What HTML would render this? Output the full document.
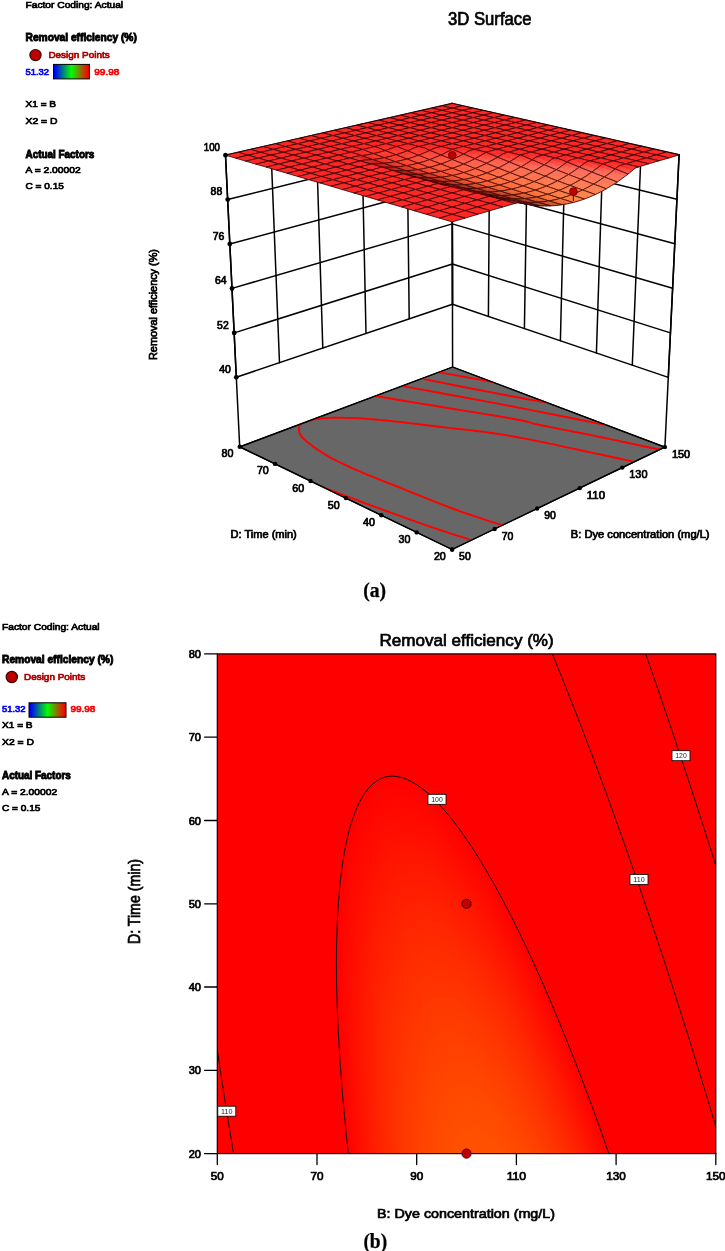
<!DOCTYPE html>
<html><head><meta charset="utf-8"><title>Figure</title><style>html,body{margin:0;padding:0;background:#fff}svg{display:block}</style></head><body>
<svg width="725" height="1251" viewBox="0 0 725 1251">
<defs><linearGradient id="lg" x1="0" x2="1" y1="0" y2="0"><stop offset="0.04" stop-color="#0000ff"/><stop offset="0.5" stop-color="#00ff00"/><stop offset="0.96" stop-color="#ff0000"/></linearGradient></defs>
<rect width="725" height="1251" fill="#fff"/>
<text x="25.5" y="8.2" font-family='"Liberation Sans", sans-serif' font-size="9.6" font-weight="normal" fill="#000" text-anchor="start" textLength="97.6" lengthAdjust="spacingAndGlyphs" stroke="#000" stroke-width="0.7">Factor Coding: Actual</text>
<text x="25.5" y="41.0" font-family='"Liberation Sans", sans-serif' font-size="10.8" font-weight="bold" fill="#000" text-anchor="start" textLength="111.3" lengthAdjust="spacingAndGlyphs" stroke="#000" stroke-width="0.9">Removal efficiency (%)</text>
<circle cx="35.5" cy="55.1" r="5.6" fill="#c00000" stroke="#3a0000" stroke-width="1.2"/>
<text x="48.4" y="57.6" font-family='"Liberation Sans", sans-serif' font-size="9.6" font-weight="normal" fill="#b00000" text-anchor="start" textLength="61.3" lengthAdjust="spacingAndGlyphs" stroke="#b00000" stroke-width="0.7">Design Points</text>
<text x="25.5" y="75.0" font-family='"Liberation Sans", sans-serif' font-size="9.6" font-weight="normal" fill="#0000ff" text-anchor="start" textLength="23.6" lengthAdjust="spacingAndGlyphs" stroke="#0000ff" stroke-width="0.7">51.32</text>
<rect x="53.5" y="64.4" width="35.9" height="14.5" fill="url(#lg)" stroke="#000" stroke-width="1"/>
<text x="94.3" y="75.0" font-family='"Liberation Sans", sans-serif' font-size="9.6" font-weight="normal" fill="#ff0000" text-anchor="start" textLength="25.0" lengthAdjust="spacingAndGlyphs" stroke="#ff0000" stroke-width="0.7">99.98</text>
<text x="25.5" y="106.9" font-family='"Liberation Sans", sans-serif' font-size="9.6" font-weight="normal" fill="#000" text-anchor="start" textLength="30.6" lengthAdjust="spacingAndGlyphs" stroke="#000" stroke-width="0.7">X1 = B</text>
<text x="25.5" y="124.0" font-family='"Liberation Sans", sans-serif' font-size="9.6" font-weight="normal" fill="#000" text-anchor="start" textLength="32.0" lengthAdjust="spacingAndGlyphs" stroke="#000" stroke-width="0.7">X2 = D</text>
<text x="25.5" y="157.5" font-family='"Liberation Sans", sans-serif' font-size="10.8" font-weight="bold" fill="#000" text-anchor="start" textLength="68.8" lengthAdjust="spacingAndGlyphs" stroke="#000" stroke-width="0.9">Actual Factors</text>
<text x="25.5" y="173.4" font-family='"Liberation Sans", sans-serif' font-size="9.6" font-weight="normal" fill="#000" text-anchor="start" textLength="55.2" lengthAdjust="spacingAndGlyphs" stroke="#000" stroke-width="0.7">A = 2.00002</text>
<text x="25.5" y="188.8" font-family='"Liberation Sans", sans-serif' font-size="9.6" font-weight="normal" fill="#000" text-anchor="start" textLength="38.4" lengthAdjust="spacingAndGlyphs" stroke="#000" stroke-width="0.7">C = 0.15</text>
<text x="2.0" y="629.9" font-family='"Liberation Sans", sans-serif' font-size="9.6" font-weight="normal" fill="#000" text-anchor="start" textLength="97.6" lengthAdjust="spacingAndGlyphs" stroke="#000" stroke-width="0.7">Factor Coding: Actual</text>
<text x="2.0" y="662.6" font-family='"Liberation Sans", sans-serif' font-size="10.8" font-weight="bold" fill="#000" text-anchor="start" textLength="111.3" lengthAdjust="spacingAndGlyphs" stroke="#000" stroke-width="0.9">Removal efficiency (%)</text>
<circle cx="11.8" cy="677.0" r="5.6" fill="#c00000" stroke="#3a0000" stroke-width="1.2"/>
<text x="24.0" y="679.5" font-family='"Liberation Sans", sans-serif' font-size="9.6" font-weight="normal" fill="#b00000" text-anchor="start" textLength="61.3" lengthAdjust="spacingAndGlyphs" stroke="#b00000" stroke-width="0.7">Design Points</text>
<text x="2.0" y="712.3" font-family='"Liberation Sans", sans-serif' font-size="9.6" font-weight="normal" fill="#0000ff" text-anchor="start" textLength="23.6" lengthAdjust="spacingAndGlyphs" stroke="#0000ff" stroke-width="0.7">51.32</text>
<rect x="29.0" y="702.8" width="37.0" height="14.4" fill="url(#lg)" stroke="#000" stroke-width="1"/>
<text x="70.4" y="712.3" font-family='"Liberation Sans", sans-serif' font-size="9.6" font-weight="normal" fill="#ff0000" text-anchor="start" textLength="25.0" lengthAdjust="spacingAndGlyphs" stroke="#ff0000" stroke-width="0.7">99.98</text>
<text x="2.0" y="728.3" font-family='"Liberation Sans", sans-serif' font-size="9.6" font-weight="normal" fill="#000" text-anchor="start" textLength="30.6" lengthAdjust="spacingAndGlyphs" stroke="#000" stroke-width="0.7">X1 = B</text>
<text x="2.0" y="745.3" font-family='"Liberation Sans", sans-serif' font-size="9.6" font-weight="normal" fill="#000" text-anchor="start" textLength="32.0" lengthAdjust="spacingAndGlyphs" stroke="#000" stroke-width="0.7">X2 = D</text>
<text x="2.0" y="778.7" font-family='"Liberation Sans", sans-serif' font-size="10.8" font-weight="bold" fill="#000" text-anchor="start" textLength="68.8" lengthAdjust="spacingAndGlyphs" stroke="#000" stroke-width="0.9">Actual Factors</text>
<text x="2.0" y="795.2" font-family='"Liberation Sans", sans-serif' font-size="9.6" font-weight="normal" fill="#000" text-anchor="start" textLength="55.2" lengthAdjust="spacingAndGlyphs" stroke="#000" stroke-width="0.7">A = 2.00002</text>
<text x="2.0" y="810.7" font-family='"Liberation Sans", sans-serif' font-size="9.6" font-weight="normal" fill="#000" text-anchor="start" textLength="38.4" lengthAdjust="spacingAndGlyphs" stroke="#000" stroke-width="0.7">C = 0.15</text>
<text x="489.7" y="24.7" font-family='"Liberation Sans", sans-serif' font-size="17.8" font-weight="normal" fill="#000" text-anchor="middle" textLength="83.4" lengthAdjust="spacingAndGlyphs" stroke="#000" stroke-width="0.7">3D Surface</text>
<line x1="225.5" y1="155.2" x2="452.1" y2="103.5" stroke="#000" stroke-width="1.5" stroke-linecap="round"/>
<line x1="452.1" y1="103.5" x2="679.1" y2="154.7" stroke="#000" stroke-width="1.5" stroke-linecap="round"/>
<line x1="227.7" y1="199.6" x2="452.2" y2="143.6" stroke="#000" stroke-width="1.5" stroke-linecap="round"/>
<line x1="452.2" y1="143.6" x2="676.9" y2="199.2" stroke="#000" stroke-width="1.5" stroke-linecap="round"/>
<line x1="229.8" y1="244.0" x2="452.3" y2="183.8" stroke="#000" stroke-width="1.5" stroke-linecap="round"/>
<line x1="452.3" y1="183.8" x2="674.8" y2="243.8" stroke="#000" stroke-width="1.5" stroke-linecap="round"/>
<line x1="232.0" y1="288.4" x2="452.3" y2="223.9" stroke="#000" stroke-width="1.5" stroke-linecap="round"/>
<line x1="452.3" y1="223.9" x2="672.6" y2="288.3" stroke="#000" stroke-width="1.5" stroke-linecap="round"/>
<line x1="234.2" y1="332.9" x2="452.4" y2="264.0" stroke="#000" stroke-width="1.5" stroke-linecap="round"/>
<line x1="452.4" y1="264.0" x2="670.4" y2="332.9" stroke="#000" stroke-width="1.5" stroke-linecap="round"/>
<line x1="236.3" y1="377.3" x2="452.5" y2="304.2" stroke="#000" stroke-width="1.5" stroke-linecap="round"/>
<line x1="452.5" y1="304.2" x2="668.3" y2="377.4" stroke="#000" stroke-width="1.5" stroke-linecap="round"/>
<line x1="236.3" y1="377.3" x2="225.5" y2="155.2" stroke="#000" stroke-width="1.5" stroke-linecap="round"/>
<line x1="279.5" y1="362.7" x2="270.8" y2="144.9" stroke="#000" stroke-width="1.5" stroke-linecap="round"/>
<line x1="322.8" y1="348.0" x2="316.1" y2="134.5" stroke="#000" stroke-width="1.5" stroke-linecap="round"/>
<line x1="366.0" y1="333.4" x2="361.5" y2="124.2" stroke="#000" stroke-width="1.5" stroke-linecap="round"/>
<line x1="409.2" y1="318.8" x2="406.8" y2="113.8" stroke="#000" stroke-width="1.5" stroke-linecap="round"/>
<line x1="452.5" y1="304.2" x2="452.1" y2="103.5" stroke="#000" stroke-width="1.5" stroke-linecap="round"/>
<line x1="452.5" y1="304.2" x2="452.1" y2="103.5" stroke="#000" stroke-width="1.5" stroke-linecap="round"/>
<line x1="488.4" y1="316.4" x2="489.9" y2="112.0" stroke="#000" stroke-width="1.5" stroke-linecap="round"/>
<line x1="524.4" y1="328.6" x2="527.8" y2="120.6" stroke="#000" stroke-width="1.5" stroke-linecap="round"/>
<line x1="560.4" y1="340.8" x2="565.6" y2="129.1" stroke="#000" stroke-width="1.5" stroke-linecap="round"/>
<line x1="596.4" y1="353.0" x2="603.4" y2="137.6" stroke="#000" stroke-width="1.5" stroke-linecap="round"/>
<line x1="632.3" y1="365.2" x2="641.3" y2="146.2" stroke="#000" stroke-width="1.5" stroke-linecap="round"/>
<line x1="668.3" y1="377.4" x2="679.1" y2="154.7" stroke="#000" stroke-width="1.5" stroke-linecap="round"/>
<line x1="239.7" y1="446.8" x2="225.5" y2="155.2" stroke="#000" stroke-width="1.5" stroke-linecap="round"/>
<line x1="452.6" y1="367.0" x2="452.1" y2="103.5" stroke="#000" stroke-width="1.5" stroke-linecap="round"/>
<line x1="664.9" y1="447.1" x2="679.1" y2="154.7" stroke="#000" stroke-width="1.5" stroke-linecap="round"/>
<polygon points="239.7,446.8 452.1,549.5 664.9,447.1 452.6,367.0" fill="#676767" stroke="#000" stroke-width="1.3" stroke-linejoin="round"/>
<clipPath id="fc"><polygon points="239.7,446.8 452.1,549.5 664.9,447.1 452.6,367.0"/></clipPath><g clip-path="url(#fc)">
<polyline points="507.0,526.8 506.8,526.7 506.9,526.8 507.0,526.8 506.9,526.8 506.5,526.6 505.5,526.3 503.8,525.8 501.2,524.9 497.6,523.7 493.0,522.3 487.8,520.6 482.0,518.7 475.8,516.7 469.4,514.5 462.9,512.3 456.5,510.0 449.8,507.5 442.4,504.6 434.6,501.6 426.8,498.4 419.1,495.4 411.9,492.5 405.4,489.9 400.0,487.7 395.7,486.0 392.2,484.6 389.4,483.5 387.1,482.6 385.2,481.8 383.3,481.1 381.4,480.4 379.3,479.5 377.0,478.6 374.9,477.7 372.8,476.9 370.8,476.1 368.8,475.3 366.8,474.5 364.8,473.7 362.8,472.8 360.7,471.9 358.7,471.0 356.6,470.1 354.5,469.2 352.4,468.3 350.3,467.3 348.3,466.4 346.2,465.4 344.1,464.4 342.1,463.4 340.0,462.5 337.9,461.5 335.9,460.4 333.8,459.4 331.8,458.3 329.7,457.1 327.6,455.9 325.4,454.6 323.3,453.2 321.1,451.9 319.0,450.5 316.9,449.1 314.9,447.7 313.1,446.4 311.3,445.1 309.6,443.8 308.0,442.5 306.4,441.2 305.0,439.9 303.6,438.7 302.5,437.5 301.5,436.4 300.7,435.3 300.1,434.3 299.7,433.4 299.4,432.4 299.2,431.5 299.1,430.7 299.0,429.8 299.0,429.0 299.0,428.2 299.1,427.4 299.2,426.6 299.4,425.9 299.7,425.2 300.1,424.5 300.7,423.8 301.5,423.2 302.5,422.6 303.6,422.1 305.0,421.6 306.4,421.1 308.0,420.6 309.6,420.2 311.3,419.8 313.1,419.5 314.9,419.2 316.9,418.9 319.0,418.7 321.1,418.5 323.3,418.3 325.4,418.1 327.6,418.0 329.7,417.9 331.8,417.8 333.8,417.8 335.9,417.8 337.9,417.8 340.0,417.8 342.1,417.8 344.1,417.9 346.2,417.9 348.3,417.9 350.3,418.0 352.4,418.0 354.5,418.1 356.6,418.2 358.7,418.3 360.7,418.4 362.8,418.5 364.8,418.6 366.8,418.8 368.8,418.9 370.8,419.1 372.8,419.3 374.9,419.5 377.0,419.7 379.3,419.9 381.5,420.1 383.6,420.3 385.7,420.5 387.9,420.7 390.3,420.9 393.0,421.2 396.2,421.6 400.0,422.0 404.4,422.5 409.5,423.1 415.0,423.8 420.9,424.5 426.9,425.2 433.0,426.0 439.0,426.7 444.8,427.4 450.4,428.1 456.0,428.7 461.6,429.3 467.2,429.9 472.8,430.5 478.4,431.2 484.0,431.9 489.6,432.7 495.2,433.5 500.8,434.4 506.4,435.4 512.0,436.3 517.7,437.3 523.3,438.4 528.9,439.4 534.5,440.5 540.1,441.6 545.7,442.8 551.3,443.9 556.9,445.1 562.5,446.4 568.1,447.6 573.7,448.8 579.3,450.0 585.1,451.2 591.3,452.6 597.6,453.9 603.9,455.3 609.9,456.5 615.4,457.7 620.2,458.8 624.1,459.6 627.0,460.2 629.1,460.7 630.4,461.0 631.3,461.2 631.9,461.3 632.4,461.4 632.9,461.5 633.7,461.7 634.7,461.9 635.7,462.1 636.6,462.3 637.5,462.5 638.2,462.6 638.9,462.8 639.5,462.9 640.0,463.0" fill="none" stroke="#f00" stroke-width="1.9" stroke-linecap="butt" stroke-linejoin="round"/>
<polyline points="320.6,486.4 322.6,487.2 325.4,488.2 328.7,489.4 332.4,490.8 336.1,492.2 339.8,493.6 343.3,494.9 346.2,496.0 348.7,496.9 351.0,497.8 353.1,498.6 355.1,499.4 357.0,500.1 358.9,500.8 360.8,501.5 362.8,502.3 364.8,503.1 366.8,503.8 368.8,504.5 370.8,505.3 372.8,506.0 374.9,506.8 377.0,507.6 379.3,508.4 381.6,509.2 384.0,510.1 386.3,511.0 388.8,511.9 391.4,512.8 394.1,513.8 396.9,514.8 400.0,515.9 403.2,517.1 406.6,518.3 410.1,519.6 413.8,520.9 417.6,522.3 421.6,523.7 425.7,525.1 430.0,526.6 434.8,528.2 440.2,530.0 445.9,531.9 451.7,533.8 457.3,535.6 462.4,537.2 466.8,538.7 470.3,539.8 472.7,540.6 474.3,541.1 475.2,541.4 475.7,541.5 475.8,541.6 475.8,541.5 475.8,541.5 476.0,541.6" fill="none" stroke="#f00" stroke-width="1.9" stroke-linecap="butt" stroke-linejoin="round"/>
<polyline points="439.7,372.4 496.8,382.8" fill="none" stroke="#f00" stroke-width="1.9" stroke-linecap="butt" stroke-linejoin="round"/>
<polyline points="423.9,379.1 430.9,380.5 440.5,382.4 452.1,384.7 464.7,387.2 477.6,389.7 490.0,392.1 501.0,394.3 510.0,396.0 517.1,397.3 523.4,398.5 528.8,399.5 533.4,400.3 537.3,400.9 540.7,401.5 543.6,402.0 546.0,402.4" fill="none" stroke="#f00" stroke-width="1.9" stroke-linecap="butt" stroke-linejoin="round"/>
<polyline points="404.0,386.4 412.2,387.9 423.2,389.9 436.3,392.3 450.8,395.0 466.1,397.8 481.5,400.6 496.4,403.4 510.0,406.0 523.4,408.6 537.5,411.4 552.0,414.2 566.1,417.0 579.4,419.7 591.3,422.1 601.3,424.1 608.9,425.6" fill="none" stroke="#f00" stroke-width="1.9" stroke-linecap="butt" stroke-linejoin="round"/>
<polyline points="375.7,395.8 376.1,395.9 375.8,395.9 375.4,395.9 375.3,395.9 376.3,396.1 378.7,396.6 383.1,397.3 390.0,398.5 400.6,400.2 414.7,402.6 431.2,405.2 449.0,408.2 466.9,411.1 483.9,413.9 498.6,416.3 510.0,418.3 517.9,419.7 523.1,420.8 526.5,421.5 528.8,422.1 530.5,422.7 532.5,423.3 535.4,424.0 540.0,425.0 546.1,426.2 552.9,427.6 560.3,429.1 568.2,430.6 576.3,432.2 584.4,433.8 592.3,435.4 600.0,437.0 607.8,438.6 616.2,440.4 624.8,442.2 633.2,444.0 641.2,445.7 648.4,447.2 654.5,448.5 659.0,449.5" fill="none" stroke="#f00" stroke-width="1.9" stroke-linecap="butt" stroke-linejoin="round"/>
</g>
<polygon points="239.7,446.8 452.1,549.5 664.9,447.1 452.6,367.0" fill="none" stroke="#000" stroke-width="1.3" stroke-linejoin="round"/>
<style>.m{stroke:#2a0000;stroke-width:0.8;stroke-linejoin:round}.o{fill:none;stroke:#2a0000;stroke-width:0.8;stroke-linejoin:round}</style>
<g><polygon points="452.3,108.1 462.4,105.8 452.3,103.5 442.2,105.8" fill="#ff2626" class="m"/><polygon points="442.0,110.4 452.3,108.1 442.2,105.8 431.9,108.1" fill="#ff2626" class="m"/><polygon points="462.5,110.4 472.6,108.1 462.4,105.8 452.3,108.1" fill="#ff2626" class="m"/><polygon points="431.7,112.8 442.0,110.4 431.9,108.1 421.6,110.5" fill="#ff2626" class="m"/><polygon points="452.3,112.8 462.5,110.4 452.3,108.1 442.0,110.4" fill="#ff2626" class="m"/><polygon points="472.8,112.8 482.9,110.4 472.6,108.1 462.5,110.4" fill="#ff2626" class="m"/><polygon points="421.2,115.2 431.7,112.8 421.6,110.5 411.2,112.8" fill="#ff2626" class="m"/><polygon points="441.9,115.2 452.3,112.8 442.0,110.4 431.7,112.8" fill="#ff2626" class="m"/><polygon points="462.6,115.2 472.8,112.8 462.5,110.4 452.3,112.8" fill="#ff2626" class="m"/><polygon points="483.3,115.2 493.4,112.8 482.9,110.4 472.8,112.8" fill="#ff2626" class="m"/><polygon points="410.7,117.7 421.2,115.2 411.2,112.8 400.6,115.3" fill="#ff2626" class="m"/><polygon points="431.5,117.7 441.9,115.2 431.7,112.8 421.2,115.2" fill="#ff2626" class="m"/><polygon points="452.3,117.7 462.6,115.2 452.3,112.8 441.9,115.2" fill="#ff2626" class="m"/><polygon points="473.1,117.6 483.3,115.2 472.8,112.8 462.6,115.2" fill="#ff2626" class="m"/><polygon points="493.9,117.6 504.0,115.2 493.4,112.8 483.3,115.2" fill="#ff2626" class="m"/><polygon points="400.0,120.2 410.7,117.7 400.6,115.3 389.9,117.7" fill="#ff2626" class="m"/><polygon points="420.9,120.1 431.5,117.7 421.2,115.2 410.7,117.7" fill="#ff2626" class="m"/><polygon points="441.8,120.1 452.3,117.7 441.9,115.2 431.5,117.7" fill="#ff2626" class="m"/><polygon points="462.7,120.1 473.1,117.6 462.6,115.2 452.3,117.7" fill="#ff2626" class="m"/><polygon points="483.6,120.1 493.9,117.6 483.3,115.2 473.1,117.6" fill="#ff2626" class="m"/><polygon points="504.6,120.1 514.7,117.6 504.0,115.2 493.9,117.6" fill="#ff2626" class="m"/><polygon points="389.1,122.7 400.0,120.2 389.9,117.7 379.0,120.2" fill="#ff2626" class="m"/><polygon points="410.2,122.6 420.9,120.1 410.7,117.7 400.0,120.2" fill="#ff2626" class="m"/><polygon points="431.2,122.6 441.8,120.1 431.5,117.7 420.9,120.1" fill="#ff2626" class="m"/><polygon points="452.3,122.6 462.7,120.1 452.3,117.7 441.8,120.1" fill="#ff2626" class="m"/><polygon points="473.3,122.6 483.6,120.1 473.1,117.6 462.7,120.1" fill="#ff2626" class="m"/><polygon points="494.4,122.6 504.6,120.1 493.9,117.6 483.6,120.1" fill="#ff2626" class="m"/><polygon points="515.4,122.6 525.5,120.1 514.7,117.6 504.6,120.1" fill="#ff2626" class="m"/><polygon points="378.2,125.2 389.1,122.7 379.0,120.2 368.1,122.7" fill="#ff2626" class="m"/><polygon points="399.3,125.2 410.2,122.6 400.0,120.2 389.1,122.7" fill="#ff2626" class="m"/><polygon points="420.5,125.2 431.2,122.6 420.9,120.1 410.2,122.6" fill="#ff2626" class="m"/><polygon points="441.7,125.1 452.3,122.6 441.8,120.1 431.2,122.6" fill="#ff2626" class="m"/><polygon points="462.8,125.1 473.3,122.6 462.7,120.1 452.3,122.6" fill="#ff2626" class="m"/><polygon points="484.0,125.1 494.4,122.6 483.6,120.1 473.3,122.6" fill="#ff2626" class="m"/><polygon points="505.2,125.1 515.4,122.6 504.6,120.1 494.4,122.6" fill="#ff2626" class="m"/><polygon points="526.4,125.1 536.5,122.6 525.5,120.1 515.4,122.6" fill="#ff2626" class="m"/><polygon points="367.1,127.7 378.2,125.2 368.1,122.7 357.0,125.2" fill="#ff2626" class="m"/><polygon points="388.4,127.7 399.3,125.2 389.1,122.7 378.2,125.2" fill="#ff2626" class="m"/><polygon points="409.7,127.7 420.5,125.2 410.2,122.6 399.3,125.2" fill="#ff2626" class="m"/><polygon points="431.0,127.7 441.7,125.1 431.2,122.6 420.5,125.2" fill="#ff2626" class="m"/><polygon points="452.3,127.7 462.8,125.1 452.3,122.6 441.7,125.1" fill="#ff2626" class="m"/><polygon points="473.6,127.7 484.0,125.1 473.3,122.6 462.8,125.1" fill="#ff2626" class="m"/><polygon points="494.9,127.7 505.2,125.1 494.4,122.6 484.0,125.1" fill="#ff2626" class="m"/><polygon points="516.2,127.7 526.4,125.1 515.4,122.6 505.2,125.1" fill="#ff2626" class="m"/><polygon points="537.5,127.6 547.6,125.1 536.5,122.6 526.4,125.1" fill="#ff2626" class="m"/><polygon points="355.8,130.3 367.1,127.7 357.0,125.2 345.8,127.8" fill="#ff2626" class="m"/><polygon points="377.2,130.3 388.4,127.7 378.2,125.2 367.1,127.7" fill="#ff2626" class="m"/><polygon points="398.7,130.3 409.7,127.7 399.3,125.2 388.4,127.7" fill="#ff2626" class="m"/><polygon points="420.1,130.3 431.0,127.7 420.5,125.2 409.7,127.7" fill="#ff2626" class="m"/><polygon points="441.5,130.3 452.3,127.7 441.7,125.1 431.0,127.7" fill="#ff2626" class="m"/><polygon points="463.0,130.3 473.6,127.7 462.8,125.1 452.3,127.7" fill="#ff2626" class="m"/><polygon points="484.4,130.3 494.9,127.7 484.0,125.1 473.6,127.7" fill="#ff2626" class="m"/><polygon points="505.9,130.2 516.2,127.7 505.2,125.1 494.9,127.7" fill="#ff2626" class="m"/><polygon points="527.3,130.2 537.5,127.6 526.4,125.1 516.2,127.7" fill="#ff2626" class="m"/><polygon points="548.7,130.2 558.8,127.6 547.6,125.1 537.5,127.6" fill="#ff2626" class="m"/><polygon points="344.4,133.0 355.8,130.3 345.8,127.8 334.4,130.3" fill="#ff2626" class="m"/><polygon points="366.0,132.9 377.2,130.3 367.1,127.7 355.8,130.3" fill="#ff2626" class="m"/><polygon points="387.6,132.9 398.7,130.3 388.4,127.7 377.2,130.3" fill="#ff2626" class="m"/><polygon points="409.1,132.9 420.1,130.3 409.7,127.7 398.7,130.3" fill="#ff2626" class="m"/><polygon points="430.7,132.9 441.5,130.3 431.0,127.7 420.1,130.3" fill="#ff2626" class="m"/><polygon points="452.3,132.9 463.0,130.3 452.3,127.7 441.5,130.3" fill="#ff2626" class="m"/><polygon points="473.8,132.9 484.4,130.3 473.6,127.7 463.0,130.3" fill="#ff2626" class="m"/><polygon points="495.4,132.9 505.9,130.2 494.9,127.7 484.4,130.3" fill="#ff2626" class="m"/><polygon points="517.0,132.9 527.3,130.2 516.2,127.7 505.9,130.2" fill="#ff2626" class="m"/><polygon points="538.5,132.8 548.7,130.2 537.5,127.6 527.3,130.2" fill="#ff2626" class="m"/><polygon points="560.1,132.8 570.2,130.2 558.8,127.6 548.7,130.2" fill="#ff2626" class="m"/><polygon points="332.9,135.6 344.4,133.0 334.4,130.3 322.9,133.0" fill="#ff2626" class="m"/><polygon points="354.6,135.6 366.0,132.9 355.8,130.3 344.4,133.0" fill="#ff2626" class="m"/><polygon points="376.3,135.6 387.6,132.9 377.2,130.3 366.0,132.9" fill="#ff2626" class="m"/><polygon points="398.0,135.6 409.1,132.9 398.7,130.3 387.6,132.9" fill="#ff2626" class="m"/><polygon points="419.7,135.6 430.7,132.9 420.1,130.3 409.1,132.9" fill="#ff2626" class="m"/><polygon points="441.4,135.5 452.3,132.9 441.5,130.3 430.7,132.9" fill="#ff2626" class="m"/><polygon points="463.1,135.5 473.8,132.9 463.0,130.3 452.3,132.9" fill="#ff2626" class="m"/><polygon points="484.8,135.5 495.4,132.9 484.4,130.3 473.8,132.9" fill="#ff2626" class="m"/><polygon points="506.5,135.5 517.0,132.9 505.9,130.2 495.4,132.9" fill="#ff2626" class="m"/><polygon points="528.2,135.5 538.5,132.8 527.3,130.2 517.0,132.9" fill="#ff2626" class="m"/><polygon points="549.9,135.5 560.1,132.8 548.7,130.2 538.5,132.8" fill="#ff2626" class="m"/><polygon points="571.6,135.5 581.7,132.8 570.2,130.2 560.1,132.8" fill="#ff2626" class="m"/><polygon points="321.3,138.3 332.9,135.6 322.9,133.0 311.2,135.6" fill="#ff2626" class="m"/><polygon points="343.1,138.3 354.6,135.6 344.4,133.0 332.9,135.6" fill="#ff2626" class="m"/><polygon points="364.9,138.3 376.3,135.6 366.0,132.9 354.6,135.6" fill="#ff2626" class="m"/><polygon points="386.8,138.3 398.0,135.6 387.6,132.9 376.3,135.6" fill="#ff2626" class="m"/><polygon points="408.6,138.2 419.7,135.6 409.1,132.9 398.0,135.6" fill="#ff2626" class="m"/><polygon points="430.4,138.2 441.4,135.5 430.7,132.9 419.7,135.6" fill="#ff2626" class="m"/><polygon points="452.3,138.2 463.1,135.5 452.3,132.9 441.4,135.5" fill="#ff2626" class="m"/><polygon points="474.1,138.2 484.8,135.5 473.8,132.9 463.1,135.5" fill="#ff2626" class="m"/><polygon points="495.9,138.2 506.5,135.5 495.4,132.9 484.8,135.5" fill="#ff2626" class="m"/><polygon points="517.8,138.2 528.2,135.5 517.0,132.9 506.5,135.5" fill="#ff2626" class="m"/><polygon points="539.6,138.2 549.9,135.5 538.5,132.8 528.2,135.5" fill="#ff2626" class="m"/><polygon points="561.5,138.2 571.6,135.5 560.1,132.8 549.9,135.5" fill="#ff2626" class="m"/><polygon points="583.3,138.1 593.4,135.5 581.7,132.8 571.6,135.5" fill="#ff2626" class="m"/><polygon points="309.5,141.0 321.3,138.3 311.2,135.6 299.5,138.3" fill="#ff2626" class="m"/><polygon points="331.4,141.0 343.1,138.3 332.9,135.6 321.3,138.3" fill="#ff2626" class="m"/><polygon points="353.4,141.0 364.9,138.3 354.6,135.6 343.1,138.3" fill="#ff2626" class="m"/><polygon points="375.4,141.0 386.8,138.3 376.3,135.6 364.9,138.3" fill="#ff2626" class="m"/><polygon points="397.3,141.0 408.6,138.2 398.0,135.6 386.8,138.3" fill="#ff2626" class="m"/><polygon points="419.3,141.0 430.4,138.2 419.7,135.6 408.6,138.2" fill="#ff2626" class="m"/><polygon points="441.3,140.9 452.3,138.2 441.4,135.5 430.4,138.2" fill="#ff2626" class="m"/><polygon points="463.2,140.9 474.1,138.2 463.1,135.5 452.3,138.2" fill="#ff2626" class="m"/><polygon points="485.2,140.9 495.9,138.2 484.8,135.5 474.1,138.2" fill="#ff2626" class="m"/><polygon points="507.2,140.9 517.8,138.2 506.5,135.5 495.9,138.2" fill="#ff2626" class="m"/><polygon points="529.2,140.9 539.6,138.2 528.2,135.5 517.8,138.2" fill="#ff2626" class="m"/><polygon points="551.2,140.9 561.5,138.2 549.9,135.5 539.6,138.2" fill="#ff2626" class="m"/><polygon points="573.1,140.9 583.3,138.1 571.6,135.5 561.5,138.2" fill="#ff2626" class="m"/><polygon points="595.1,140.9 605.2,138.1 593.4,135.5 583.3,138.1" fill="#ff2626" class="m"/><polygon points="297.5,143.8 309.5,141.0 299.5,138.3 287.5,141.0" fill="#ff2626" class="m"/><polygon points="319.6,143.8 331.4,141.0 321.3,138.3 309.5,141.0" fill="#ff2626" class="m"/><polygon points="341.7,143.8 353.4,141.0 343.1,138.3 331.4,141.0" fill="#ff2626" class="m"/><polygon points="363.8,143.7 375.4,141.0 364.9,138.3 353.4,141.0" fill="#ff2626" class="m"/><polygon points="385.9,143.7 397.3,141.0 386.8,138.3 375.4,141.0" fill="#ff2626" class="m"/><polygon points="408.0,143.7 419.3,141.0 408.6,138.2 397.3,141.0" fill="#ff2626" class="m"/><polygon points="430.1,143.7 441.3,140.9 430.4,138.2 419.3,141.0" fill="#ff2626" class="m"/><polygon points="452.3,143.7 463.2,140.9 452.3,138.2 441.3,140.9" fill="#ff2626" class="m"/><polygon points="474.4,143.7 485.2,140.9 474.1,138.2 463.2,140.9" fill="#ff2626" class="m"/><polygon points="496.5,143.7 507.2,140.9 495.9,138.2 485.2,140.9" fill="#ff2626" class="m"/><polygon points="518.6,143.7 529.2,140.9 517.8,138.2 507.2,140.9" fill="#ff2626" class="m"/><polygon points="540.7,143.6 551.2,140.9 539.6,138.2 529.2,140.9" fill="#ff2626" class="m"/><polygon points="562.8,143.6 573.1,140.9 561.5,138.2 551.2,140.9" fill="#ff2626" class="m"/><polygon points="585.0,143.6 595.1,140.9 583.3,138.1 573.1,140.9" fill="#ff2626" class="m"/><polygon points="607.1,143.6 617.1,140.8 605.2,138.1 595.1,140.9" fill="#ff2626" class="m"/><polygon points="285.4,146.6 297.5,143.8 287.5,141.0 275.4,143.8" fill="#ff2626" class="m"/><polygon points="307.7,146.6 319.6,143.8 309.5,141.0 297.5,143.8" fill="#ff2626" class="m"/><polygon points="329.9,146.5 341.7,143.8 331.4,141.0 319.6,143.8" fill="#ff2626" class="m"/><polygon points="352.1,146.5 363.8,143.7 353.4,141.0 341.7,143.8" fill="#ff2626" class="m"/><polygon points="374.4,146.5 385.9,143.7 375.4,141.0 363.8,143.7" fill="#ff2626" class="m"/><polygon points="396.6,146.5 408.0,143.7 397.3,141.0 385.9,143.7" fill="#ff2626" class="m"/><polygon points="418.9,146.5 430.1,143.7 419.3,141.0 408.0,143.7" fill="#ff2626" class="m"/><polygon points="441.1,146.5 452.3,143.7 441.3,140.9 430.1,143.7" fill="#ff2626" class="m"/><polygon points="463.4,146.5 474.4,143.7 463.2,140.9 452.3,143.7" fill="#ff2626" class="m"/><polygon points="485.6,146.5 496.5,143.7 485.2,140.9 474.4,143.7" fill="#ff2626" class="m"/><polygon points="507.9,146.4 518.6,143.7 507.2,140.9 496.5,143.7" fill="#ff2626" class="m"/><polygon points="530.1,146.4 540.7,143.6 529.2,140.9 518.6,143.7" fill="#ff2626" class="m"/><polygon points="552.4,146.4 562.8,143.6 551.2,140.9 540.7,143.6" fill="#ff2626" class="m"/><polygon points="574.7,146.4 585.0,143.6 573.1,140.9 562.8,143.6" fill="#ff2626" class="m"/><polygon points="596.9,146.4 607.1,143.6 595.1,140.9 585.0,143.6" fill="#ff2626" class="m"/><polygon points="619.2,146.4 629.2,143.6 617.1,140.8 607.1,143.6" fill="#ff2626" class="m"/><polygon points="273.2,149.4 285.4,146.6 275.4,143.8 263.2,146.6" fill="#ff2626" class="m"/><polygon points="295.6,149.4 307.7,146.6 297.5,143.8 285.4,146.6" fill="#ff2626" class="m"/><polygon points="317.9,149.4 329.9,146.5 319.6,143.8 307.7,146.6" fill="#ff2626" class="m"/><polygon points="340.3,149.4 352.1,146.5 341.7,143.8 329.9,146.5" fill="#ff2626" class="m"/><polygon points="363.5,145.6 367.3,144.7 363.8,143.7 360.0,144.7" fill="#ff2626" stroke="#ff2626" stroke-width="0.6"/><polygon points="367.0,146.5 370.9,145.6 367.3,144.7 363.5,145.6" fill="#ff2626" stroke="#ff2626" stroke-width="0.6"/><polygon points="370.5,147.5 374.4,146.5 370.9,145.6 367.0,146.5" fill="#ff2626" stroke="#ff2626" stroke-width="0.6"/><polygon points="359.6,146.5 363.5,145.6 360.0,144.7 356.1,145.6" fill="#ff2626" stroke="#ff2626" stroke-width="0.6"/><polygon points="363.1,147.5 367.0,146.5 363.5,145.6 359.6,146.5" fill="#ff2626" stroke="#ff2626" stroke-width="0.6"/><polygon points="366.6,148.5 370.5,147.5 367.0,146.5 363.1,147.5" fill="#ff2626" stroke="#ff2626" stroke-width="0.6"/><polygon points="355.6,147.5 359.6,146.5 356.1,145.6 352.1,146.5" fill="#ff2626" stroke="#ff2626" stroke-width="0.6"/><polygon points="359.2,148.4 363.1,147.5 359.6,146.5 355.6,147.5" fill="#ff2626" stroke="#ff2626" stroke-width="0.6"/><polygon points="362.7,149.5 366.6,148.5 363.1,147.5 359.2,148.4" fill="#ff2626" stroke="#ff2626" stroke-width="0.6"/><polygon points="362.7,149.5 364.7,149.0 366.6,148.5 368.6,148.0 370.5,147.5 372.5,147.0 374.4,146.5 372.6,146.1 370.9,145.6 369.1,145.1 367.3,144.7 365.6,144.2 363.8,143.7 361.9,144.2 360.0,144.7 358.0,145.1 356.1,145.6 354.1,146.1 352.1,146.5 353.9,147.0 355.6,147.5 357.4,147.9 359.2,148.4 360.9,148.9" class="o"/><polygon points="385.7,145.6 389.5,144.6 385.9,143.7 382.1,144.7" fill="#ff2626" stroke="#ff2626" stroke-width="0.6"/><polygon points="389.2,146.5 393.1,145.6 389.5,144.6 385.7,145.6" fill="#ff2626" stroke="#ff2626" stroke-width="0.6"/><polygon points="392.8,147.8 396.6,146.5 393.1,145.6 389.2,146.5" fill="#ff2626" stroke="#ff2626" stroke-width="0.6"/><polygon points="381.8,146.5 385.7,145.6 382.1,144.7 378.3,145.6" fill="#ff2626" stroke="#ff2626" stroke-width="0.6"/><polygon points="385.4,147.7 389.2,146.5 385.7,145.6 381.8,146.5" fill="#ff2626" stroke="#ff2626" stroke-width="0.6"/><polygon points="389.0,149.2 392.8,147.8 389.2,146.5 385.4,147.7" fill="#ff2928" stroke="#ff2928" stroke-width="0.6"/><polygon points="377.9,147.6 381.8,146.5 378.3,145.6 374.4,146.5" fill="#ff2626" stroke="#ff2626" stroke-width="0.6"/><polygon points="381.5,149.0 385.4,147.7 381.8,146.5 377.9,147.6" fill="#ff2827" stroke="#ff2827" stroke-width="0.6"/><polygon points="385.1,150.5 389.0,149.2 385.4,147.7 381.5,149.0" fill="#ff2d2a" stroke="#ff2d2a" stroke-width="0.6"/><polygon points="385.1,150.5 387.0,149.9 389.0,149.2 390.9,148.5 392.8,147.8 394.7,147.1 396.6,146.5 394.8,146.0 393.1,145.6 391.3,145.1 389.5,144.6 387.7,144.2 385.9,143.7 384.0,144.2 382.1,144.7 380.2,145.1 378.3,145.6 376.3,146.1 374.4,146.5 376.2,147.0 377.9,147.6 379.7,148.3 381.5,149.0 383.3,149.8" class="o"/><polygon points="407.8,145.6 411.6,144.6 408.0,143.7 404.3,144.6" fill="#ff2626" stroke="#ff2626" stroke-width="0.6"/><polygon points="411.5,146.5 415.2,145.6 411.6,144.6 407.8,145.6" fill="#ff2626" stroke="#ff2626" stroke-width="0.6"/><polygon points="415.1,147.5 418.9,146.5 415.2,145.6 411.5,146.5" fill="#ff2626" stroke="#ff2626" stroke-width="0.6"/><polygon points="404.0,146.5 407.8,145.6 404.3,144.6 400.4,145.6" fill="#ff2626" stroke="#ff2626" stroke-width="0.6"/><polygon points="407.7,147.7 411.5,146.5 407.8,145.6 404.0,146.5" fill="#ff2626" stroke="#ff2626" stroke-width="0.6"/><polygon points="411.3,149.2 415.1,147.5 411.5,146.5 407.7,147.7" fill="#ff2828" stroke="#ff2828" stroke-width="0.6"/><polygon points="400.2,147.8 404.0,146.5 400.4,145.6 396.6,146.5" fill="#ff2626" stroke="#ff2626" stroke-width="0.6"/><polygon points="403.9,149.3 407.7,147.7 404.0,146.5 400.2,147.8" fill="#ff2928" stroke="#ff2928" stroke-width="0.6"/><polygon points="407.5,150.8 411.3,149.2 407.7,147.7 403.9,149.3" fill="#ff302c" stroke="#ff302c" stroke-width="0.6"/><polygon points="407.5,150.8 409.4,150.0 411.3,149.2 413.2,148.4 415.1,147.5 417.0,147.0 418.9,146.5 417.1,146.0 415.2,145.6 413.4,145.1 411.6,144.6 409.8,144.2 408.0,143.7 406.1,144.2 404.3,144.6 402.4,145.1 400.4,145.6 398.5,146.0 396.6,146.5 398.4,147.0 400.2,147.8 402.0,148.5 403.9,149.3 405.7,150.0" class="o"/><polygon points="430.0,145.6 433.8,144.6 430.1,143.7 426.4,144.6" fill="#ff2626" stroke="#ff2626" stroke-width="0.6"/><polygon points="433.7,146.5 437.4,145.6 433.8,144.6 430.0,145.6" fill="#ff2626" stroke="#ff2626" stroke-width="0.6"/><polygon points="437.4,147.4 441.1,146.5 437.4,145.6 433.7,146.5" fill="#ff2626" stroke="#ff2626" stroke-width="0.6"/><polygon points="426.3,146.5 430.0,145.6 426.4,144.6 422.6,145.6" fill="#ff2626" stroke="#ff2626" stroke-width="0.6"/><polygon points="430.0,147.4 433.7,146.5 430.0,145.6 426.3,146.5" fill="#ff2626" stroke="#ff2626" stroke-width="0.6"/><polygon points="433.6,148.5 437.4,147.4 433.7,146.5 430.0,147.4" fill="#ff2626" stroke="#ff2626" stroke-width="0.6"/><polygon points="422.5,147.4 426.3,146.5 422.6,145.6 418.9,146.5" fill="#ff2626" stroke="#ff2626" stroke-width="0.6"/><polygon points="426.2,148.8 430.0,147.4 426.3,146.5 422.5,147.4" fill="#ff2626" stroke="#ff2626" stroke-width="0.6"/><polygon points="429.9,150.4 433.6,148.5 430.0,147.4 426.2,148.8" fill="#ff2a29" stroke="#ff2a29" stroke-width="0.6"/><polygon points="429.9,150.4 431.7,149.5 433.6,148.5 435.5,147.9 437.4,147.4 439.3,146.9 441.1,146.5 439.3,146.0 437.4,145.6 435.6,145.1 433.8,144.6 432.0,144.2 430.1,143.7 428.3,144.2 426.4,144.6 424.5,145.1 422.6,145.6 420.8,146.0 418.9,146.5 420.7,147.0 422.5,147.4 424.4,148.0 426.2,148.8 428.0,149.6" class="o"/><polygon points="452.3,149.3 463.4,146.5 452.3,143.7 441.1,146.5" fill="#ff2626" class="m"/><polygon points="474.6,149.3 485.6,146.5 474.4,143.7 463.4,146.5" fill="#ff2626" class="m"/><polygon points="497.0,149.3 507.9,146.4 496.5,143.7 485.6,146.5" fill="#ff2626" class="m"/><polygon points="519.4,149.3 530.1,146.4 518.6,143.7 507.9,146.4" fill="#ff2626" class="m"/><polygon points="541.8,149.2 552.4,146.4 540.7,143.6 530.1,146.4" fill="#ff2626" class="m"/><polygon points="564.2,149.2 574.7,146.4 562.8,143.6 552.4,146.4" fill="#ff2626" class="m"/><polygon points="586.6,149.2 596.9,146.4 585.0,143.6 574.7,146.4" fill="#ff2626" class="m"/><polygon points="609.1,149.2 619.2,146.4 607.1,143.6 596.9,146.4" fill="#ff2626" class="m"/><polygon points="631.5,149.2 641.5,146.4 629.2,143.6 619.2,146.4" fill="#ff2626" class="m"/><polygon points="260.8,152.3 273.2,149.4 263.2,146.6 250.8,149.4" fill="#ff2626" class="m"/><polygon points="283.3,152.2 295.6,149.4 285.4,146.6 273.2,149.4" fill="#ff2626" class="m"/><polygon points="305.8,152.2 317.9,149.4 307.7,146.6 295.6,149.4" fill="#ff2626" class="m"/><polygon points="328.3,152.2 340.3,149.4 329.9,146.5 317.9,149.4" fill="#ff2626" class="m"/><polygon points="351.7,148.4 355.6,147.5 352.1,146.5 348.2,147.5" fill="#ff2626" stroke="#ff2626" stroke-width="0.6"/><polygon points="355.2,149.3 359.2,148.4 355.6,147.5 351.7,148.4" fill="#ff2626" stroke="#ff2626" stroke-width="0.6"/><polygon points="358.8,150.4 362.7,149.5 359.2,148.4 355.2,149.3" fill="#ff2626" stroke="#ff2626" stroke-width="0.6"/><polygon points="347.8,149.4 351.7,148.4 348.2,147.5 344.3,148.4" fill="#ff2626" stroke="#ff2626" stroke-width="0.6"/><polygon points="351.3,150.3 355.2,149.3 351.7,148.4 347.8,149.4" fill="#ff2626" stroke="#ff2626" stroke-width="0.6"/><polygon points="354.8,151.2 358.8,150.4 355.2,149.3 351.3,150.3" fill="#ff2626" stroke="#ff2626" stroke-width="0.6"/><polygon points="343.8,150.3 347.8,149.4 344.3,148.4 340.3,149.4" fill="#ff2626" stroke="#ff2626" stroke-width="0.6"/><polygon points="347.3,151.3 351.3,150.3 347.8,149.4 343.8,150.3" fill="#ff2626" stroke="#ff2626" stroke-width="0.6"/><polygon points="350.9,152.2 354.8,151.2 351.3,150.3 347.3,151.3" fill="#ff2626" stroke="#ff2626" stroke-width="0.6"/><polygon points="350.9,152.2 352.8,151.7 354.8,151.2 356.8,150.8 358.8,150.4 360.7,149.9 362.7,149.5 360.9,148.9 359.2,148.4 357.4,147.9 355.6,147.5 353.9,147.0 352.1,146.5 350.2,147.0 348.2,147.5 346.3,147.9 344.3,148.4 342.3,148.9 340.3,149.4 342.1,149.8 343.8,150.3 345.6,150.8 347.3,151.3 349.1,151.7" class="o"/><polygon points="374.1,148.8 377.9,147.6 374.4,146.5 370.5,147.5" fill="#ff2626" stroke="#ff2626" stroke-width="0.6"/><polygon points="377.6,150.2 381.5,149.0 377.9,147.6 374.1,148.8" fill="#ff2b29" stroke="#ff2b29" stroke-width="0.6"/><polygon points="381.2,151.7 385.1,150.5 381.5,149.0 377.6,150.2" fill="#ff2f2b" stroke="#ff2f2b" stroke-width="0.6"/><polygon points="370.2,149.9 374.1,148.8 370.5,147.5 366.6,148.5" fill="#ff2827" stroke="#ff2827" stroke-width="0.6"/><polygon points="373.7,151.3 377.6,150.2 374.1,148.8 370.2,149.9" fill="#ff2c29" stroke="#ff2c29" stroke-width="0.6"/><polygon points="377.3,152.7 381.2,151.7 377.6,150.2 373.7,151.3" fill="#ff302b" stroke="#ff302b" stroke-width="0.6"/><polygon points="366.3,150.9 370.2,149.9 366.6,148.5 362.7,149.5" fill="#ff2927" stroke="#ff2927" stroke-width="0.6"/><polygon points="369.8,152.2 373.7,151.3 370.2,149.9 366.3,150.9" fill="#ff2c29" stroke="#ff2c29" stroke-width="0.6"/><polygon points="373.4,153.6 377.3,152.7 373.7,151.3 369.8,152.2" fill="#ff2f2a" stroke="#ff2f2a" stroke-width="0.6"/><polygon points="373.4,153.6 375.4,153.2 377.3,152.7 379.3,152.2 381.2,151.7 383.2,151.1 385.1,150.5 383.3,149.8 381.5,149.0 379.7,148.3 377.9,147.6 376.2,147.0 374.4,146.5 372.5,147.0 370.5,147.5 368.6,148.0 366.6,148.5 364.7,149.0 362.7,149.5 364.5,150.2 366.3,150.9 368.0,151.6 369.8,152.2 371.6,152.9" class="o"/><polygon points="396.4,149.3 400.2,147.8 396.6,146.5 392.8,147.8" fill="#ff2a29" stroke="#ff2a29" stroke-width="0.6"/><polygon points="400.0,150.8 403.9,149.3 400.2,147.8 396.4,149.3" fill="#ff302c" stroke="#ff302c" stroke-width="0.6"/><polygon points="403.7,152.2 407.5,150.8 403.9,149.3 400.0,150.8" fill="#ff352f" stroke="#ff352f" stroke-width="0.6"/><polygon points="392.6,150.7 396.4,149.3 392.8,147.8 389.0,149.2" fill="#ff2f2b" stroke="#ff2f2b" stroke-width="0.6"/><polygon points="396.2,152.1 400.0,150.8 396.4,149.3 392.6,150.7" fill="#ff342e" stroke="#ff342e" stroke-width="0.6"/><polygon points="399.8,153.6 403.7,152.2 400.0,150.8 396.2,152.1" fill="#ff3830" stroke="#ff3830" stroke-width="0.6"/><polygon points="388.7,151.9 392.6,150.7 389.0,149.2 385.1,150.5" fill="#ff322c" stroke="#ff322c" stroke-width="0.6"/><polygon points="392.3,153.4 396.2,152.1 392.6,150.7 388.7,151.9" fill="#ff362f" stroke="#ff362f" stroke-width="0.6"/><polygon points="395.9,154.8 399.8,153.6 396.2,152.1 392.3,153.4" fill="#ff3a30" stroke="#ff3a30" stroke-width="0.6"/><polygon points="395.9,154.8 397.9,154.2 399.8,153.6 401.7,152.9 403.7,152.2 405.6,151.5 407.5,150.8 405.7,150.0 403.9,149.3 402.0,148.5 400.2,147.8 398.4,147.0 396.6,146.5 394.7,147.1 392.8,147.8 390.9,148.5 389.0,149.2 387.0,149.9 385.1,150.5 386.9,151.2 388.7,151.9 390.5,152.6 392.3,153.4 394.1,154.1" class="o"/><polygon points="418.7,149.1 422.5,147.4 418.9,146.5 415.1,147.5" fill="#ff2626" stroke="#ff2626" stroke-width="0.6"/><polygon points="422.4,150.6 426.2,148.8 422.5,147.4 418.7,149.1" fill="#ff2d2b" stroke="#ff2d2b" stroke-width="0.6"/><polygon points="426.1,152.1 429.9,150.4 426.2,148.8 422.4,150.6" fill="#ff342f" stroke="#ff342f" stroke-width="0.6"/><polygon points="414.9,150.7 418.7,149.1 415.1,147.5 411.3,149.2" fill="#ff2f2c" stroke="#ff2f2c" stroke-width="0.6"/><polygon points="418.6,152.2 422.4,150.6 418.7,149.1 414.9,150.7" fill="#ff3530" stroke="#ff3530" stroke-width="0.6"/><polygon points="422.3,153.7 426.1,152.1 422.4,150.6 418.6,152.2" fill="#ff3b33" stroke="#ff3b33" stroke-width="0.6"/><polygon points="411.1,152.3 414.9,150.7 411.3,149.2 407.5,150.8" fill="#ff3530" stroke="#ff3530" stroke-width="0.6"/><polygon points="414.8,153.8 418.6,152.2 414.9,150.7 411.1,152.3" fill="#ff3b33" stroke="#ff3b33" stroke-width="0.6"/><polygon points="418.5,155.2 422.3,153.7 418.6,152.2 414.8,153.8" fill="#ff4036" stroke="#ff4036" stroke-width="0.6"/><polygon points="418.5,155.2 420.4,154.5 422.3,153.7 424.2,152.9 426.1,152.1 428.0,151.3 429.9,150.4 428.0,149.6 426.2,148.8 424.4,148.0 422.5,147.4 420.7,147.0 418.9,146.5 417.0,147.0 415.1,147.5 413.2,148.4 411.3,149.2 409.4,150.0 407.5,150.8 409.3,151.5 411.1,152.3 413.0,153.0 414.8,153.8 416.6,154.5" class="o"/><polygon points="441.1,148.4 444.8,147.4 441.1,146.5 437.4,147.4" fill="#ff2626" stroke="#ff2626" stroke-width="0.6"/><polygon points="444.8,149.7 448.5,148.4 444.8,147.4 441.1,148.4" fill="#ff2626" stroke="#ff2626" stroke-width="0.6"/><polygon points="448.5,151.3 452.3,149.3 448.5,148.4 444.8,149.7" fill="#ff2828" stroke="#ff2828" stroke-width="0.6"/><polygon points="437.3,150.1 441.1,148.4 437.4,147.4 433.6,148.5" fill="#ff2626" stroke="#ff2626" stroke-width="0.6"/><polygon points="441.0,151.6 444.8,149.7 441.1,148.4 437.3,150.1" fill="#ff2d2b" stroke="#ff2d2b" stroke-width="0.6"/><polygon points="444.8,153.2 448.5,151.3 444.8,149.7 441.0,151.6" fill="#ff3530" stroke="#ff3530" stroke-width="0.6"/><polygon points="433.6,151.9 437.3,150.1 433.6,148.5 429.9,150.4" fill="#ff312e" stroke="#ff312e" stroke-width="0.6"/><polygon points="437.3,153.4 441.0,151.6 437.3,150.1 433.6,151.9" fill="#ff3832" stroke="#ff3832" stroke-width="0.6"/><polygon points="441.0,155.0 444.8,153.2 441.0,151.6 437.3,153.4" fill="#ff3f36" stroke="#ff3f36" stroke-width="0.6"/><polygon points="441.0,155.0 442.9,154.1 444.8,153.2 446.6,152.2 448.5,151.3 450.4,150.3 452.3,149.3 450.4,148.8 448.5,148.4 446.7,147.9 444.8,147.4 443.0,146.9 441.1,146.5 439.3,146.9 437.4,147.4 435.5,147.9 433.6,148.5 431.7,149.5 429.9,150.4 431.7,151.1 433.6,151.9 435.4,152.7 437.3,153.4 439.1,154.2" class="o"/><polygon points="463.4,148.3 467.1,147.4 463.4,146.5 459.7,147.4" fill="#ff2626" stroke="#ff2626" stroke-width="0.6"/><polygon points="467.2,149.3 470.9,148.3 467.1,147.4 463.4,148.3" fill="#ff2626" stroke="#ff2626" stroke-width="0.6"/><polygon points="471.0,150.2 474.6,149.3 470.9,148.3 467.2,149.3" fill="#ff2626" stroke="#ff2626" stroke-width="0.6"/><polygon points="459.7,149.3 463.4,148.3 459.7,147.4 456.0,148.3" fill="#ff2626" stroke="#ff2626" stroke-width="0.6"/><polygon points="463.5,150.3 467.2,149.3 463.4,148.3 459.7,149.3" fill="#ff2626" stroke="#ff2626" stroke-width="0.6"/><polygon points="467.2,151.9 471.0,150.2 467.2,149.3 463.5,150.3" fill="#ff2626" stroke="#ff2626" stroke-width="0.6"/><polygon points="456.0,150.8 459.7,149.3 456.0,148.3 452.3,149.3" fill="#ff2626" stroke="#ff2626" stroke-width="0.6"/><polygon points="459.7,152.4 463.5,150.3 459.7,149.3 456.0,150.8" fill="#ff2b29" stroke="#ff2b29" stroke-width="0.6"/><polygon points="463.5,154.0 467.2,151.9 463.5,150.3 459.7,152.4" fill="#ff332f" stroke="#ff332f" stroke-width="0.6"/><polygon points="463.5,154.0 465.4,153.0 467.2,151.9 469.1,150.8 471.0,150.2 472.8,149.8 474.6,149.3 472.8,148.8 470.9,148.3 469.0,147.9 467.1,147.4 465.2,146.9 463.4,146.5 461.5,146.9 459.7,147.4 457.8,147.9 456.0,148.3 454.1,148.8 452.3,149.3 454.1,150.0 456.0,150.8 457.9,151.6 459.7,152.4 461.6,153.2" class="o"/><polygon points="485.8,148.3 489.4,147.4 485.6,146.5 482.0,147.4" fill="#ff2626" stroke="#ff2626" stroke-width="0.6"/><polygon points="489.6,149.3 493.2,148.3 489.4,147.4 485.8,148.3" fill="#ff2626" stroke="#ff2626" stroke-width="0.6"/><polygon points="493.4,150.2 497.0,149.3 493.2,148.3 489.6,149.3" fill="#ff2626" stroke="#ff2626" stroke-width="0.6"/><polygon points="482.1,149.3 485.8,148.3 482.0,147.4 478.3,148.3" fill="#ff2626" stroke="#ff2626" stroke-width="0.6"/><polygon points="485.9,150.2 489.6,149.3 485.8,148.3 482.1,149.3" fill="#ff2626" stroke="#ff2626" stroke-width="0.6"/><polygon points="489.7,151.2 493.4,150.2 489.6,149.3 485.9,150.2" fill="#ff2626" stroke="#ff2626" stroke-width="0.6"/><polygon points="478.4,150.2 482.1,149.3 478.3,148.3 474.6,149.3" fill="#ff2626" stroke="#ff2626" stroke-width="0.6"/><polygon points="482.2,151.2 485.9,150.2 482.1,149.3 478.4,150.2" fill="#ff2626" stroke="#ff2626" stroke-width="0.6"/><polygon points="486.1,152.3 489.7,151.2 485.9,150.2 482.2,151.2" fill="#ff2626" stroke="#ff2626" stroke-width="0.6"/><polygon points="486.1,152.3 487.9,151.7 489.7,151.2 491.6,150.7 493.4,150.2 495.2,149.7 497.0,149.3 495.1,148.8 493.2,148.3 491.3,147.9 489.4,147.4 487.5,146.9 485.6,146.5 483.8,146.9 482.0,147.4 480.2,147.9 478.3,148.3 476.5,148.8 474.6,149.3 476.5,149.8 478.4,150.2 480.3,150.7 482.2,151.2 484.1,151.7" class="o"/><polygon points="508.6,152.1 519.4,149.3 507.9,146.4 497.0,149.3" fill="#ff2626" class="m"/><polygon points="531.1,152.1 541.8,149.2 530.1,146.4 519.4,149.3" fill="#ff2626" class="m"/><polygon points="553.7,152.1 564.2,149.2 552.4,146.4 541.8,149.2" fill="#ff2626" class="m"/><polygon points="576.2,152.1 586.6,149.2 574.7,146.4 564.2,149.2" fill="#ff2626" class="m"/><polygon points="598.8,152.1 609.1,149.2 596.9,146.4 586.6,149.2" fill="#ff2626" class="m"/><polygon points="621.3,152.1 631.5,149.2 619.2,146.4 609.1,149.2" fill="#ff2626" class="m"/><polygon points="643.9,152.0 653.9,149.2 641.5,146.4 631.5,149.2" fill="#ff2626" class="m"/><polygon points="248.2,155.2 260.8,152.3 250.8,149.4 238.3,152.3" fill="#ff2626" class="m"/><polygon points="270.9,155.1 283.3,152.2 273.2,149.4 260.8,152.3" fill="#ff2626" class="m"/><polygon points="293.5,155.1 305.8,152.2 295.6,149.4 283.3,152.2" fill="#ff2626" class="m"/><polygon points="316.2,155.1 328.3,152.2 317.9,149.4 305.8,152.2" fill="#ff2626" class="m"/><polygon points="338.9,155.1 350.9,152.2 340.3,149.4 328.3,152.2" fill="#ff2626" class="m"/><polygon points="362.3,151.7 366.3,150.9 362.7,149.5 358.8,150.4" fill="#ff2827" stroke="#ff2827" stroke-width="0.6"/><polygon points="365.9,153.1 369.8,152.2 366.3,150.9 362.3,151.7" fill="#ff2b28" stroke="#ff2b28" stroke-width="0.6"/><polygon points="369.5,154.4 373.4,153.6 369.8,152.2 365.9,153.1" fill="#ff2e29" stroke="#ff2e29" stroke-width="0.6"/><polygon points="358.4,152.4 362.3,151.7 358.8,150.4 354.8,151.2" fill="#ff2727" stroke="#ff2727" stroke-width="0.6"/><polygon points="361.9,153.8 365.9,153.1 362.3,151.7 358.4,152.4" fill="#ff2927" stroke="#ff2927" stroke-width="0.6"/><polygon points="365.5,155.1 369.5,154.4 365.9,153.1 361.9,153.8" fill="#ff2c28" stroke="#ff2c28" stroke-width="0.6"/><polygon points="354.4,153.2 358.4,152.4 354.8,151.2 350.9,152.2" fill="#ff2626" stroke="#ff2626" stroke-width="0.6"/><polygon points="358.0,154.3 361.9,153.8 358.4,152.4 354.4,153.2" fill="#fd2726" stroke="#fd2726" stroke-width="0.6"/><polygon points="361.6,155.6 365.5,155.1 361.9,153.8 358.0,154.3" fill="#fa2926" stroke="#fa2926" stroke-width="0.6"/><polygon points="361.6,155.6 363.5,155.4 365.5,155.1 367.5,154.8 369.5,154.4 371.4,154.0 373.4,153.6 371.6,152.9 369.8,152.2 368.0,151.6 366.3,150.9 364.5,150.2 362.7,149.5 360.7,149.9 358.8,150.4 356.8,150.8 354.8,151.2 352.8,151.7 350.9,152.2 352.6,152.7 354.4,153.2 356.2,153.7 358.0,154.3 359.8,155.0" class="o"/><polygon points="384.8,153.1 388.7,151.9 385.1,150.5 381.2,151.7" fill="#ff332d" stroke="#ff332d" stroke-width="0.6"/><polygon points="388.4,154.5 392.3,153.4 388.7,151.9 384.8,153.1" fill="#ff372e" stroke="#ff372e" stroke-width="0.6"/><polygon points="392.1,155.9 395.9,154.8 392.3,153.4 388.4,154.5" fill="#ff3a30" stroke="#ff3a30" stroke-width="0.6"/><polygon points="380.9,154.1 384.8,153.1 381.2,151.7 377.3,152.7" fill="#ff332c" stroke="#ff332c" stroke-width="0.6"/><polygon points="384.5,155.5 388.4,154.5 384.8,153.1 380.9,154.1" fill="#ff362d" stroke="#ff362d" stroke-width="0.6"/><polygon points="388.2,156.8 392.1,155.9 388.4,154.5 384.5,155.5" fill="#ff392e" stroke="#ff392e" stroke-width="0.6"/><polygon points="377.0,155.0 380.9,154.1 377.3,152.7 373.4,153.6" fill="#ff322b" stroke="#ff322b" stroke-width="0.6"/><polygon points="380.6,156.3 384.5,155.5 380.9,154.1 377.0,155.0" fill="#ff352c" stroke="#ff352c" stroke-width="0.6"/><polygon points="384.3,157.7 388.2,156.8 384.5,155.5 380.6,156.3" fill="#ff372d" stroke="#ff372d" stroke-width="0.6"/><polygon points="384.3,157.7 386.2,157.3 388.2,156.8 390.1,156.4 392.1,155.9 394.0,155.3 395.9,154.8 394.1,154.1 392.3,153.4 390.5,152.6 388.7,151.9 386.9,151.2 385.1,150.5 383.2,151.1 381.2,151.7 379.3,152.2 377.3,152.7 375.4,153.2 373.4,153.6 375.2,154.3 377.0,155.0 378.8,155.7 380.6,156.3 382.4,157.0" class="o"/><polygon points="407.3,153.7 411.1,152.3 407.5,150.8 403.7,152.2" fill="#ff3a32" stroke="#ff3a32" stroke-width="0.6"/><polygon points="411.0,155.2 414.8,153.8 411.1,152.3 407.3,153.7" fill="#ff3f34" stroke="#ff3f34" stroke-width="0.6"/><polygon points="414.6,156.6 418.5,155.2 414.8,153.8 411.0,155.2" fill="#ff4337" stroke="#ff4337" stroke-width="0.6"/><polygon points="403.5,155.0 407.3,153.7 403.7,152.2 399.8,153.6" fill="#ff3d32" stroke="#ff3d32" stroke-width="0.6"/><polygon points="407.1,156.4 411.0,155.2 407.3,153.7 403.5,155.0" fill="#ff4134" stroke="#ff4134" stroke-width="0.6"/><polygon points="410.8,157.9 414.6,156.6 411.0,155.2 407.1,156.4" fill="#ff4436" stroke="#ff4436" stroke-width="0.6"/><polygon points="399.6,156.2 403.5,155.0 399.8,153.6 395.9,154.8" fill="#ff3e32" stroke="#ff3e32" stroke-width="0.6"/><polygon points="403.3,157.6 407.1,156.4 403.5,155.0 399.6,156.2" fill="#ff4134" stroke="#ff4134" stroke-width="0.6"/><polygon points="406.9,159.0 410.8,157.9 407.1,156.4 403.3,157.6" fill="#ff4435" stroke="#ff4435" stroke-width="0.6"/><polygon points="406.9,159.0 408.9,158.5 410.8,157.9 412.7,157.3 414.6,156.6 416.6,155.9 418.5,155.2 416.6,154.5 414.8,153.8 413.0,153.0 411.1,152.3 409.3,151.5 407.5,150.8 405.6,151.5 403.7,152.2 401.7,152.9 399.8,153.6 397.9,154.2 395.9,154.8 397.8,155.5 399.6,156.2 401.4,156.9 403.3,157.6 405.1,158.3" class="o"/><polygon points="429.8,153.6 433.6,151.9 429.9,150.4 426.1,152.1" fill="#ff3a33" stroke="#ff3a33" stroke-width="0.6"/><polygon points="433.5,155.1 437.3,153.4 433.6,151.9 429.8,153.6" fill="#ff4037" stroke="#ff4037" stroke-width="0.6"/><polygon points="437.2,156.6 441.0,155.0 437.3,153.4 433.5,155.1" fill="#ff463a" stroke="#ff463a" stroke-width="0.6"/><polygon points="426.0,155.2 429.8,153.6 426.1,152.1 422.3,153.7" fill="#ff4136" stroke="#ff4136" stroke-width="0.6"/><polygon points="429.7,156.7 433.5,155.1 429.8,153.6 426.0,155.2" fill="#ff4639" stroke="#ff4639" stroke-width="0.6"/><polygon points="433.4,158.2 437.2,156.6 433.5,155.1 429.7,156.7" fill="#ff4a3c" stroke="#ff4a3c" stroke-width="0.6"/><polygon points="422.2,156.7 426.0,155.2 422.3,153.7 418.5,155.2" fill="#ff4538" stroke="#ff4538" stroke-width="0.6"/><polygon points="425.9,158.2 429.7,156.7 426.0,155.2 422.2,156.7" fill="#ff493b" stroke="#ff493b" stroke-width="0.6"/><polygon points="429.6,159.6 433.4,158.2 429.7,156.7 425.9,158.2" fill="#ff4d3d" stroke="#ff4d3d" stroke-width="0.6"/><polygon points="429.6,159.6 431.5,158.9 433.4,158.2 435.3,157.4 437.2,156.6 439.1,155.8 441.0,155.0 439.1,154.2 437.3,153.4 435.4,152.7 433.6,151.9 431.7,151.1 429.9,150.4 428.0,151.3 426.1,152.1 424.2,152.9 422.3,153.7 420.4,154.5 418.5,155.2 420.3,156.0 422.2,156.7 424.0,157.4 425.9,158.2 427.7,158.9" class="o"/><polygon points="452.2,152.8 456.0,150.8 452.3,149.3 448.5,151.3" fill="#ff312d" stroke="#ff312d" stroke-width="0.6"/><polygon points="456.0,154.4 459.7,152.4 456.0,150.8 452.2,152.8" fill="#ff3833" stroke="#ff3833" stroke-width="0.6"/><polygon points="459.8,156.0 463.5,154.0 459.7,152.4 456.0,154.4" fill="#ff4037" stroke="#ff4037" stroke-width="0.6"/><polygon points="448.5,154.7 452.2,152.8 448.5,151.3 444.8,153.2" fill="#ff3c35" stroke="#ff3c35" stroke-width="0.6"/><polygon points="452.2,156.3 456.0,154.4 452.2,152.8 448.5,154.7" fill="#ff4339" stroke="#ff4339" stroke-width="0.6"/><polygon points="456.0,157.8 459.8,156.0 456.0,154.4 452.2,156.3" fill="#ff493d" stroke="#ff493d" stroke-width="0.6"/><polygon points="444.7,156.5 448.5,154.7 444.8,153.2 441.0,155.0" fill="#ff453a" stroke="#ff453a" stroke-width="0.6"/><polygon points="448.5,158.0 452.2,156.3 448.5,154.7 444.7,156.5" fill="#ff4b3e" stroke="#ff4b3e" stroke-width="0.6"/><polygon points="452.2,159.5 456.0,157.8 452.2,156.3 448.5,158.0" fill="#ff5041" stroke="#ff5041" stroke-width="0.6"/><polygon points="452.2,159.5 454.1,158.7 456.0,157.8 457.9,156.9 459.8,156.0 461.6,155.0 463.5,154.0 461.6,153.2 459.7,152.4 457.9,151.6 456.0,150.8 454.1,150.0 452.3,149.3 450.4,150.3 448.5,151.3 446.6,152.2 444.8,153.2 442.9,154.1 441.0,155.0 442.9,155.7 444.7,156.5 446.6,157.3 448.5,158.0 450.4,158.8" class="o"/><polygon points="474.7,151.3 478.4,150.2 474.6,149.3 471.0,150.2" fill="#ff2626" stroke="#ff2626" stroke-width="0.6"/><polygon points="478.5,152.9 482.2,151.2 478.4,150.2 474.7,151.3" fill="#ff2626" stroke="#ff2626" stroke-width="0.6"/><polygon points="482.4,154.6 486.1,152.3 482.2,151.2 478.5,152.9" fill="#ff2d2b" stroke="#ff2d2b" stroke-width="0.6"/><polygon points="471.0,153.5 474.7,151.3 471.0,150.2 467.2,151.9" fill="#ff2c2a" stroke="#ff2c2a" stroke-width="0.6"/><polygon points="474.8,155.1 478.5,152.9 474.7,151.3 471.0,153.5" fill="#ff3530" stroke="#ff3530" stroke-width="0.6"/><polygon points="478.6,156.7 482.4,154.6 478.5,152.9 474.8,155.1" fill="#ff3d36" stroke="#ff3d36" stroke-width="0.6"/><polygon points="467.3,155.6 471.0,153.5 467.2,151.9 463.5,154.0" fill="#ff3b35" stroke="#ff3b35" stroke-width="0.6"/><polygon points="471.1,157.1 474.8,155.1 471.0,153.5 467.3,155.6" fill="#ff433a" stroke="#ff433a" stroke-width="0.6"/><polygon points="474.9,158.7 478.6,156.7 474.8,155.1 471.1,157.1" fill="#ff4a3e" stroke="#ff4a3e" stroke-width="0.6"/><polygon points="474.9,158.7 476.8,157.7 478.6,156.7 480.5,155.6 482.4,154.6 484.2,153.4 486.1,152.3 484.1,151.7 482.2,151.2 480.3,150.7 478.4,150.2 476.5,149.8 474.6,149.3 472.8,149.8 471.0,150.2 469.1,150.8 467.2,151.9 465.4,153.0 463.5,154.0 465.4,154.8 467.3,155.6 469.2,156.4 471.1,157.1 473.0,157.9" class="o"/><polygon points="497.2,151.2 500.9,150.2 497.0,149.3 493.4,150.2" fill="#ff2626" stroke="#ff2626" stroke-width="0.6"/><polygon points="501.1,152.1 504.7,151.2 500.9,150.2 497.2,151.2" fill="#ff2626" stroke="#ff2626" stroke-width="0.6"/><polygon points="505.0,153.1 508.6,152.1 504.7,151.2 501.1,152.1" fill="#ff2626" stroke="#ff2626" stroke-width="0.6"/><polygon points="493.6,152.1 497.2,151.2 493.4,150.2 489.7,151.2" fill="#ff2626" stroke="#ff2626" stroke-width="0.6"/><polygon points="497.4,153.2 501.1,152.1 497.2,151.2 493.6,152.1" fill="#ff2626" stroke="#ff2626" stroke-width="0.6"/><polygon points="501.3,154.9 505.0,153.1 501.1,152.1 497.4,153.2" fill="#ff2626" stroke="#ff2626" stroke-width="0.6"/><polygon points="489.9,153.9 493.6,152.1 489.7,151.2 486.1,152.3" fill="#ff2626" stroke="#ff2626" stroke-width="0.6"/><polygon points="493.7,155.5 497.4,153.2 493.6,152.1 489.9,153.9" fill="#ff2d2b" stroke="#ff2d2b" stroke-width="0.6"/><polygon points="497.6,157.2 501.3,154.9 497.4,153.2 493.7,155.5" fill="#ff3632" stroke="#ff3632" stroke-width="0.6"/><polygon points="497.6,157.2 499.4,156.0 501.3,154.9 503.1,153.7 505.0,153.1 506.8,152.6 508.6,152.1 506.7,151.6 504.7,151.2 502.8,150.7 500.9,150.2 499.0,149.7 497.0,149.3 495.2,149.7 493.4,150.2 491.6,150.7 489.7,151.2 487.9,151.7 486.1,152.3 488.0,153.1 489.9,153.9 491.8,154.7 493.7,155.5 495.7,156.4" class="o"/><polygon points="520.3,155.0 531.1,152.1 519.4,149.3 508.6,152.1" fill="#ff2626" class="m"/><polygon points="543.0,155.0 553.7,152.1 541.8,149.2 531.1,152.1" fill="#ff2626" class="m"/><polygon points="565.7,155.0 576.2,152.1 564.2,149.2 553.7,152.1" fill="#ff2626" class="m"/><polygon points="588.4,155.0 598.8,152.1 586.6,149.2 576.2,152.1" fill="#ff2626" class="m"/><polygon points="611.1,155.0 621.3,152.1 609.1,149.2 598.8,152.1" fill="#ff2626" class="m"/><polygon points="633.8,154.9 643.9,152.0 631.5,149.2 621.3,152.1" fill="#ff2626" class="m"/><polygon points="656.5,154.9 666.5,152.0 653.9,149.2 643.9,152.0" fill="#ff2626" class="m"/><polygon points="235.5,158.1 248.2,155.2 238.3,152.3 225.6,155.2" fill="#ff2626" class="m"/><polygon points="258.3,158.1 270.9,155.1 260.8,152.3 248.2,155.2" fill="#ff2626" class="m"/><polygon points="281.1,158.1 293.5,155.1 283.3,152.2 270.9,155.1" fill="#ff2626" class="m"/><polygon points="303.9,158.1 316.2,155.1 305.8,152.2 293.5,155.1" fill="#ff2626" class="m"/><polygon points="326.7,158.0 338.9,155.1 328.3,152.2 316.2,155.1" fill="#ff2626" class="m"/><polygon points="350.4,154.1 354.4,153.2 350.9,152.2 346.9,153.2" fill="#ff2626" stroke="#ff2626" stroke-width="0.6"/><polygon points="354.0,155.1 358.0,154.3 354.4,153.2 350.4,154.1" fill="#ff2626" stroke="#ff2626" stroke-width="0.6"/><polygon points="357.6,156.1 361.6,155.6 358.0,154.3 354.0,155.1" fill="#ee2424" stroke="#ee2424" stroke-width="0.6"/><polygon points="346.4,155.1 350.4,154.1 346.9,153.2 342.9,154.1" fill="#ff2626" stroke="#ff2626" stroke-width="0.6"/><polygon points="350.0,156.1 354.0,155.1 350.4,154.1 346.4,155.1" fill="#ff2626" stroke="#ff2626" stroke-width="0.6"/><polygon points="353.6,157.0 357.6,156.1 354.0,155.1 350.0,156.1" fill="#ff2626" stroke="#ff2626" stroke-width="0.6"/><polygon points="342.4,156.1 346.4,155.1 342.9,154.1 338.9,155.1" fill="#ff2626" stroke="#ff2626" stroke-width="0.6"/><polygon points="346.0,157.1 350.0,156.1 346.4,155.1 342.4,156.1" fill="#ff2626" stroke="#ff2626" stroke-width="0.6"/><polygon points="349.5,158.0 353.6,157.0 350.0,156.1 346.0,157.1" fill="#ff2626" stroke="#ff2626" stroke-width="0.6"/><polygon points="349.5,158.0 351.6,157.5 353.6,157.0 355.6,156.6 357.6,156.1 359.6,155.9 361.6,155.6 359.8,155.0 358.0,154.3 356.2,153.7 354.4,153.2 352.6,152.7 350.9,152.2 348.9,152.7 346.9,153.2 344.9,153.7 342.9,154.1 340.9,154.6 338.9,155.1 340.6,155.6 342.4,156.1 344.2,156.6 346.0,157.1 347.8,157.5" class="o"/><polygon points="373.1,155.7 377.0,155.0 373.4,153.6 369.5,154.4" fill="#ff302a" stroke="#ff302a" stroke-width="0.6"/><polygon points="376.7,157.1 380.6,156.3 377.0,155.0 373.1,155.7" fill="#ff322a" stroke="#ff322a" stroke-width="0.6"/><polygon points="380.3,158.4 384.3,157.7 380.6,156.3 376.7,157.1" fill="#ff342b" stroke="#ff342b" stroke-width="0.6"/><polygon points="369.1,156.4 373.1,155.7 369.5,154.4 365.5,155.1" fill="#ff2e28" stroke="#ff2e28" stroke-width="0.6"/><polygon points="372.7,157.7 376.7,157.1 373.1,155.7 369.1,156.4" fill="#ff3029" stroke="#ff3029" stroke-width="0.6"/><polygon points="376.4,159.0 380.3,158.4 376.7,157.1 372.7,157.7" fill="#fd3129" stroke="#fd3129" stroke-width="0.6"/><polygon points="365.1,156.9 369.1,156.4 365.5,155.1 361.6,155.6" fill="#f72a26" stroke="#f72a26" stroke-width="0.6"/><polygon points="368.8,158.2 372.7,157.7 369.1,156.4 365.1,156.9" fill="#f42b26" stroke="#f42b26" stroke-width="0.6"/><polygon points="372.4,159.5 376.4,159.0 372.7,157.7 368.8,158.2" fill="#f12c26" stroke="#f12c26" stroke-width="0.6"/><polygon points="372.4,159.5 374.4,159.3 376.4,159.0 378.3,158.7 380.3,158.4 382.3,158.1 384.3,157.7 382.4,157.0 380.6,156.3 378.8,155.7 377.0,155.0 375.2,154.3 373.4,153.6 371.4,154.0 369.5,154.4 367.5,154.8 365.5,155.1 363.5,155.4 361.6,155.6 363.3,156.3 365.1,156.9 367.0,157.6 368.8,158.2 370.6,158.8" class="o"/><polygon points="395.7,157.3 399.6,156.2 395.9,154.8 392.1,155.9" fill="#ff3d31" stroke="#ff3d31" stroke-width="0.6"/><polygon points="399.4,158.7 403.3,157.6 399.6,156.2 395.7,157.3" fill="#ff4032" stroke="#ff4032" stroke-width="0.6"/><polygon points="403.0,160.0 406.9,159.0 403.3,157.6 399.4,158.7" fill="#ff4333" stroke="#ff4333" stroke-width="0.6"/><polygon points="391.8,158.2 395.7,157.3 392.1,155.9 388.2,156.8" fill="#ff3c2f" stroke="#ff3c2f" stroke-width="0.6"/><polygon points="395.5,159.6 399.4,158.7 395.7,157.3 391.8,158.2" fill="#ff3e30" stroke="#ff3e30" stroke-width="0.6"/><polygon points="399.1,160.9 403.0,160.0 399.4,158.7 395.5,159.6" fill="#ff4030" stroke="#ff4030" stroke-width="0.6"/><polygon points="387.9,159.0 391.8,158.2 388.2,156.8 384.3,157.7" fill="#ff392d" stroke="#ff392d" stroke-width="0.6"/><polygon points="391.6,160.4 395.5,159.6 391.8,158.2 387.9,159.0" fill="#ff3b2d" stroke="#ff3b2d" stroke-width="0.6"/><polygon points="395.2,161.7 399.1,160.9 395.5,159.6 391.6,160.4" fill="#ff3d2e" stroke="#ff3d2e" stroke-width="0.6"/><polygon points="395.2,161.7 397.2,161.3 399.1,160.9 401.1,160.5 403.0,160.0 405.0,159.5 406.9,159.0 405.1,158.3 403.3,157.6 401.4,156.9 399.6,156.2 397.8,155.5 395.9,154.8 394.0,155.3 392.1,155.9 390.1,156.4 388.2,156.8 386.2,157.3 384.3,157.7 386.1,158.4 387.9,159.0 389.7,159.7 391.6,160.4 393.4,161.0" class="o"/><polygon points="418.3,158.1 422.2,156.7 418.5,155.2 414.6,156.6" fill="#ff4739" stroke="#ff4739" stroke-width="0.6"/><polygon points="422.0,159.5 425.9,158.2 422.2,156.7 418.3,158.1" fill="#ff4b3a" stroke="#ff4b3a" stroke-width="0.6"/><polygon points="425.8,161.0 429.6,159.6 425.9,158.2 422.0,159.5" fill="#ff4e3c" stroke="#ff4e3c" stroke-width="0.6"/><polygon points="414.5,159.3 418.3,158.1 414.6,156.6 410.8,157.9" fill="#ff4838" stroke="#ff4838" stroke-width="0.6"/><polygon points="418.2,160.7 422.0,159.5 418.3,158.1 414.5,159.3" fill="#ff4b39" stroke="#ff4b39" stroke-width="0.6"/><polygon points="421.9,162.1 425.8,161.0 422.0,159.5 418.2,160.7" fill="#ff4e3a" stroke="#ff4e3a" stroke-width="0.6"/><polygon points="410.6,160.4 414.5,159.3 410.8,157.9 406.9,159.0" fill="#ff4736" stroke="#ff4736" stroke-width="0.6"/><polygon points="414.3,161.8 418.2,160.7 414.5,159.3 410.6,160.4" fill="#ff4937" stroke="#ff4937" stroke-width="0.6"/><polygon points="418.0,163.2 421.9,162.1 418.2,160.7 414.3,161.8" fill="#ff4c38" stroke="#ff4c38" stroke-width="0.6"/><polygon points="418.0,163.2 420.0,162.7 421.9,162.1 423.8,161.6 425.8,161.0 427.7,160.3 429.6,159.6 427.7,158.9 425.9,158.2 424.0,157.4 422.2,156.7 420.3,156.0 418.5,155.2 416.6,155.9 414.6,156.6 412.7,157.3 410.8,157.9 408.9,158.5 406.9,159.0 408.8,159.7 410.6,160.4 412.5,161.1 414.3,161.8 416.2,162.5" class="o"/><polygon points="440.9,158.1 444.7,156.5 441.0,155.0 437.2,156.6" fill="#ff4b3d" stroke="#ff4b3d" stroke-width="0.6"/><polygon points="444.7,159.6 448.5,158.0 444.7,156.5 440.9,158.1" fill="#ff5040" stroke="#ff5040" stroke-width="0.6"/><polygon points="448.5,161.1 452.2,159.5 448.5,158.0 444.7,159.6" fill="#ff5443" stroke="#ff5443" stroke-width="0.6"/><polygon points="437.1,159.7 440.9,158.1 437.2,156.6 433.4,158.2" fill="#ff4f3f" stroke="#ff4f3f" stroke-width="0.6"/><polygon points="440.9,161.2 444.7,159.6 440.9,158.1 437.1,159.7" fill="#ff5341" stroke="#ff5341" stroke-width="0.6"/><polygon points="444.7,162.6 448.5,161.1 444.7,159.6 440.9,161.2" fill="#ff5743" stroke="#ff5743" stroke-width="0.6"/><polygon points="433.3,161.1 437.1,159.7 433.4,158.2 429.6,159.6" fill="#ff513f" stroke="#ff513f" stroke-width="0.6"/><polygon points="437.1,162.5 440.9,161.2 437.1,159.7 433.3,161.1" fill="#ff5440" stroke="#ff5440" stroke-width="0.6"/><polygon points="440.8,164.0 444.7,162.6 440.9,161.2 437.1,162.5" fill="#ff5640" stroke="#ff5640" stroke-width="0.6"/><polygon points="440.8,164.0 442.8,163.3 444.7,162.6 446.6,161.9 448.5,161.1 450.4,160.4 452.2,159.5 450.4,158.8 448.5,158.0 446.6,157.3 444.7,156.5 442.9,155.7 441.0,155.0 439.1,155.8 437.2,156.6 435.3,157.4 433.4,158.2 431.5,158.9 429.6,159.6 431.5,160.4 433.3,161.1 435.2,161.8 437.1,162.5 439.0,163.3" class="o"/><polygon points="463.6,157.5 467.3,155.6 463.5,154.0 459.8,156.0" fill="#ff473c" stroke="#ff473c" stroke-width="0.6"/><polygon points="467.4,159.1 471.1,157.1 467.3,155.6 463.6,157.5" fill="#ff4d40" stroke="#ff4d40" stroke-width="0.6"/><polygon points="471.2,160.6 474.9,158.7 471.1,157.1 467.4,159.1" fill="#ff5344" stroke="#ff5344" stroke-width="0.6"/><polygon points="459.8,159.3 463.6,157.5 459.8,156.0 456.0,157.8" fill="#ff4f41" stroke="#ff4f41" stroke-width="0.6"/><polygon points="463.6,160.9 467.4,159.1 463.6,157.5 459.8,159.3" fill="#ff5445" stroke="#ff5445" stroke-width="0.6"/><polygon points="467.4,162.4 471.2,160.6 467.4,159.1 463.6,160.9" fill="#ff5a48" stroke="#ff5a48" stroke-width="0.6"/><polygon points="456.0,161.0 459.8,159.3 456.0,157.8 452.2,159.5" fill="#ff5544" stroke="#ff5544" stroke-width="0.6"/><polygon points="459.8,162.5 463.6,160.9 459.8,159.3 456.0,161.0" fill="#ff5a47" stroke="#ff5a47" stroke-width="0.6"/><polygon points="463.6,164.0 467.4,162.4 463.6,160.9 459.8,162.5" fill="#ff5c48" stroke="#ff5c48" stroke-width="0.6"/><polygon points="463.6,164.0 465.5,163.2 467.4,162.4 469.3,161.5 471.2,160.6 473.0,159.7 474.9,158.7 473.0,157.9 471.1,157.1 469.2,156.4 467.3,155.6 465.4,154.8 463.5,154.0 461.6,155.0 459.8,156.0 457.9,156.9 456.0,157.8 454.1,158.7 452.2,159.5 454.1,160.3 456.0,161.0 457.9,161.8 459.8,162.5 461.7,163.3" class="o"/><polygon points="486.2,156.2 489.9,153.9 486.1,152.3 482.4,154.6" fill="#ff3631" stroke="#ff3631" stroke-width="0.6"/><polygon points="490.0,157.8 493.7,155.5 489.9,153.9 486.2,156.2" fill="#ff3f37" stroke="#ff3f37" stroke-width="0.6"/><polygon points="493.9,159.4 497.6,157.2 493.7,155.5 490.0,157.8" fill="#ff463d" stroke="#ff463d" stroke-width="0.6"/><polygon points="482.5,158.3 486.2,156.2 482.4,154.6 478.6,156.7" fill="#ff453b" stroke="#ff453b" stroke-width="0.6"/><polygon points="486.3,159.9 490.0,157.8 486.2,156.2 482.5,158.3" fill="#ff4c41" stroke="#ff4c41" stroke-width="0.6"/><polygon points="490.2,161.4 493.9,159.4 490.0,157.8 486.3,159.9" fill="#ff5345" stroke="#ff5345" stroke-width="0.6"/><polygon points="478.7,160.3 482.5,158.3 478.6,156.7 474.9,158.7" fill="#ff5043" stroke="#ff5043" stroke-width="0.6"/><polygon points="482.6,161.8 486.3,159.9 482.5,158.3 478.7,160.3" fill="#ff5647" stroke="#ff5647" stroke-width="0.6"/><polygon points="486.5,163.4 490.2,161.4 486.3,159.9 482.6,161.8" fill="#ff5c4b" stroke="#ff5c4b" stroke-width="0.6"/><polygon points="486.5,163.4 488.3,162.4 490.2,161.4 492.0,160.4 493.9,159.4 495.7,158.3 497.6,157.2 495.7,156.4 493.7,155.5 491.8,154.7 489.9,153.9 488.0,153.1 486.1,152.3 484.2,153.4 482.4,154.6 480.5,155.6 478.6,156.7 476.8,157.7 474.9,158.7 476.8,159.5 478.7,160.3 480.7,161.0 482.6,161.8 484.5,162.6" class="o"/><polygon points="508.8,154.1 512.5,153.1 508.6,152.1 505.0,153.1" fill="#ff2626" stroke="#ff2626" stroke-width="0.6"/><polygon points="512.7,155.7 516.4,154.0 512.5,153.1 508.8,154.1" fill="#ff2626" stroke="#ff2626" stroke-width="0.6"/><polygon points="516.6,157.4 520.3,155.0 516.4,154.0 512.7,155.7" fill="#ff2b2a" stroke="#ff2b2a" stroke-width="0.6"/><polygon points="505.2,156.5 508.8,154.1 505.0,153.1 501.3,154.9" fill="#ff2c2b" stroke="#ff2c2b" stroke-width="0.6"/><polygon points="509.1,158.1 512.7,155.7 508.8,154.1 505.2,156.5" fill="#ff3632" stroke="#ff3632" stroke-width="0.6"/><polygon points="513.0,159.7 516.6,157.4 512.7,155.7 509.1,158.1" fill="#ff3f38" stroke="#ff3f38" stroke-width="0.6"/><polygon points="501.5,158.8 505.2,156.5 501.3,154.9 497.6,157.2" fill="#ff3f38" stroke="#ff3f38" stroke-width="0.6"/><polygon points="505.4,160.4 509.1,158.1 505.2,156.5 501.5,158.8" fill="#ff473e" stroke="#ff473e" stroke-width="0.6"/><polygon points="509.3,162.0 513.0,159.7 509.1,158.1 505.4,160.4" fill="#ff4f43" stroke="#ff4f43" stroke-width="0.6"/><polygon points="509.3,162.0 511.1,160.9 513.0,159.7 514.8,158.6 516.6,157.4 518.5,156.2 520.3,155.0 518.3,154.5 516.4,154.0 514.4,153.6 512.5,153.1 510.5,152.6 508.6,152.1 506.8,152.6 505.0,153.1 503.1,153.7 501.3,154.9 499.4,156.0 497.6,157.2 499.5,158.0 501.5,158.8 503.4,159.6 505.4,160.4 507.3,161.2" class="o"/><polygon points="531.5,154.0 535.1,153.1 531.1,152.1 527.5,153.1" fill="#ff2626" stroke="#ff2626" stroke-width="0.6"/><polygon points="535.4,155.0 539.0,154.0 535.1,153.1 531.5,154.0" fill="#ff2626" stroke="#ff2626" stroke-width="0.6"/><polygon points="539.4,156.0 543.0,155.0 539.0,154.0 535.4,155.0" fill="#ff2626" stroke="#ff2626" stroke-width="0.6"/><polygon points="527.9,155.0 531.5,154.0 527.5,153.1 523.9,154.0" fill="#ff2626" stroke="#ff2626" stroke-width="0.6"/><polygon points="531.8,156.0 535.4,155.0 531.5,154.0 527.9,155.0" fill="#ff2626" stroke="#ff2626" stroke-width="0.6"/><polygon points="535.8,157.3 539.4,156.0 535.4,155.0 531.8,156.0" fill="#ff2626" stroke="#ff2626" stroke-width="0.6"/><polygon points="524.2,156.6 527.9,155.0 523.9,154.0 520.3,155.0" fill="#ff2626" stroke="#ff2626" stroke-width="0.6"/><polygon points="528.2,158.2 531.8,156.0 527.9,155.0 524.2,156.6" fill="#ff2828" stroke="#ff2828" stroke-width="0.6"/><polygon points="532.1,159.9 535.8,157.3 531.8,156.0 528.2,158.2" fill="#ff332f" stroke="#ff332f" stroke-width="0.6"/><polygon points="532.1,159.9 534.0,158.6 535.8,157.3 537.6,156.5 539.4,156.0 541.2,155.5 543.0,155.0 541.0,154.5 539.0,154.0 537.0,153.5 535.1,153.1 533.1,152.6 531.1,152.1 529.3,152.6 527.5,153.1 525.7,153.6 523.9,154.0 522.1,154.5 520.3,155.0 522.3,155.7 524.2,156.6 526.2,157.4 528.2,158.2 530.2,159.0" class="o"/><polygon points="555.0,157.9 565.7,155.0 553.7,152.1 543.0,155.0" fill="#ff2626" class="m"/><polygon points="577.8,157.9 588.4,155.0 576.2,152.1 565.7,155.0" fill="#ff2626" class="m"/><polygon points="600.7,157.9 611.1,155.0 598.8,152.1 588.4,155.0" fill="#ff2626" class="m"/><polygon points="623.5,157.9 633.8,154.9 621.3,152.1 611.1,155.0" fill="#ff2626" class="m"/><polygon points="646.4,157.9 656.5,154.9 643.9,152.0 633.8,154.9" fill="#ff2626" class="m"/><polygon points="669.2,157.9 679.2,154.9 666.5,152.0 656.5,154.9" fill="#ff2626" class="m"/><polygon points="245.5,161.1 258.3,158.1 248.2,155.2 235.5,158.1" fill="#ff2626" class="m"/><polygon points="268.5,161.0 281.1,158.1 270.9,155.1 258.3,158.1" fill="#ff2626" class="m"/><polygon points="291.5,161.0 303.9,158.1 293.5,155.1 281.1,158.1" fill="#ff2626" class="m"/><polygon points="314.4,161.0 326.7,158.0 316.2,155.1 303.9,158.1" fill="#ff2626" class="m"/><polygon points="337.4,161.0 349.5,158.0 338.9,155.1 326.7,158.0" fill="#ff2626" class="m"/><polygon points="361.2,157.3 365.1,156.9 361.6,155.6 357.6,156.1" fill="#eb2524" stroke="#eb2524" stroke-width="0.6"/><polygon points="364.8,158.6 368.8,158.2 365.1,156.9 361.2,157.3" fill="#e82624" stroke="#e82624" stroke-width="0.6"/><polygon points="368.4,159.8 372.4,159.5 368.8,158.2 364.8,158.6" fill="#e52724" stroke="#e52724" stroke-width="0.6"/><polygon points="357.1,158.0 361.2,157.3 357.6,156.1 353.6,157.0" fill="#ff2626" stroke="#ff2626" stroke-width="0.6"/><polygon points="360.8,159.0 364.8,158.6 361.2,157.3 357.1,158.0" fill="#dc2121" stroke="#dc2121" stroke-width="0.6"/><polygon points="364.4,160.1 368.4,159.8 364.8,158.6 360.8,159.0" fill="#d92221" stroke="#d92221" stroke-width="0.6"/><polygon points="353.1,159.0 357.1,158.0 353.6,157.0 349.5,158.0" fill="#ff2626" stroke="#ff2626" stroke-width="0.6"/><polygon points="356.7,160.0 360.8,159.0 357.1,158.0 353.1,159.0" fill="#ff2626" stroke="#ff2626" stroke-width="0.6"/><polygon points="360.4,161.0 364.4,160.1 360.8,159.0 356.7,160.0" fill="#ff2626" stroke="#ff2626" stroke-width="0.6"/><polygon points="360.4,161.0 362.4,160.5 364.4,160.1 366.4,160.0 368.4,159.8 370.4,159.7 372.4,159.5 370.6,158.8 368.8,158.2 367.0,157.6 365.1,156.9 363.3,156.3 361.6,155.6 359.6,155.9 357.6,156.1 355.6,156.6 353.6,157.0 351.6,157.5 349.5,158.0 351.3,158.5 353.1,159.0 354.9,159.5 356.7,160.0 358.5,160.5" class="o"/><polygon points="384.0,159.7 387.9,159.0 384.3,157.7 380.3,158.4" fill="#ff362b" stroke="#ff362b" stroke-width="0.6"/><polygon points="387.6,161.1 391.6,160.4 387.9,159.0 384.0,159.7" fill="#ff382b" stroke="#ff382b" stroke-width="0.6"/><polygon points="391.3,162.4 395.2,161.7 391.6,160.4 387.6,161.1" fill="#ff392b" stroke="#ff392b" stroke-width="0.6"/><polygon points="380.0,160.3 384.0,159.7 380.3,158.4 376.4,159.0" fill="#fa3228" stroke="#fa3228" stroke-width="0.6"/><polygon points="383.7,161.6 387.6,161.1 384.0,159.7 380.0,160.3" fill="#f73328" stroke="#f73328" stroke-width="0.6"/><polygon points="387.3,162.9 391.3,162.4 387.6,161.1 383.7,161.6" fill="#f43528" stroke="#f43528" stroke-width="0.6"/><polygon points="376.0,160.8 380.0,160.3 376.4,159.0 372.4,159.5" fill="#ee2d26" stroke="#ee2d26" stroke-width="0.6"/><polygon points="379.7,162.0 383.7,161.6 380.0,160.3 376.0,160.8" fill="#eb2e26" stroke="#eb2e26" stroke-width="0.6"/><polygon points="383.4,163.3 387.3,162.9 383.7,161.6 379.7,162.0" fill="#e82f26" stroke="#e82f26" stroke-width="0.6"/><polygon points="383.4,163.3 385.3,163.1 387.3,162.9 389.3,162.6 391.3,162.4 393.3,162.1 395.2,161.7 393.4,161.0 391.6,160.4 389.7,159.7 387.9,159.0 386.1,158.4 384.3,157.7 382.3,158.1 380.3,158.4 378.3,158.7 376.4,159.0 374.4,159.3 372.4,159.5 374.2,160.1 376.0,160.8 377.9,161.4 379.7,162.0 381.5,162.7" class="o"/><polygon points="406.7,161.4 410.6,160.4 406.9,159.0 403.0,160.0" fill="#ff4534" stroke="#ff4534" stroke-width="0.6"/><polygon points="410.4,162.8 414.3,161.8 410.6,160.4 406.7,161.4" fill="#ff4734" stroke="#ff4734" stroke-width="0.6"/><polygon points="414.2,164.2 418.0,163.2 414.3,161.8 410.4,162.8" fill="#ff4934" stroke="#ff4934" stroke-width="0.6"/><polygon points="402.8,162.3 406.7,161.4 403.0,160.0 399.1,160.9" fill="#ff4231" stroke="#ff4231" stroke-width="0.6"/><polygon points="406.5,163.6 410.4,162.8 406.7,161.4 402.8,162.3" fill="#ff4431" stroke="#ff4431" stroke-width="0.6"/><polygon points="410.3,165.0 414.2,164.2 410.4,162.8 406.5,163.6" fill="#ff4531" stroke="#ff4531" stroke-width="0.6"/><polygon points="398.9,163.0 402.8,162.3 399.1,160.9 395.2,161.7" fill="#ff3f2e" stroke="#ff3f2e" stroke-width="0.6"/><polygon points="402.6,164.4 406.5,163.6 402.8,162.3 398.9,163.0" fill="#ff402d" stroke="#ff402d" stroke-width="0.6"/><polygon points="406.3,165.7 410.3,165.0 406.5,163.6 402.6,164.4" fill="#ff412d" stroke="#ff412d" stroke-width="0.6"/><polygon points="406.3,165.7 408.3,165.4 410.3,165.0 412.2,164.6 414.2,164.2 416.1,163.7 418.0,163.2 416.2,162.5 414.3,161.8 412.5,161.1 410.6,160.4 408.8,159.7 406.9,159.0 405.0,159.5 403.0,160.0 401.1,160.5 399.1,160.9 397.2,161.3 395.2,161.7 397.1,162.4 398.9,163.0 400.8,163.7 402.6,164.4 404.5,165.0" class="o"/><polygon points="429.5,162.4 433.3,161.1 429.6,159.6 425.8,161.0" fill="#ff513d" stroke="#ff513d" stroke-width="0.6"/><polygon points="433.2,163.8 437.1,162.5 433.3,161.1 429.5,162.4" fill="#ff533e" stroke="#ff533e" stroke-width="0.6"/><polygon points="437.0,165.2 440.8,164.0 437.1,162.5 433.2,163.8" fill="#ff553d" stroke="#ff553d" stroke-width="0.6"/><polygon points="425.6,163.6 429.5,162.4 425.8,161.0 421.9,162.1" fill="#ff503b" stroke="#ff503b" stroke-width="0.6"/><polygon points="429.4,165.0 433.2,163.8 429.5,162.4 425.6,163.6" fill="#ff513b" stroke="#ff513b" stroke-width="0.6"/><polygon points="433.2,166.4 437.0,165.2 433.2,163.8 429.4,165.0" fill="#ff533a" stroke="#ff533a" stroke-width="0.6"/><polygon points="421.8,164.6 425.6,163.6 421.9,162.1 418.0,163.2" fill="#ff4e38" stroke="#ff4e38" stroke-width="0.6"/><polygon points="425.5,166.0 429.4,165.0 425.6,163.6 421.8,164.6" fill="#ff4f37" stroke="#ff4f37" stroke-width="0.6"/><polygon points="429.3,167.4 433.2,166.4 429.4,165.0 425.5,166.0" fill="#ff5037" stroke="#ff5037" stroke-width="0.6"/><polygon points="429.3,167.4 431.2,166.9 433.2,166.4 435.1,165.8 437.0,165.2 438.9,164.6 440.8,164.0 439.0,163.3 437.1,162.5 435.2,161.8 433.3,161.1 431.5,160.4 429.6,159.6 427.7,160.3 425.8,161.0 423.8,161.6 421.9,162.1 420.0,162.7 418.0,163.2 419.9,163.9 421.8,164.6 423.7,165.3 425.5,166.0 427.4,166.7" class="o"/><polygon points="452.2,162.6 456.0,161.0 452.2,159.5 448.5,161.1" fill="#ff5945" stroke="#ff5945" stroke-width="0.6"/><polygon points="456.0,164.1 459.8,162.5 456.0,161.0 452.2,162.6" fill="#ff5b45" stroke="#ff5b45" stroke-width="0.6"/><polygon points="459.9,165.6 463.6,164.0 459.8,162.5 456.0,164.1" fill="#ff5c45" stroke="#ff5c45" stroke-width="0.6"/><polygon points="448.4,164.1 452.2,162.6 448.5,161.1 444.7,162.6" fill="#ff5943" stroke="#ff5943" stroke-width="0.6"/><polygon points="452.2,165.5 456.0,164.1 452.2,162.6 448.4,164.1" fill="#ff5a43" stroke="#ff5a43" stroke-width="0.6"/><polygon points="456.1,167.0 459.9,165.6 456.0,164.1 452.2,165.5" fill="#ff5c42" stroke="#ff5c42" stroke-width="0.6"/><polygon points="444.6,165.4 448.4,164.1 444.7,162.6 440.8,164.0" fill="#ff5840" stroke="#ff5840" stroke-width="0.6"/><polygon points="448.4,166.9 452.2,165.5 448.4,164.1 444.6,165.4" fill="#ff5940" stroke="#ff5940" stroke-width="0.6"/><polygon points="452.2,168.3 456.1,167.0 452.2,165.5 448.4,166.9" fill="#ff5b3f" stroke="#ff5b3f" stroke-width="0.6"/><polygon points="452.2,168.3 454.2,167.7 456.1,167.0 458.0,166.3 459.9,165.6 461.8,164.8 463.6,164.0 461.7,163.3 459.8,162.5 457.9,161.8 456.0,161.0 454.1,160.3 452.2,159.5 450.4,160.4 448.5,161.1 446.6,161.9 444.7,162.6 442.8,163.3 440.8,164.0 442.7,164.7 444.6,165.4 446.5,166.2 448.4,166.9 450.3,167.6" class="o"/><polygon points="475.0,162.1 478.7,160.3 474.9,158.7 471.2,160.6" fill="#ff5948" stroke="#ff5948" stroke-width="0.6"/><polygon points="478.9,163.7 482.6,161.8 478.7,160.3 475.0,162.1" fill="#ff5e4b" stroke="#ff5e4b" stroke-width="0.6"/><polygon points="482.7,165.2 486.5,163.4 482.6,161.8 478.9,163.7" fill="#ff604c" stroke="#ff604c" stroke-width="0.6"/><polygon points="471.2,163.9 475.0,162.1 471.2,160.6 467.4,162.4" fill="#ff5e4a" stroke="#ff5e4a" stroke-width="0.6"/><polygon points="475.1,165.4 478.9,163.7 475.0,162.1 471.2,163.9" fill="#ff5f4a" stroke="#ff5f4a" stroke-width="0.6"/><polygon points="479.0,166.9 482.7,165.2 478.9,163.7 475.1,165.4" fill="#ff614a" stroke="#ff614a" stroke-width="0.6"/><polygon points="467.5,165.5 471.2,163.9 467.4,162.4 463.6,164.0" fill="#ff5e48" stroke="#ff5e48" stroke-width="0.6"/><polygon points="471.3,167.0 475.1,165.4 471.2,163.9 467.5,165.5" fill="#ff6047" stroke="#ff6047" stroke-width="0.6"/><polygon points="475.2,168.5 479.0,166.9 475.1,165.4 471.3,167.0" fill="#ff6247" stroke="#ff6247" stroke-width="0.6"/><polygon points="475.2,168.5 477.1,167.7 479.0,166.9 480.8,166.1 482.7,165.2 484.6,164.3 486.5,163.4 484.5,162.6 482.6,161.8 480.7,161.0 478.7,160.3 476.8,159.5 474.9,158.7 473.0,159.7 471.2,160.6 469.3,161.5 467.4,162.4 465.5,163.2 463.6,164.0 465.6,164.8 467.5,165.5 469.4,166.3 471.3,167.0 473.3,167.8" class="o"/><polygon points="497.8,160.9 501.5,158.8 497.6,157.2 493.9,159.4" fill="#ff4e42" stroke="#ff4e42" stroke-width="0.6"/><polygon points="501.7,162.5 505.4,160.4 501.5,158.8 497.8,160.9" fill="#ff5547" stroke="#ff5547" stroke-width="0.6"/><polygon points="505.6,164.1 509.3,162.0 505.4,160.4 501.7,162.5" fill="#ff5b4c" stroke="#ff5b4c" stroke-width="0.6"/><polygon points="494.1,163.0 497.8,160.9 493.9,159.4 490.2,161.4" fill="#ff594a" stroke="#ff594a" stroke-width="0.6"/><polygon points="498.0,164.6 501.7,162.5 497.8,160.9 494.1,163.0" fill="#ff5f4e" stroke="#ff5f4e" stroke-width="0.6"/><polygon points="501.9,166.1 505.6,164.1 501.7,162.5 498.0,164.6" fill="#ff6350" stroke="#ff6350" stroke-width="0.6"/><polygon points="490.3,164.9 494.1,163.0 490.2,161.4 486.5,163.4" fill="#ff614e" stroke="#ff614e" stroke-width="0.6"/><polygon points="494.2,166.5 498.0,164.6 494.1,163.0 490.3,164.9" fill="#ff634e" stroke="#ff634e" stroke-width="0.6"/><polygon points="498.1,168.0 501.9,166.1 498.0,164.6 494.2,166.5" fill="#ff654e" stroke="#ff654e" stroke-width="0.6"/><polygon points="498.1,168.0 500.0,167.1 501.9,166.1 503.7,165.1 505.6,164.1 507.4,163.1 509.3,162.0 507.3,161.2 505.4,160.4 503.4,159.6 501.5,158.8 499.5,158.0 497.6,157.2 495.7,158.3 493.9,159.4 492.0,160.4 490.2,161.4 488.3,162.4 486.5,163.4 488.4,164.2 490.3,164.9 492.3,165.7 494.2,166.5 496.2,167.2" class="o"/><polygon points="520.6,159.0 524.2,156.6 520.3,155.0 516.6,157.4" fill="#ff3531" stroke="#ff3531" stroke-width="0.6"/><polygon points="524.5,160.7 528.2,158.2 524.2,156.6 520.6,159.0" fill="#ff3e38" stroke="#ff3e38" stroke-width="0.6"/><polygon points="528.5,162.3 532.1,159.9 528.2,158.2 524.5,160.7" fill="#ff473e" stroke="#ff473e" stroke-width="0.6"/><polygon points="516.9,161.4 520.6,159.0 516.6,157.4 513.0,159.7" fill="#ff483e" stroke="#ff483e" stroke-width="0.6"/><polygon points="520.8,163.0 524.5,160.7 520.6,159.0 516.9,161.4" fill="#ff5044" stroke="#ff5044" stroke-width="0.6"/><polygon points="524.8,164.6 528.5,162.3 524.5,160.7 520.8,163.0" fill="#ff5749" stroke="#ff5749" stroke-width="0.6"/><polygon points="513.2,163.6 516.9,161.4 513.0,159.7 509.3,162.0" fill="#ff5649" stroke="#ff5649" stroke-width="0.6"/><polygon points="517.1,165.2 520.8,163.0 516.9,161.4 513.2,163.6" fill="#ff5d4d" stroke="#ff5d4d" stroke-width="0.6"/><polygon points="521.1,166.8 524.8,164.6 520.8,163.0 517.1,165.2" fill="#ff6352" stroke="#ff6352" stroke-width="0.6"/><polygon points="521.1,166.8 523.0,165.7 524.8,164.6 526.6,163.5 528.5,162.3 530.3,161.1 532.1,159.9 530.2,159.0 528.2,158.2 526.2,157.4 524.2,156.6 522.3,155.7 520.3,155.0 518.5,156.2 516.6,157.4 514.8,158.6 513.0,159.7 511.1,160.9 509.3,162.0 511.2,162.8 513.2,163.6 515.2,164.4 517.1,165.2 519.1,166.0" class="o"/><polygon points="543.4,156.9 547.0,156.0 543.0,155.0 539.4,156.0" fill="#ff2626" stroke="#ff2626" stroke-width="0.6"/><polygon points="547.4,158.1 551.0,156.9 547.0,156.0 543.4,156.9" fill="#ff2626" stroke="#ff2626" stroke-width="0.6"/><polygon points="551.4,159.7 555.0,157.9 551.0,156.9 547.4,158.1" fill="#ff2626" stroke="#ff2626" stroke-width="0.6"/><polygon points="539.8,159.0 543.4,156.9 539.4,156.0 535.8,157.3" fill="#ff2626" stroke="#ff2626" stroke-width="0.6"/><polygon points="543.7,160.7 547.4,158.1 543.4,156.9 539.8,159.0" fill="#ff2f2d" stroke="#ff2f2d" stroke-width="0.6"/><polygon points="547.8,162.3 551.4,159.7 547.4,158.1 543.7,160.7" fill="#ff3a34" stroke="#ff3a34" stroke-width="0.6"/><polygon points="536.1,161.5 539.8,159.0 535.8,157.3 532.1,159.9" fill="#ff3c36" stroke="#ff3c36" stroke-width="0.6"/><polygon points="540.1,163.2 543.7,160.7 539.8,159.0 536.1,161.5" fill="#ff463d" stroke="#ff463d" stroke-width="0.6"/><polygon points="544.1,164.8 547.8,162.3 543.7,160.7 540.1,163.2" fill="#ff4e43" stroke="#ff4e43" stroke-width="0.6"/><polygon points="544.1,164.8 545.9,163.6 547.8,162.3 549.6,161.0 551.4,159.7 553.2,158.4 555.0,157.9 553.0,157.4 551.0,156.9 549.0,156.5 547.0,156.0 545.0,155.5 543.0,155.0 541.2,155.5 539.4,156.0 537.6,156.5 535.8,157.3 534.0,158.6 532.1,159.9 534.1,160.7 536.1,161.5 538.1,162.3 540.1,163.2 542.1,164.0" class="o"/><polygon points="566.2,156.9 569.7,156.0 565.7,155.0 562.1,156.0" fill="#ff2626" stroke="#ff2626" stroke-width="0.6"/><polygon points="570.2,157.9 573.8,156.9 569.7,156.0 566.2,156.9" fill="#ff2626" stroke="#ff2626" stroke-width="0.6"/><polygon points="574.3,158.9 577.8,157.9 573.8,156.9 570.2,157.9" fill="#ff2626" stroke="#ff2626" stroke-width="0.6"/><polygon points="562.6,157.9 566.2,156.9 562.1,156.0 558.6,156.9" fill="#ff2626" stroke="#ff2626" stroke-width="0.6"/><polygon points="566.7,158.9 570.2,157.9 566.2,156.9 562.6,157.9" fill="#ff2626" stroke="#ff2626" stroke-width="0.6"/><polygon points="570.7,159.9 574.3,158.9 570.2,157.9 566.7,158.9" fill="#ff2626" stroke="#ff2626" stroke-width="0.6"/><polygon points="559.0,158.9 562.6,157.9 558.6,156.9 555.0,157.9" fill="#ff2626" stroke="#ff2626" stroke-width="0.6"/><polygon points="563.1,160.4 566.7,158.9 562.6,157.9 559.0,158.9" fill="#ff2626" stroke="#ff2626" stroke-width="0.6"/><polygon points="567.1,162.1 570.7,159.9 566.7,158.9 563.1,160.4" fill="#ff2626" stroke="#ff2626" stroke-width="0.6"/><polygon points="567.1,162.1 569.0,160.7 570.7,159.9 572.5,159.4 574.3,158.9 576.1,158.4 577.8,157.9 575.8,157.4 573.8,156.9 571.7,156.4 569.7,156.0 567.7,155.5 565.7,155.0 563.9,155.5 562.1,156.0 560.4,156.4 558.6,156.9 556.8,157.4 555.0,157.9 557.0,158.4 559.0,158.9 561.1,159.6 563.1,160.4 565.1,161.3" class="o"/><polygon points="590.2,160.9 600.7,157.9 588.4,155.0 577.8,157.9" fill="#ff2626" class="m"/><polygon points="613.2,160.9 623.5,157.9 611.1,155.0 600.7,157.9" fill="#ff2626" class="m"/><polygon points="636.2,160.8 646.4,157.9 633.8,154.9 623.5,157.9" fill="#ff2626" class="m"/><polygon points="659.2,160.8 669.2,157.9 656.5,154.9 646.4,157.9" fill="#ff2626" class="m"/><polygon points="255.7,164.1 268.5,161.0 258.3,158.1 245.5,161.1" fill="#ff2626" class="m"/><polygon points="278.8,164.0 291.5,161.0 281.1,158.1 268.5,161.0" fill="#ff2626" class="m"/><polygon points="302.0,164.0 314.4,161.0 303.9,158.1 291.5,161.0" fill="#ff2626" class="m"/><polygon points="325.1,164.0 337.4,161.0 326.7,158.0 314.4,161.0" fill="#ff2626" class="m"/><polygon points="348.2,164.0 360.4,161.0 349.5,158.0 337.4,161.0" fill="#ff2626" class="m"/><polygon points="372.0,161.1 376.0,160.8 372.4,159.5 368.4,159.8" fill="#e22823" stroke="#e22823" stroke-width="0.6"/><polygon points="375.7,162.3 379.7,162.0 376.0,160.8 372.0,161.1" fill="#df2923" stroke="#df2923" stroke-width="0.6"/><polygon points="379.4,163.6 383.4,163.3 379.7,162.0 375.7,162.3" fill="#dc2a23" stroke="#dc2a23" stroke-width="0.6"/><polygon points="368.0,161.3 372.0,161.1 368.4,159.8 364.4,160.1" fill="#d62321" stroke="#d62321" stroke-width="0.6"/><polygon points="371.7,162.5 375.7,162.3 372.0,161.1 368.0,161.3" fill="#d32321" stroke="#d32321" stroke-width="0.6"/><polygon points="375.3,163.7 379.4,163.6 375.7,162.3 371.7,162.5" fill="#d02420" stroke="#d02420" stroke-width="0.6"/><polygon points="364.0,162.0 368.0,161.3 364.4,160.1 360.4,161.0" fill="#ff2626" stroke="#ff2626" stroke-width="0.6"/><polygon points="367.6,163.0 371.7,162.5 368.0,161.3 364.0,162.0" fill="#ff2626" stroke="#ff2626" stroke-width="0.6"/><polygon points="371.3,164.0 375.3,163.7 371.7,162.5 367.6,163.0" fill="#c41e1e" stroke="#c41e1e" stroke-width="0.6"/><polygon points="371.3,164.0 373.3,163.7 375.3,163.7 377.4,163.6 379.4,163.6 381.4,163.4 383.4,163.3 381.5,162.7 379.7,162.0 377.9,161.4 376.0,160.8 374.2,160.1 372.4,159.5 370.4,159.7 368.4,159.8 366.4,160.0 364.4,160.1 362.4,160.5 360.4,161.0 362.2,161.5 364.0,162.0 365.8,162.5 367.6,163.0 369.5,163.5" class="o"/><polygon points="395.0,163.7 398.9,163.0 395.2,161.7 391.3,162.4" fill="#fc3a2b" stroke="#fc3a2b" stroke-width="0.6"/><polygon points="398.7,165.0 402.6,164.4 398.9,163.0 395.0,163.7" fill="#f93b2b" stroke="#f93b2b" stroke-width="0.6"/><polygon points="402.4,166.3 406.3,165.7 402.6,164.4 398.7,165.0" fill="#f63c2a" stroke="#f63c2a" stroke-width="0.6"/><polygon points="391.0,164.2 395.0,163.7 391.3,162.4 387.3,162.9" fill="#f03528" stroke="#f03528" stroke-width="0.6"/><polygon points="394.7,165.4 398.7,165.0 395.0,163.7 391.0,164.2" fill="#ed3628" stroke="#ed3628" stroke-width="0.6"/><polygon points="398.4,166.7 402.4,166.3 398.7,165.0 394.7,165.4" fill="#ea3728" stroke="#ea3728" stroke-width="0.6"/><polygon points="387.0,164.5 391.0,164.2 387.3,162.9 383.4,163.3" fill="#e43026" stroke="#e43026" stroke-width="0.6"/><polygon points="390.7,165.8 394.7,165.4 391.0,164.2 387.0,164.5" fill="#e13125" stroke="#e13125" stroke-width="0.6"/><polygon points="394.5,167.0 398.4,166.7 394.7,165.4 390.7,165.8" fill="#de3125" stroke="#de3125" stroke-width="0.6"/><polygon points="394.5,167.0 396.5,166.9 398.4,166.7 400.4,166.5 402.4,166.3 404.4,166.0 406.3,165.7 404.5,165.0 402.6,164.4 400.8,163.7 398.9,163.0 397.1,162.4 395.2,161.7 393.3,162.1 391.3,162.4 389.3,162.6 387.3,162.9 385.3,163.1 383.4,163.3 385.2,163.9 387.0,164.5 388.9,165.2 390.7,165.8 392.6,166.4" class="o"/><polygon points="417.9,165.5 421.8,164.6 418.0,163.2 414.2,164.2" fill="#ff4b34" stroke="#ff4b34" stroke-width="0.6"/><polygon points="421.6,166.9 425.5,166.0 421.8,164.6 417.9,165.5" fill="#ff4c34" stroke="#ff4c34" stroke-width="0.6"/><polygon points="425.4,168.2 429.3,167.4 425.5,166.0 421.6,166.9" fill="#ff4d33" stroke="#ff4d33" stroke-width="0.6"/><polygon points="414.0,166.3 417.9,165.5 414.2,164.2 410.3,165.0" fill="#ff4731" stroke="#ff4731" stroke-width="0.6"/><polygon points="417.7,167.7 421.6,166.9 417.9,165.5 414.0,166.3" fill="#ff4830" stroke="#ff4830" stroke-width="0.6"/><polygon points="421.5,169.0 425.4,168.2 421.6,166.9 417.7,167.7" fill="#ff4930" stroke="#ff4930" stroke-width="0.6"/><polygon points="410.1,167.0 414.0,166.3 410.3,165.0 406.3,165.7" fill="#ff422d" stroke="#ff422d" stroke-width="0.6"/><polygon points="413.8,168.3 417.7,167.7 414.0,166.3 410.1,167.0" fill="#fc432d" stroke="#fc432d" stroke-width="0.6"/><polygon points="417.6,169.6 421.5,169.0 417.7,167.7 413.8,168.3" fill="#f9442d" stroke="#f9442d" stroke-width="0.6"/><polygon points="417.6,169.6 419.6,169.3 421.5,169.0 423.5,168.6 425.4,168.2 427.4,167.8 429.3,167.4 427.4,166.7 425.5,166.0 423.7,165.3 421.8,164.6 419.9,163.9 418.0,163.2 416.1,163.7 414.2,164.2 412.2,164.6 410.3,165.0 408.3,165.4 406.3,165.7 408.2,166.3 410.1,167.0 411.9,167.7 413.8,168.3 415.7,169.0" class="o"/><polygon points="440.8,166.7 444.6,165.4 440.8,164.0 437.0,165.2" fill="#ff563d" stroke="#ff563d" stroke-width="0.6"/><polygon points="444.6,168.1 448.4,166.9 444.6,165.4 440.8,166.7" fill="#ff583d" stroke="#ff583d" stroke-width="0.6"/><polygon points="448.4,169.5 452.2,168.3 448.4,166.9 444.6,168.1" fill="#ff593c" stroke="#ff593c" stroke-width="0.6"/><polygon points="437.0,167.8 440.8,166.7 437.0,165.2 433.2,166.4" fill="#ff543a" stroke="#ff543a" stroke-width="0.6"/><polygon points="440.8,169.1 444.6,168.1 440.8,166.7 437.0,167.8" fill="#ff5539" stroke="#ff5539" stroke-width="0.6"/><polygon points="444.6,170.5 448.4,169.5 444.6,168.1 440.8,169.1" fill="#ff5739" stroke="#ff5739" stroke-width="0.6"/><polygon points="433.1,168.7 437.0,167.8 433.2,166.4 429.3,167.4" fill="#ff5136" stroke="#ff5136" stroke-width="0.6"/><polygon points="436.9,170.1 440.8,169.1 437.0,167.8 433.1,168.7" fill="#ff5336" stroke="#ff5336" stroke-width="0.6"/><polygon points="440.7,171.4 444.6,170.5 440.8,169.1 436.9,170.1" fill="#ff5436" stroke="#ff5436" stroke-width="0.6"/><polygon points="440.7,171.4 442.6,171.0 444.6,170.5 446.5,170.0 448.4,169.5 450.3,168.9 452.2,168.3 450.3,167.6 448.4,166.9 446.5,166.2 444.6,165.4 442.7,164.7 440.8,164.0 438.9,164.6 437.0,165.2 435.1,165.8 433.2,166.4 431.2,166.9 429.3,167.4 431.2,168.0 433.1,168.7 435.0,169.4 436.9,170.1 438.8,170.8" class="o"/><polygon points="463.7,167.1 467.5,165.5 463.6,164.0 459.9,165.6" fill="#ff5e45" stroke="#ff5e45" stroke-width="0.6"/><polygon points="467.5,168.5 471.3,167.0 467.5,165.5 463.7,167.1" fill="#ff6045" stroke="#ff6045" stroke-width="0.6"/><polygon points="471.4,170.0 475.2,168.5 471.3,167.0 467.5,168.5" fill="#ff6144" stroke="#ff6144" stroke-width="0.6"/><polygon points="459.9,168.5 463.7,167.1 459.9,165.6 456.1,167.0" fill="#ff5d42" stroke="#ff5d42" stroke-width="0.6"/><polygon points="463.7,169.9 467.5,168.5 463.7,167.1 459.9,168.5" fill="#ff5f42" stroke="#ff5f42" stroke-width="0.6"/><polygon points="467.6,171.3 471.4,170.0 467.5,168.5 463.7,169.9" fill="#ff6042" stroke="#ff6042" stroke-width="0.6"/><polygon points="456.1,169.7 459.9,168.5 456.1,167.0 452.2,168.3" fill="#ff5c3f" stroke="#ff5c3f" stroke-width="0.6"/><polygon points="459.9,171.1 463.7,169.9 459.9,168.5 456.1,169.7" fill="#ff5e3f" stroke="#ff5e3f" stroke-width="0.6"/><polygon points="463.8,172.6 467.6,171.3 463.7,169.9 459.9,171.1" fill="#ff5f3e" stroke="#ff5f3e" stroke-width="0.6"/><polygon points="463.8,172.6 465.7,172.0 467.6,171.3 469.5,170.7 471.4,170.0 473.3,169.3 475.2,168.5 473.3,167.8 471.3,167.0 469.4,166.3 467.5,165.5 465.6,164.8 463.6,164.0 461.8,164.8 459.9,165.6 458.0,166.3 456.1,167.0 454.2,167.7 452.2,168.3 454.2,169.0 456.1,169.7 458.0,170.4 459.9,171.1 461.9,171.8" class="o"/><polygon points="486.6,166.7 490.3,164.9 486.5,163.4 482.7,165.2" fill="#ff624c" stroke="#ff624c" stroke-width="0.6"/><polygon points="490.5,168.3 494.2,166.5 490.3,164.9 486.6,166.7" fill="#ff644c" stroke="#ff644c" stroke-width="0.6"/><polygon points="494.4,169.8 498.1,168.0 494.2,166.5 490.5,168.3" fill="#ff664b" stroke="#ff664b" stroke-width="0.6"/><polygon points="482.8,168.4 486.6,166.7 482.7,165.2 479.0,166.9" fill="#ff6349" stroke="#ff6349" stroke-width="0.6"/><polygon points="486.7,169.9 490.5,168.3 486.6,166.7 482.8,168.4" fill="#ff6549" stroke="#ff6549" stroke-width="0.6"/><polygon points="490.6,171.4 494.4,169.8 490.5,168.3 486.7,169.9" fill="#ff6649" stroke="#ff6649" stroke-width="0.6"/><polygon points="479.1,170.0 482.8,168.4 479.0,166.9 475.2,168.5" fill="#ff6347" stroke="#ff6347" stroke-width="0.6"/><polygon points="483.0,171.5 486.7,169.9 482.8,168.4 479.1,170.0" fill="#ff6547" stroke="#ff6547" stroke-width="0.6"/><polygon points="486.9,172.9 490.6,171.4 486.7,169.9 483.0,171.5" fill="#ff6646" stroke="#ff6646" stroke-width="0.6"/><polygon points="486.9,172.9 488.8,172.2 490.6,171.4 492.5,170.6 494.4,169.8 496.3,168.9 498.1,168.0 496.2,167.2 494.2,166.5 492.3,165.7 490.3,164.9 488.4,164.2 486.5,163.4 484.6,164.3 482.7,165.2 480.8,166.1 479.0,166.9 477.1,167.7 475.2,168.5 477.1,169.3 479.1,170.0 481.0,170.7 483.0,171.5 484.9,172.2" class="o"/><polygon points="509.5,165.7 513.2,163.6 509.3,162.0 505.6,164.1" fill="#ff6250" stroke="#ff6250" stroke-width="0.6"/><polygon points="513.4,167.3 517.1,165.2 513.2,163.6 509.5,165.7" fill="#ff6552" stroke="#ff6552" stroke-width="0.6"/><polygon points="517.4,168.8 521.1,166.8 517.1,165.2 513.4,167.3" fill="#ff6752" stroke="#ff6752" stroke-width="0.6"/><polygon points="505.8,167.7 509.5,165.7 505.6,164.1 501.9,166.1" fill="#ff6550" stroke="#ff6550" stroke-width="0.6"/><polygon points="509.7,169.2 513.4,167.3 509.5,165.7 505.8,167.7" fill="#ff6750" stroke="#ff6750" stroke-width="0.6"/><polygon points="513.7,170.8 517.4,168.8 513.4,167.3 509.7,169.2" fill="#ff694f" stroke="#ff694f" stroke-width="0.6"/><polygon points="502.1,169.5 505.8,167.7 501.9,166.1 498.1,168.0" fill="#ff674e" stroke="#ff674e" stroke-width="0.6"/><polygon points="506.0,171.1 509.7,169.2 505.8,167.7 502.1,169.5" fill="#ff684d" stroke="#ff684d" stroke-width="0.6"/><polygon points="510.0,172.6 513.7,170.8 509.7,169.2 506.0,171.1" fill="#ff6a4d" stroke="#ff6a4d" stroke-width="0.6"/><polygon points="510.0,172.6 511.8,171.7 513.7,170.8 515.6,169.8 517.4,168.8 519.3,167.8 521.1,166.8 519.1,166.0 517.1,165.2 515.2,164.4 513.2,163.6 511.2,162.8 509.3,162.0 507.4,163.1 505.6,164.1 503.7,165.1 501.9,166.1 500.0,167.1 498.1,168.0 500.1,168.8 502.1,169.5 504.0,170.3 506.0,171.1 508.0,171.8" class="o"/><polygon points="532.4,163.9 536.1,161.5 532.1,159.9 528.5,162.3" fill="#ff4f44" stroke="#ff4f44" stroke-width="0.6"/><polygon points="536.4,165.5 540.1,163.2 536.1,161.5 532.4,163.9" fill="#ff574a" stroke="#ff574a" stroke-width="0.6"/><polygon points="540.4,167.2 544.1,164.8 540.1,163.2 536.4,165.5" fill="#ff5e4f" stroke="#ff5e4f" stroke-width="0.6"/><polygon points="528.8,166.2 532.4,163.9 528.5,162.3 524.8,164.6" fill="#ff5e4f" stroke="#ff5e4f" stroke-width="0.6"/><polygon points="532.8,167.8 536.4,165.5 532.4,163.9 528.8,166.2" fill="#ff6553" stroke="#ff6553" stroke-width="0.6"/><polygon points="536.8,169.4 540.4,167.2 536.4,165.5 532.8,167.8" fill="#ff6855" stroke="#ff6855" stroke-width="0.6"/><polygon points="525.1,168.3 528.8,166.2 524.8,164.6 521.1,166.8" fill="#ff6753" stroke="#ff6753" stroke-width="0.6"/><polygon points="529.1,169.9 532.8,167.8 528.8,166.2 525.1,168.3" fill="#ff6953" stroke="#ff6953" stroke-width="0.6"/><polygon points="533.1,171.5 536.8,169.4 532.8,167.8 529.1,169.9" fill="#ff6b53" stroke="#ff6b53" stroke-width="0.6"/><polygon points="533.1,171.5 534.9,170.5 536.8,169.4 538.6,168.3 540.4,167.2 542.3,166.0 544.1,164.8 542.1,164.0 540.1,163.2 538.1,162.3 536.1,161.5 534.1,160.7 532.1,159.9 530.3,161.1 528.5,162.3 526.6,163.5 524.8,164.6 523.0,165.7 521.1,166.8 523.1,167.6 525.1,168.3 527.1,169.1 529.1,169.9 531.1,170.7" class="o"/><polygon points="555.4,161.4 559.0,158.9 555.0,157.9 551.4,159.7" fill="#ff2b2a" stroke="#ff2b2a" stroke-width="0.6"/><polygon points="559.5,163.1 563.1,160.4 559.0,158.9 555.4,161.4" fill="#ff3632" stroke="#ff3632" stroke-width="0.6"/><polygon points="563.5,164.7 567.1,162.1 563.1,160.4 559.5,163.1" fill="#ff4039" stroke="#ff4039" stroke-width="0.6"/><polygon points="551.8,164.0 555.4,161.4 551.4,159.7 547.8,162.3" fill="#ff433b" stroke="#ff433b" stroke-width="0.6"/><polygon points="555.8,165.6 559.5,163.1 555.4,161.4 551.8,164.0" fill="#ff4c42" stroke="#ff4c42" stroke-width="0.6"/><polygon points="559.9,167.3 563.5,164.7 559.5,163.1 555.8,165.6" fill="#ff5549" stroke="#ff5549" stroke-width="0.6"/><polygon points="548.1,166.4 551.8,164.0 547.8,162.3 544.1,164.8" fill="#ff5649" stroke="#ff5649" stroke-width="0.6"/><polygon points="552.2,168.1 555.8,165.6 551.8,164.0 548.1,166.4" fill="#ff5e4f" stroke="#ff5e4f" stroke-width="0.6"/><polygon points="556.2,169.7 559.9,167.3 555.8,165.6 552.2,168.1" fill="#ff6555" stroke="#ff6555" stroke-width="0.6"/><polygon points="556.2,169.7 558.1,168.5 559.9,167.3 561.7,166.0 563.5,164.7 565.3,163.4 567.1,162.1 565.1,161.3 563.1,160.4 561.1,159.6 559.0,158.9 557.0,158.4 555.0,157.9 553.2,158.4 551.4,159.7 549.6,161.0 547.8,162.3 545.9,163.6 544.1,164.8 546.1,165.6 548.1,166.4 550.1,167.2 552.2,168.1 554.2,168.9" class="o"/><polygon points="578.4,159.9 581.9,158.9 577.8,157.9 574.3,158.9" fill="#ff2626" stroke="#ff2626" stroke-width="0.6"/><polygon points="582.5,160.9 586.0,159.9 581.9,158.9 578.4,159.9" fill="#ff2626" stroke="#ff2626" stroke-width="0.6"/><polygon points="586.6,161.9 590.2,160.9 586.0,159.9 582.5,160.9" fill="#ff2626" stroke="#ff2626" stroke-width="0.6"/><polygon points="574.8,161.0 578.4,159.9 574.3,158.9 570.7,159.9" fill="#ff2626" stroke="#ff2626" stroke-width="0.6"/><polygon points="578.9,162.7 582.5,160.9 578.4,159.9 574.8,161.0" fill="#ff2626" stroke="#ff2626" stroke-width="0.6"/><polygon points="583.0,164.4 586.6,161.9 582.5,160.9 578.9,162.7" fill="#ff2b2a" stroke="#ff2b2a" stroke-width="0.6"/><polygon points="571.2,163.8 574.8,161.0 570.7,159.9 567.1,162.1" fill="#ff312e" stroke="#ff312e" stroke-width="0.6"/><polygon points="575.3,165.5 578.9,162.7 574.8,161.0 571.2,163.8" fill="#ff3b36" stroke="#ff3b36" stroke-width="0.6"/><polygon points="579.4,167.1 583.0,164.4 578.9,162.7 575.3,165.5" fill="#ff453d" stroke="#ff453d" stroke-width="0.6"/><polygon points="579.4,167.1 581.2,165.8 583.0,164.4 584.8,163.0 586.6,161.9 588.4,161.4 590.2,160.9 588.1,160.4 586.0,159.9 584.0,159.4 581.9,158.9 579.9,158.4 577.8,157.9 576.1,158.4 574.3,158.9 572.5,159.4 570.7,159.9 569.0,160.7 567.1,162.1 569.2,162.9 571.2,163.8 573.3,164.6 575.3,165.5 577.4,166.3" class="o"/><polygon points="602.6,163.9 613.2,160.9 600.7,157.9 590.2,160.9" fill="#ff2626" class="m"/><polygon points="625.8,163.9 636.2,160.8 623.5,157.9 613.2,160.9" fill="#ff2626" class="m"/><polygon points="648.9,163.8 659.2,160.8 646.4,157.9 636.2,160.8" fill="#ff2626" class="m"/><polygon points="266.1,167.1 278.8,164.0 268.5,161.0 255.7,164.1" fill="#ff2626" class="m"/><polygon points="289.3,167.1 302.0,164.0 291.5,161.0 278.8,164.0" fill="#ff2626" class="m"/><polygon points="312.6,167.1 325.1,164.0 314.4,161.0 302.0,164.0" fill="#ff2626" class="m"/><polygon points="335.9,167.1 348.2,164.0 337.4,161.0 325.1,164.0" fill="#ff2626" class="m"/><polygon points="359.1,167.0 371.3,164.0 360.4,161.0 348.2,164.0" fill="#ff2626" class="m"/><polygon points="383.0,164.8 387.0,164.5 383.4,163.3 379.4,163.6" fill="#d92a23" stroke="#d92a23" stroke-width="0.6"/><polygon points="386.7,166.0 390.7,165.8 387.0,164.5 383.0,164.8" fill="#d52b23" stroke="#d52b23" stroke-width="0.6"/><polygon points="390.5,167.2 394.5,167.0 390.7,165.8 386.7,166.0" fill="#d22b22" stroke="#d22b22" stroke-width="0.6"/><polygon points="379.0,164.9 383.0,164.8 379.4,163.6 375.3,163.7" fill="#cd2420" stroke="#cd2420" stroke-width="0.6"/><polygon points="382.7,166.1 386.7,166.0 383.0,164.8 379.0,164.9" fill="#ca2520" stroke="#ca2520" stroke-width="0.6"/><polygon points="386.4,167.3 390.5,167.2 386.7,166.0 382.7,166.1" fill="#c6251f" stroke="#c6251f" stroke-width="0.6"/><polygon points="375.0,165.0 379.0,164.9 375.3,163.7 371.3,164.0" fill="#c11e1d" stroke="#c11e1d" stroke-width="0.6"/><polygon points="378.7,166.1 382.7,166.1 379.0,164.9 375.0,165.0" fill="#be1e1d" stroke="#be1e1d" stroke-width="0.6"/><polygon points="382.4,167.2 386.4,167.3 382.7,166.1 378.7,166.1" fill="#ba1f1d" stroke="#ba1f1d" stroke-width="0.6"/><polygon points="382.4,167.2 384.4,167.3 386.4,167.3 388.5,167.3 390.5,167.2 392.5,167.1 394.5,167.0 392.6,166.4 390.7,165.8 388.9,165.2 387.0,164.5 385.2,163.9 383.4,163.3 381.4,163.4 379.4,163.6 377.4,163.6 375.3,163.7 373.3,163.7 371.3,164.0 373.1,164.5 375.0,165.0 376.8,165.5 378.7,166.1 380.5,166.6" class="o"/><polygon points="406.1,167.5 410.1,167.0 406.3,165.7 402.4,166.3" fill="#f33d2a" stroke="#f33d2a" stroke-width="0.6"/><polygon points="409.9,168.8 413.8,168.3 410.1,167.0 406.1,167.5" fill="#f03e2a" stroke="#f03e2a" stroke-width="0.6"/><polygon points="413.7,170.1 417.6,169.6 413.8,168.3 409.9,168.8" fill="#ed3f2a" stroke="#ed3f2a" stroke-width="0.6"/><polygon points="402.2,168.0 406.1,167.5 402.4,166.3 398.4,166.7" fill="#e73828" stroke="#e73828" stroke-width="0.6"/><polygon points="405.9,169.2 409.9,168.8 406.1,167.5 402.2,168.0" fill="#e43827" stroke="#e43827" stroke-width="0.6"/><polygon points="409.7,170.5 413.7,170.1 409.9,168.8 405.9,169.2" fill="#e13927" stroke="#e13927" stroke-width="0.6"/><polygon points="398.2,168.3 402.2,168.0 398.4,166.7 394.5,167.0" fill="#db3225" stroke="#db3225" stroke-width="0.6"/><polygon points="402.0,169.5 405.9,169.2 402.2,168.0 398.2,168.3" fill="#d83225" stroke="#d83225" stroke-width="0.6"/><polygon points="405.7,170.7 409.7,170.5 405.9,169.2 402.0,169.5" fill="#d53224" stroke="#d53224" stroke-width="0.6"/><polygon points="405.7,170.7 407.7,170.6 409.7,170.5 411.7,170.3 413.7,170.1 415.6,169.9 417.6,169.6 415.7,169.0 413.8,168.3 411.9,167.7 410.1,167.0 408.2,166.3 406.3,165.7 404.4,166.0 402.4,166.3 400.4,166.5 398.4,166.7 396.5,166.9 394.5,167.0 396.3,167.6 398.2,168.3 400.1,168.9 402.0,169.5 403.8,170.1" class="o"/><polygon points="429.2,169.6 433.1,168.7 429.3,167.4 425.4,168.2" fill="#ff4e33" stroke="#ff4e33" stroke-width="0.6"/><polygon points="433.0,170.9 436.9,170.1 433.1,168.7 429.2,169.6" fill="#ff4f33" stroke="#ff4f33" stroke-width="0.6"/><polygon points="436.8,172.2 440.7,171.4 436.9,170.1 433.0,170.9" fill="#ff5032" stroke="#ff5032" stroke-width="0.6"/><polygon points="425.3,170.3 429.2,169.6 425.4,168.2 421.5,169.0" fill="#ff4a2f" stroke="#ff4a2f" stroke-width="0.6"/><polygon points="429.1,171.6 433.0,170.9 429.2,169.6 425.3,170.3" fill="#ff4b2f" stroke="#ff4b2f" stroke-width="0.6"/><polygon points="432.9,172.9 436.8,172.2 433.0,170.9 429.1,171.6" fill="#fb4b2f" stroke="#fb4b2f" stroke-width="0.6"/><polygon points="421.4,170.9 425.3,170.3 421.5,169.0 417.6,169.6" fill="#f6452c" stroke="#f6452c" stroke-width="0.6"/><polygon points="425.2,172.2 429.1,171.6 425.3,170.3 421.4,170.9" fill="#f3452c" stroke="#f3452c" stroke-width="0.6"/><polygon points="429.0,173.5 432.9,172.9 429.1,171.6 425.2,172.2" fill="#f0462c" stroke="#f0462c" stroke-width="0.6"/><polygon points="429.0,173.5 431.0,173.2 432.9,172.9 434.9,172.6 436.8,172.2 438.8,171.9 440.7,171.4 438.8,170.8 436.9,170.1 435.0,169.4 433.1,168.7 431.2,168.0 429.3,167.4 427.4,167.8 425.4,168.2 423.5,168.6 421.5,169.0 419.6,169.3 417.6,169.6 419.5,170.3 421.4,170.9 423.3,171.5 425.2,172.2 427.1,172.8" class="o"/><polygon points="452.2,170.9 456.1,169.7 452.2,168.3 448.4,169.5" fill="#ff5a3c" stroke="#ff5a3c" stroke-width="0.6"/><polygon points="456.1,172.3 459.9,171.1 456.1,169.7 452.2,170.9" fill="#ff5c3c" stroke="#ff5c3c" stroke-width="0.6"/><polygon points="460.0,173.7 463.8,172.6 459.9,171.1 456.1,172.3" fill="#ff5d3b" stroke="#ff5d3b" stroke-width="0.6"/><polygon points="448.4,171.9 452.2,170.9 448.4,169.5 444.6,170.5" fill="#ff5839" stroke="#ff5839" stroke-width="0.6"/><polygon points="452.2,173.3 456.1,172.3 452.2,170.9 448.4,171.9" fill="#ff5938" stroke="#ff5938" stroke-width="0.6"/><polygon points="456.1,174.6 460.0,173.7 456.1,172.3 452.2,173.3" fill="#ff5a38" stroke="#ff5a38" stroke-width="0.6"/><polygon points="444.5,172.8 448.4,171.9 444.6,170.5 440.7,171.4" fill="#ff5535" stroke="#ff5535" stroke-width="0.6"/><polygon points="448.4,174.1 452.2,173.3 448.4,171.9 444.5,172.8" fill="#ff5635" stroke="#ff5635" stroke-width="0.6"/><polygon points="452.2,175.5 456.1,174.6 452.2,173.3 448.4,174.1" fill="#ff5734" stroke="#ff5734" stroke-width="0.6"/><polygon points="452.2,175.5 454.2,175.1 456.1,174.6 458.0,174.2 460.0,173.7 461.9,173.1 463.8,172.6 461.9,171.8 459.9,171.1 458.0,170.4 456.1,169.7 454.2,169.0 452.2,168.3 450.3,168.9 448.4,169.5 446.5,170.0 444.6,170.5 442.6,171.0 440.7,171.4 442.6,172.1 444.5,172.8 446.5,173.5 448.4,174.1 450.3,174.8" class="o"/><polygon points="475.3,171.4 479.1,170.0 475.2,168.5 471.4,170.0" fill="#ff6344" stroke="#ff6344" stroke-width="0.6"/><polygon points="479.2,172.9 483.0,171.5 479.1,170.0 475.3,171.4" fill="#ff6444" stroke="#ff6444" stroke-width="0.6"/><polygon points="483.1,174.3 486.9,172.9 483.0,171.5 479.2,172.9" fill="#ff6643" stroke="#ff6643" stroke-width="0.6"/><polygon points="471.5,172.8 475.3,171.4 471.4,170.0 467.6,171.3" fill="#ff6241" stroke="#ff6241" stroke-width="0.6"/><polygon points="475.4,174.2 479.2,172.9 475.3,171.4 471.5,172.8" fill="#ff6341" stroke="#ff6341" stroke-width="0.6"/><polygon points="479.3,175.6 483.1,174.3 479.2,172.9 475.4,174.2" fill="#ff6440" stroke="#ff6440" stroke-width="0.6"/><polygon points="467.7,174.0 471.5,172.8 467.6,171.3 463.8,172.6" fill="#ff603e" stroke="#ff603e" stroke-width="0.6"/><polygon points="471.6,175.4 475.4,174.2 471.5,172.8 467.7,174.0" fill="#ff613e" stroke="#ff613e" stroke-width="0.6"/><polygon points="475.5,176.8 479.3,175.6 475.4,174.2 471.6,175.4" fill="#ff633d" stroke="#ff633d" stroke-width="0.6"/><polygon points="475.5,176.8 477.4,176.2 479.3,175.6 481.2,175.0 483.1,174.3 485.0,173.6 486.9,172.9 484.9,172.2 483.0,171.5 481.0,170.7 479.1,170.0 477.1,169.3 475.2,168.5 473.3,169.3 471.4,170.0 469.5,170.7 467.6,171.3 465.7,172.0 463.8,172.6 465.7,173.3 467.7,174.0 469.6,174.7 471.6,175.4 473.5,176.1" class="o"/><polygon points="498.3,171.3 502.1,169.5 498.1,168.0 494.4,169.8" fill="#ff684b" stroke="#ff684b" stroke-width="0.6"/><polygon points="502.3,172.8 506.0,171.1 502.1,169.5 498.3,171.3" fill="#ff694b" stroke="#ff694b" stroke-width="0.6"/><polygon points="506.2,174.3 510.0,172.6 506.0,171.1 502.3,172.8" fill="#ff6b4b" stroke="#ff6b4b" stroke-width="0.6"/><polygon points="494.6,172.9 498.3,171.3 494.4,169.8 490.6,171.4" fill="#ff6849" stroke="#ff6849" stroke-width="0.6"/><polygon points="498.5,174.4 502.3,172.8 498.3,171.3 494.6,172.9" fill="#ff6948" stroke="#ff6948" stroke-width="0.6"/><polygon points="502.5,175.9 506.2,174.3 502.3,172.8 498.5,174.4" fill="#ff6b48" stroke="#ff6b48" stroke-width="0.6"/><polygon points="490.8,174.4 494.6,172.9 490.6,171.4 486.9,172.9" fill="#ff6846" stroke="#ff6846" stroke-width="0.6"/><polygon points="494.8,175.9 498.5,174.4 494.6,172.9 490.8,174.4" fill="#ff6946" stroke="#ff6946" stroke-width="0.6"/><polygon points="498.7,177.3 502.5,175.9 498.5,174.4 494.8,175.9" fill="#ff6b45" stroke="#ff6b45" stroke-width="0.6"/><polygon points="498.7,177.3 500.6,176.6 502.5,175.9 504.4,175.1 506.2,174.3 508.1,173.4 510.0,172.6 508.0,171.8 506.0,171.1 504.0,170.3 502.1,169.5 500.1,168.8 498.1,168.0 496.3,168.9 494.4,169.8 492.5,170.6 490.6,171.4 488.8,172.2 486.9,172.9 488.8,173.7 490.8,174.4 492.8,175.1 494.8,175.9 496.7,176.6" class="o"/><polygon points="521.4,170.4 525.1,168.3 521.1,166.8 517.4,168.8" fill="#ff6951" stroke="#ff6951" stroke-width="0.6"/><polygon points="525.4,171.9 529.1,169.9 525.1,168.3 521.4,170.4" fill="#ff6b51" stroke="#ff6b51" stroke-width="0.6"/><polygon points="529.4,173.5 533.1,171.5 529.1,169.9 525.4,171.9" fill="#ff6d51" stroke="#ff6d51" stroke-width="0.6"/><polygon points="517.7,172.3 521.4,170.4 517.4,168.8 513.7,170.8" fill="#ff6b4f" stroke="#ff6b4f" stroke-width="0.6"/><polygon points="521.7,173.8 525.4,171.9 521.4,170.4 517.7,172.3" fill="#ff6c4f" stroke="#ff6c4f" stroke-width="0.6"/><polygon points="525.7,175.4 529.4,173.5 525.4,171.9 521.7,173.8" fill="#ff6e4f" stroke="#ff6e4f" stroke-width="0.6"/><polygon points="513.9,174.1 517.7,172.3 513.7,170.8 510.0,172.6" fill="#ff6c4d" stroke="#ff6c4d" stroke-width="0.6"/><polygon points="517.9,175.6 521.7,173.8 517.7,172.3 513.9,174.1" fill="#ff6d4d" stroke="#ff6d4d" stroke-width="0.6"/><polygon points="522.0,177.1 525.7,175.4 521.7,173.8 517.9,175.6" fill="#ff6f4d" stroke="#ff6f4d" stroke-width="0.6"/><polygon points="522.0,177.1 523.8,176.3 525.7,175.4 527.5,174.4 529.4,173.5 531.2,172.5 533.1,171.5 531.1,170.7 529.1,169.9 527.1,169.1 525.1,168.3 523.1,167.6 521.1,166.8 519.3,167.8 517.4,168.8 515.6,169.8 513.7,170.8 511.8,171.7 510.0,172.6 512.0,173.3 513.9,174.1 515.9,174.9 517.9,175.6 519.9,176.4" class="o"/><polygon points="544.5,168.8 548.1,166.4 544.1,164.8 540.4,167.2" fill="#ff6554" stroke="#ff6554" stroke-width="0.6"/><polygon points="548.5,170.4 552.2,168.1 548.1,166.4 544.5,168.8" fill="#ff6957" stroke="#ff6957" stroke-width="0.6"/><polygon points="552.6,172.0 556.2,169.7 552.2,168.1 548.5,170.4" fill="#ff6b57" stroke="#ff6b57" stroke-width="0.6"/><polygon points="540.8,171.0 544.5,168.8 540.4,167.2 536.8,169.4" fill="#ff6a55" stroke="#ff6a55" stroke-width="0.6"/><polygon points="544.8,172.6 548.5,170.4 544.5,168.8 540.8,171.0" fill="#ff6c55" stroke="#ff6c55" stroke-width="0.6"/><polygon points="548.9,174.1 552.6,172.0 548.5,170.4 544.8,172.6" fill="#ff6e55" stroke="#ff6e55" stroke-width="0.6"/><polygon points="537.1,173.1 540.8,171.0 536.8,169.4 533.1,171.5" fill="#ff6d53" stroke="#ff6d53" stroke-width="0.6"/><polygon points="541.2,174.6 544.8,172.6 540.8,171.0 537.1,173.1" fill="#ff6e53" stroke="#ff6e53" stroke-width="0.6"/><polygon points="545.2,176.2 548.9,174.1 544.8,172.6 541.2,174.6" fill="#ff7053" stroke="#ff7053" stroke-width="0.6"/><polygon points="545.2,176.2 547.1,175.2 548.9,174.1 550.7,173.1 552.6,172.0 554.4,170.8 556.2,169.7 554.2,168.9 552.2,168.1 550.1,167.2 548.1,166.4 546.1,165.6 544.1,164.8 542.3,166.0 540.4,167.2 538.6,168.3 536.8,169.4 534.9,170.5 533.1,171.5 535.1,172.3 537.1,173.1 539.1,173.8 541.2,174.6 543.2,175.4" class="o"/><polygon points="567.6,166.4 571.2,163.8 567.1,162.1 563.5,164.7" fill="#ff4940" stroke="#ff4940" stroke-width="0.6"/><polygon points="571.7,168.1 575.3,165.5 571.2,163.8 567.6,166.4" fill="#ff5247" stroke="#ff5247" stroke-width="0.6"/><polygon points="575.8,169.7 579.4,167.1 575.3,165.5 571.7,168.1" fill="#ff5a4d" stroke="#ff5a4d" stroke-width="0.6"/><polygon points="564.0,168.9 567.6,166.4 563.5,164.7 559.9,167.3" fill="#ff5d4f" stroke="#ff5d4f" stroke-width="0.6"/><polygon points="568.0,170.5 571.7,168.1 567.6,166.4 564.0,168.9" fill="#ff6454" stroke="#ff6454" stroke-width="0.6"/><polygon points="572.2,172.2 575.8,169.7 571.7,168.1 568.0,170.5" fill="#ff6b59" stroke="#ff6b59" stroke-width="0.6"/><polygon points="560.3,171.3 564.0,168.9 559.9,167.3 556.2,169.7" fill="#ff6a58" stroke="#ff6a58" stroke-width="0.6"/><polygon points="564.4,172.9 568.0,170.5 564.0,168.9 560.3,171.3" fill="#ff6c58" stroke="#ff6c58" stroke-width="0.6"/><polygon points="568.5,174.5 572.2,172.2 568.0,170.5 564.4,172.9" fill="#ff6e58" stroke="#ff6e58" stroke-width="0.6"/><polygon points="568.5,174.5 570.3,173.4 572.2,172.2 574.0,171.0 575.8,169.7 577.6,168.4 579.4,167.1 577.4,166.3 575.3,165.5 573.3,164.6 571.2,163.8 569.2,162.9 567.1,162.1 565.3,163.4 563.5,164.7 561.7,166.0 559.9,167.3 558.1,168.5 556.2,169.7 558.3,170.5 560.3,171.3 562.3,172.1 564.4,172.9 566.4,173.7" class="o"/><polygon points="590.8,163.3 594.3,161.9 590.2,160.9 586.6,161.9" fill="#ff2626" stroke="#ff2626" stroke-width="0.6"/><polygon points="594.9,165.0 598.5,162.9 594.3,161.9 590.8,163.3" fill="#ff2626" stroke="#ff2626" stroke-width="0.6"/><polygon points="599.1,166.7 602.6,163.9 598.5,162.9 594.9,165.0" fill="#ff2f2d" stroke="#ff2f2d" stroke-width="0.6"/><polygon points="587.1,166.1 590.8,163.3 586.6,161.9 583.0,164.4" fill="#ff3632" stroke="#ff3632" stroke-width="0.6"/><polygon points="591.3,167.8 594.9,165.0 590.8,163.3 587.1,166.1" fill="#ff403a" stroke="#ff403a" stroke-width="0.6"/><polygon points="595.4,169.5 599.1,166.7 594.9,165.0 591.3,167.8" fill="#ff4a41" stroke="#ff4a41" stroke-width="0.6"/><polygon points="583.5,168.8 587.1,166.1 583.0,164.4 579.4,167.1" fill="#ff4e44" stroke="#ff4e44" stroke-width="0.6"/><polygon points="587.7,170.5 591.3,167.8 587.1,166.1 583.5,168.8" fill="#ff574b" stroke="#ff574b" stroke-width="0.6"/><polygon points="591.8,172.1 595.4,169.5 591.3,167.8 587.7,170.5" fill="#ff5f51" stroke="#ff5f51" stroke-width="0.6"/><polygon points="591.8,172.1 593.6,170.8 595.4,169.5 597.3,168.1 599.1,166.7 600.8,165.3 602.6,163.9 600.6,163.4 598.5,162.9 596.4,162.4 594.3,161.9 592.2,161.4 590.2,160.9 588.4,161.4 586.6,161.9 584.8,163.0 583.0,164.4 581.2,165.8 579.4,167.1 581.5,168.0 583.5,168.8 585.6,169.6 587.7,170.5 589.8,171.3" class="o"/><polygon points="613.9,162.9 617.4,161.9 613.2,160.9 609.7,161.9" fill="#ff2626" stroke="#ff2626" stroke-width="0.6"/><polygon points="618.1,163.9 621.6,162.9 617.4,161.9 613.9,162.9" fill="#ff2626" stroke="#ff2626" stroke-width="0.6"/><polygon points="622.3,164.9 625.8,163.9 621.6,162.9 618.1,163.9" fill="#ff2626" stroke="#ff2626" stroke-width="0.6"/><polygon points="610.4,163.9 613.9,162.9 609.7,161.9 606.2,162.9" fill="#ff2626" stroke="#ff2626" stroke-width="0.6"/><polygon points="614.6,164.9 618.1,163.9 613.9,162.9 610.4,163.9" fill="#ff2626" stroke="#ff2626" stroke-width="0.6"/><polygon points="618.8,166.0 622.3,164.9 618.1,163.9 614.6,164.9" fill="#ff2626" stroke="#ff2626" stroke-width="0.6"/><polygon points="606.8,165.6 610.4,163.9 606.2,162.9 602.6,163.9" fill="#ff2626" stroke="#ff2626" stroke-width="0.6"/><polygon points="611.0,167.3 614.6,164.9 610.4,163.9 606.8,165.6" fill="#ff2727" stroke="#ff2727" stroke-width="0.6"/><polygon points="615.2,169.0 618.8,166.0 614.6,164.9 611.0,167.3" fill="#ff3230" stroke="#ff3230" stroke-width="0.6"/><polygon points="615.2,169.0 617.0,167.5 618.8,166.0 620.6,165.4 622.3,164.9 624.1,164.4 625.8,163.9 623.7,163.4 621.6,162.9 619.5,162.4 617.4,161.9 615.3,161.4 613.2,160.9 611.4,161.4 609.7,161.9 607.9,162.4 606.2,162.9 604.4,163.4 602.6,163.9 604.7,164.7 606.8,165.6 608.9,166.4 611.0,167.3 613.1,168.1" class="o"/><polygon points="638.6,166.9 648.9,163.8 636.2,160.8 625.8,163.9" fill="#ff2626" class="m"/><polygon points="276.5,170.2 289.3,167.1 278.8,164.0 266.1,167.1" fill="#ff2626" class="m"/><polygon points="299.9,170.2 312.6,167.1 302.0,164.0 289.3,167.1" fill="#ff2626" class="m"/><polygon points="323.4,170.2 335.9,167.1 325.1,164.0 312.6,167.1" fill="#ff2626" class="m"/><polygon points="346.8,170.1 359.1,167.0 348.2,164.0 335.9,167.1" fill="#ff2626" class="m"/><polygon points="370.9,166.0 375.0,165.0 371.3,164.0 367.3,165.0" fill="#ff2626" stroke="#ff2626" stroke-width="0.6"/><polygon points="374.6,167.0 378.7,166.1 375.0,165.0 370.9,166.0" fill="#ff2626" stroke="#ff2626" stroke-width="0.6"/><polygon points="378.4,168.1 382.4,167.2 378.7,166.1 374.6,167.0" fill="#ff2626" stroke="#ff2626" stroke-width="0.6"/><polygon points="366.9,167.0 370.9,166.0 367.3,165.0 363.2,166.0" fill="#ff2626" stroke="#ff2626" stroke-width="0.6"/><polygon points="370.6,168.1 374.6,167.0 370.9,166.0 366.9,167.0" fill="#ff2626" stroke="#ff2626" stroke-width="0.6"/><polygon points="374.3,169.1 378.4,168.1 374.6,167.0 370.6,168.1" fill="#ff2626" stroke="#ff2626" stroke-width="0.6"/><polygon points="362.8,168.1 366.9,167.0 363.2,166.0 359.1,167.0" fill="#ff2626" stroke="#ff2626" stroke-width="0.6"/><polygon points="366.5,169.1 370.6,168.1 366.9,167.0 362.8,168.1" fill="#ff2626" stroke="#ff2626" stroke-width="0.6"/><polygon points="370.2,170.1 374.3,169.1 370.6,168.1 366.5,169.1" fill="#ff2626" stroke="#ff2626" stroke-width="0.6"/><polygon points="370.2,170.1 372.3,169.6 374.3,169.1 376.3,168.6 378.4,168.1 380.4,167.5 382.4,167.2 380.5,166.6 378.7,166.1 376.8,165.5 375.0,165.0 373.1,164.5 371.3,164.0 369.3,164.5 367.3,165.0 365.2,165.5 363.2,166.0 361.2,166.5 359.1,167.0 361.0,167.6 362.8,168.1 364.7,168.6 366.5,169.1 368.4,169.6" class="o"/><polygon points="394.2,168.4 398.2,168.3 394.5,167.0 390.5,167.2" fill="#cf2b22" stroke="#cf2b22" stroke-width="0.6"/><polygon points="398.0,169.6 402.0,169.5 398.2,168.3 394.2,168.4" fill="#cc2c22" stroke="#cc2c22" stroke-width="0.6"/><polygon points="401.7,170.8 405.7,170.7 402.0,169.5 398.0,169.6" fill="#c92c21" stroke="#c92c21" stroke-width="0.6"/><polygon points="390.2,168.5 394.2,168.4 390.5,167.2 386.4,167.3" fill="#c3251f" stroke="#c3251f" stroke-width="0.6"/><polygon points="393.9,169.6 398.0,169.6 394.2,168.4 390.2,168.5" fill="#c0251f" stroke="#c0251f" stroke-width="0.6"/><polygon points="397.7,170.8 401.7,170.8 398.0,169.6 393.9,169.6" fill="#bd251e" stroke="#bd251e" stroke-width="0.6"/><polygon points="386.1,168.4 390.2,168.5 386.4,167.3 382.4,167.2" fill="#b71f1c" stroke="#b71f1c" stroke-width="0.6"/><polygon points="389.9,169.5 393.9,169.6 390.2,168.5 386.1,168.4" fill="#b41f1c" stroke="#b41f1c" stroke-width="0.6"/><polygon points="393.7,170.7 397.7,170.8 393.9,169.6 389.9,169.5" fill="#b11f1c" stroke="#b11f1c" stroke-width="0.6"/><polygon points="393.7,170.7 395.7,170.8 397.7,170.8 399.7,170.8 401.7,170.8 403.7,170.8 405.7,170.7 403.8,170.1 402.0,169.5 400.1,168.9 398.2,168.3 396.3,167.6 394.5,167.0 392.5,167.1 390.5,167.2 388.5,167.3 386.4,167.3 384.4,167.3 382.4,167.2 384.3,167.8 386.1,168.4 388.0,169.0 389.9,169.5 391.8,170.1" class="o"/><polygon points="417.4,171.4 421.4,170.9 417.6,169.6 413.7,170.1" fill="#ea3f2a" stroke="#ea3f2a" stroke-width="0.6"/><polygon points="421.2,172.6 425.2,172.2 421.4,170.9 417.4,171.4" fill="#e73f29" stroke="#e73f29" stroke-width="0.6"/><polygon points="425.1,173.9 429.0,173.5 425.2,172.2 421.2,172.6" fill="#e44029" stroke="#e44029" stroke-width="0.6"/><polygon points="413.5,171.7 417.4,171.4 413.7,170.1 409.7,170.5" fill="#de3927" stroke="#de3927" stroke-width="0.6"/><polygon points="417.3,173.0 421.2,172.6 417.4,171.4 413.5,171.7" fill="#db3927" stroke="#db3927" stroke-width="0.6"/><polygon points="421.1,174.2 425.1,173.9 421.2,172.6 417.3,173.0" fill="#d83926" stroke="#d83926" stroke-width="0.6"/><polygon points="409.5,171.9 413.5,171.7 409.7,170.5 405.7,170.7" fill="#d23324" stroke="#d23324" stroke-width="0.6"/><polygon points="413.3,173.1 417.3,173.0 413.5,171.7 409.5,171.9" fill="#cf3324" stroke="#cf3324" stroke-width="0.6"/><polygon points="417.1,174.3 421.1,174.2 417.3,173.0 413.3,173.1" fill="#cc3323" stroke="#cc3323" stroke-width="0.6"/><polygon points="417.1,174.3 419.1,174.3 421.1,174.2 423.1,174.1 425.1,173.9 427.0,173.7 429.0,173.5 427.1,172.8 425.2,172.2 423.3,171.5 421.4,170.9 419.5,170.3 417.6,169.6 415.6,169.9 413.7,170.1 411.7,170.3 409.7,170.5 407.7,170.6 405.7,170.7 407.6,171.3 409.5,171.9 411.4,172.5 413.3,173.1 415.2,173.7" class="o"/><polygon points="440.6,173.6 444.5,172.8 440.7,171.4 436.8,172.2" fill="#ff5132" stroke="#ff5132" stroke-width="0.6"/><polygon points="444.5,174.9 448.4,174.1 444.5,172.8 440.6,173.6" fill="#ff5231" stroke="#ff5231" stroke-width="0.6"/><polygon points="448.4,176.2 452.2,175.5 448.4,174.1 444.5,174.9" fill="#fe5331" stroke="#fe5331" stroke-width="0.6"/><polygon points="436.7,174.2 440.6,173.6 436.8,172.2 432.9,172.9" fill="#f84c2e" stroke="#f84c2e" stroke-width="0.6"/><polygon points="440.6,175.5 444.5,174.9 440.6,173.6 436.7,174.2" fill="#f54c2e" stroke="#f54c2e" stroke-width="0.6"/><polygon points="444.5,176.8 448.4,176.2 444.5,174.9 440.6,175.5" fill="#f24d2e" stroke="#f24d2e" stroke-width="0.6"/><polygon points="432.8,174.7 436.7,174.2 432.9,172.9 429.0,173.5" fill="#ec462c" stroke="#ec462c" stroke-width="0.6"/><polygon points="436.7,176.0 440.6,175.5 436.7,174.2 432.8,174.7" fill="#e9462b" stroke="#e9462b" stroke-width="0.6"/><polygon points="440.5,177.3 444.5,176.8 440.6,175.5 436.7,176.0" fill="#e6472b" stroke="#e6472b" stroke-width="0.6"/><polygon points="440.5,177.3 442.5,177.1 444.5,176.8 446.4,176.5 448.4,176.2 450.3,175.9 452.2,175.5 450.3,174.8 448.4,174.1 446.5,173.5 444.5,172.8 442.6,172.1 440.7,171.4 438.8,171.9 436.8,172.2 434.9,172.6 432.9,172.9 431.0,173.2 429.0,173.5 430.9,174.1 432.8,174.7 434.7,175.4 436.7,176.0 438.6,176.6" class="o"/><polygon points="463.8,175.0 467.7,174.0 463.8,172.6 460.0,173.7" fill="#ff5e3b" stroke="#ff5e3b" stroke-width="0.6"/><polygon points="467.7,176.4 471.6,175.4 467.7,174.0 463.8,175.0" fill="#ff5f3a" stroke="#ff5f3a" stroke-width="0.6"/><polygon points="471.7,177.8 475.5,176.8 471.6,175.4 467.7,176.4" fill="#ff603a" stroke="#ff603a" stroke-width="0.6"/><polygon points="460.0,176.0 463.8,175.0 460.0,173.7 456.1,174.6" fill="#ff5b37" stroke="#ff5b37" stroke-width="0.6"/><polygon points="463.9,177.3 467.7,176.4 463.8,175.0 460.0,176.0" fill="#ff5c37" stroke="#ff5c37" stroke-width="0.6"/><polygon points="467.8,178.7 471.7,177.8 467.7,176.4 463.9,177.3" fill="#ff5d37" stroke="#ff5d37" stroke-width="0.6"/><polygon points="456.1,176.8 460.0,176.0 456.1,174.6 452.2,175.5" fill="#ff5834" stroke="#ff5834" stroke-width="0.6"/><polygon points="460.0,178.1 463.9,177.3 460.0,176.0 456.1,176.8" fill="#ff5933" stroke="#ff5933" stroke-width="0.6"/><polygon points="463.9,179.5 467.8,178.7 463.9,177.3 460.0,178.1" fill="#ff5933" stroke="#ff5933" stroke-width="0.6"/><polygon points="463.9,179.5 465.9,179.1 467.8,178.7 469.7,178.3 471.7,177.8 473.6,177.3 475.5,176.8 473.5,176.1 471.6,175.4 469.6,174.7 467.7,174.0 465.7,173.3 463.8,172.6 461.9,173.1 460.0,173.7 458.0,174.2 456.1,174.6 454.2,175.1 452.2,175.5 454.2,176.2 456.1,176.8 458.1,177.5 460.0,178.1 462.0,178.8" class="o"/><polygon points="487.0,175.8 490.8,174.4 486.9,172.9 483.1,174.3" fill="#ff6743" stroke="#ff6743" stroke-width="0.6"/><polygon points="491.0,177.2 494.8,175.9 490.8,174.4 487.0,175.8" fill="#ff6843" stroke="#ff6843" stroke-width="0.6"/><polygon points="494.9,178.6 498.7,177.3 494.8,175.9 491.0,177.2" fill="#ff6a42" stroke="#ff6a42" stroke-width="0.6"/><polygon points="483.2,177.0 487.0,175.8 483.1,174.3 479.3,175.6" fill="#ff6640" stroke="#ff6640" stroke-width="0.6"/><polygon points="487.2,178.4 491.0,177.2 487.0,175.8 483.2,177.0" fill="#ff6740" stroke="#ff6740" stroke-width="0.6"/><polygon points="491.1,179.8 494.9,178.6 491.0,177.2 487.2,178.4" fill="#ff683f" stroke="#ff683f" stroke-width="0.6"/><polygon points="479.4,178.2 483.2,177.0 479.3,175.6 475.5,176.8" fill="#ff643d" stroke="#ff643d" stroke-width="0.6"/><polygon points="483.4,179.5 487.2,178.4 483.2,177.0 479.4,178.2" fill="#ff653d" stroke="#ff653d" stroke-width="0.6"/><polygon points="487.3,180.9 491.1,179.8 487.2,178.4 483.4,179.5" fill="#ff663c" stroke="#ff663c" stroke-width="0.6"/><polygon points="487.3,180.9 489.2,180.4 491.1,179.8 493.0,179.3 494.9,178.6 496.8,178.0 498.7,177.3 496.7,176.6 494.8,175.9 492.8,175.1 490.8,174.4 488.8,173.7 486.9,172.9 485.0,173.6 483.1,174.3 481.2,175.0 479.3,175.6 477.4,176.2 475.5,176.8 477.4,177.5 479.4,178.2 481.4,178.8 483.4,179.5 485.3,180.2" class="o"/><polygon points="510.2,175.8 513.9,174.1 510.0,172.6 506.2,174.3" fill="#ff6c4b" stroke="#ff6c4b" stroke-width="0.6"/><polygon points="514.2,177.3 517.9,175.6 513.9,174.1 510.2,175.8" fill="#ff6e4a" stroke="#ff6e4a" stroke-width="0.6"/><polygon points="518.2,178.7 522.0,177.1 517.9,175.6 514.2,177.3" fill="#ff6f4a" stroke="#ff6f4a" stroke-width="0.6"/><polygon points="506.5,177.3 510.2,175.8 506.2,174.3 502.5,175.9" fill="#ff6c48" stroke="#ff6c48" stroke-width="0.6"/><polygon points="510.5,178.8 514.2,177.3 510.2,175.8 506.5,177.3" fill="#ff6e48" stroke="#ff6e48" stroke-width="0.6"/><polygon points="514.5,180.2 518.2,178.7 514.2,177.3 510.5,178.8" fill="#ff6f47" stroke="#ff6f47" stroke-width="0.6"/><polygon points="502.7,178.8 506.5,177.3 502.5,175.9 498.7,177.3" fill="#ff6c45" stroke="#ff6c45" stroke-width="0.6"/><polygon points="506.7,180.2 510.5,178.8 506.5,177.3 502.7,178.8" fill="#ff6d45" stroke="#ff6d45" stroke-width="0.6"/><polygon points="510.7,181.6 514.5,180.2 510.5,178.8 506.7,180.2" fill="#ff6e44" stroke="#ff6e44" stroke-width="0.6"/><polygon points="510.7,181.6 512.6,181.0 514.5,180.2 516.3,179.5 518.2,178.7 520.1,177.9 522.0,177.1 519.9,176.4 517.9,175.6 515.9,174.9 513.9,174.1 512.0,173.3 510.0,172.6 508.1,173.4 506.2,174.3 504.4,175.1 502.5,175.9 500.6,176.6 498.7,177.3 500.7,178.0 502.7,178.8 504.7,179.5 506.7,180.2 508.7,180.9" class="o"/><polygon points="533.4,175.0 537.1,173.1 533.1,171.5 529.4,173.5" fill="#ff6e51" stroke="#ff6e51" stroke-width="0.6"/><polygon points="537.5,176.6 541.2,174.6 537.1,173.1 533.4,175.0" fill="#ff7051" stroke="#ff7051" stroke-width="0.6"/><polygon points="541.5,178.1 545.2,176.2 541.2,174.6 537.5,176.6" fill="#ff7251" stroke="#ff7251" stroke-width="0.6"/><polygon points="529.7,176.9 533.4,175.0 529.4,173.5 525.7,175.4" fill="#ff704f" stroke="#ff704f" stroke-width="0.6"/><polygon points="533.8,178.4 537.5,176.6 533.4,175.0 529.7,176.9" fill="#ff714e" stroke="#ff714e" stroke-width="0.6"/><polygon points="537.8,179.9 541.5,178.1 537.5,176.6 533.8,178.4" fill="#ff734e" stroke="#ff734e" stroke-width="0.6"/><polygon points="526.0,178.6 529.7,176.9 525.7,175.4 522.0,177.1" fill="#ff704c" stroke="#ff704c" stroke-width="0.6"/><polygon points="530.0,180.1 533.8,178.4 529.7,176.9 526.0,178.6" fill="#ff724c" stroke="#ff724c" stroke-width="0.6"/><polygon points="534.1,181.6 537.8,179.9 533.8,178.4 530.0,180.1" fill="#ff734c" stroke="#ff734c" stroke-width="0.6"/><polygon points="534.1,181.6 536.0,180.8 537.8,179.9 539.7,179.0 541.5,178.1 543.4,177.2 545.2,176.2 543.2,175.4 541.2,174.6 539.1,173.8 537.1,173.1 535.1,172.3 533.1,171.5 531.2,172.5 529.4,173.5 527.5,174.4 525.7,175.4 523.8,176.3 522.0,177.1 524.0,177.9 526.0,178.6 528.0,179.4 530.0,180.1 532.1,180.9" class="o"/><polygon points="556.6,173.6 560.3,171.3 556.2,169.7 552.6,172.0" fill="#ff6d56" stroke="#ff6d56" stroke-width="0.6"/><polygon points="560.7,175.2 564.4,172.9 560.3,171.3 556.6,173.6" fill="#ff6f56" stroke="#ff6f56" stroke-width="0.6"/><polygon points="564.8,176.7 568.5,174.5 564.4,172.9 560.7,175.2" fill="#ff7156" stroke="#ff7156" stroke-width="0.6"/><polygon points="553.0,175.7 556.6,173.6 552.6,172.0 548.9,174.1" fill="#ff7055" stroke="#ff7055" stroke-width="0.6"/><polygon points="557.1,177.3 560.7,175.2 556.6,173.6 553.0,175.7" fill="#ff7254" stroke="#ff7254" stroke-width="0.6"/><polygon points="561.2,178.8 564.8,176.7 560.7,175.2 557.1,177.3" fill="#ff7354" stroke="#ff7354" stroke-width="0.6"/><polygon points="549.3,177.7 553.0,175.7 548.9,174.1 545.2,176.2" fill="#ff7252" stroke="#ff7252" stroke-width="0.6"/><polygon points="553.4,179.3 557.1,177.3 553.0,175.7 549.3,177.7" fill="#ff7352" stroke="#ff7352" stroke-width="0.6"/><polygon points="557.5,180.8 561.2,178.8 557.1,177.3 553.4,179.3" fill="#ff7552" stroke="#ff7552" stroke-width="0.6"/><polygon points="557.5,180.8 559.3,179.9 561.2,178.8 563.0,177.8 564.8,176.7 566.7,175.6 568.5,174.5 566.4,173.7 564.4,172.9 562.3,172.1 560.3,171.3 558.3,170.5 556.2,169.7 554.4,170.8 552.6,172.0 550.7,173.1 548.9,174.1 547.1,175.2 545.2,176.2 547.3,177.0 549.3,177.7 551.3,178.5 553.4,179.3 555.4,180.1" class="o"/><polygon points="579.9,171.4 583.5,168.8 579.4,167.1 575.8,169.7" fill="#ff6253" stroke="#ff6253" stroke-width="0.6"/><polygon points="584.1,173.0 587.7,170.5 583.5,168.8 579.9,171.4" fill="#ff6959" stroke="#ff6959" stroke-width="0.6"/><polygon points="588.2,174.6 591.8,172.1 587.7,170.5 584.1,173.0" fill="#ff6d5b" stroke="#ff6d5b" stroke-width="0.6"/><polygon points="576.3,173.8 579.9,171.4 575.8,169.7 572.2,172.2" fill="#ff6d59" stroke="#ff6d59" stroke-width="0.6"/><polygon points="580.4,175.4 584.1,173.0 579.9,171.4 576.3,173.8" fill="#ff6f59" stroke="#ff6f59" stroke-width="0.6"/><polygon points="584.6,177.0 588.2,174.6 584.1,173.0 580.4,175.4" fill="#ff7159" stroke="#ff7159" stroke-width="0.6"/><polygon points="572.6,176.1 576.3,173.8 572.2,172.2 568.5,174.5" fill="#ff7058" stroke="#ff7058" stroke-width="0.6"/><polygon points="576.8,177.7 580.4,175.4 576.3,173.8 572.6,176.1" fill="#ff7258" stroke="#ff7258" stroke-width="0.6"/><polygon points="580.9,179.3 584.6,177.0 580.4,175.4 576.8,177.7" fill="#ff7457" stroke="#ff7457" stroke-width="0.6"/><polygon points="580.9,179.3 582.8,178.2 584.6,177.0 586.4,175.9 588.2,174.6 590.0,173.4 591.8,172.1 589.8,171.3 587.7,170.5 585.6,169.6 583.5,168.8 581.5,168.0 579.4,167.1 577.6,168.4 575.8,169.7 574.0,171.0 572.2,172.2 570.3,173.4 568.5,174.5 570.6,175.3 572.6,176.1 574.7,176.9 576.8,177.7 578.9,178.5" class="o"/><polygon points="603.2,168.4 606.8,165.6 602.6,163.9 599.1,166.7" fill="#ff3a35" stroke="#ff3a35" stroke-width="0.6"/><polygon points="607.4,170.1 611.0,167.3 606.8,165.6 603.2,168.4" fill="#ff443d" stroke="#ff443d" stroke-width="0.6"/><polygon points="611.6,171.8 615.2,169.0 611.0,167.3 607.4,170.1" fill="#ff4e44" stroke="#ff4e44" stroke-width="0.6"/><polygon points="599.6,171.2 603.2,168.4 599.1,166.7 595.4,169.5" fill="#ff5348" stroke="#ff5348" stroke-width="0.6"/><polygon points="603.8,172.8 607.4,170.1 603.2,168.4 599.6,171.2" fill="#ff5c4f" stroke="#ff5c4f" stroke-width="0.6"/><polygon points="608.0,174.5 611.6,171.8 607.4,170.1 603.8,172.8" fill="#ff6455" stroke="#ff6455" stroke-width="0.6"/><polygon points="596.0,173.8 599.6,171.2 595.4,169.5 591.8,172.1" fill="#ff6757" stroke="#ff6757" stroke-width="0.6"/><polygon points="600.2,175.4 603.8,172.8 599.6,171.2 596.0,173.8" fill="#ff6d5c" stroke="#ff6d5c" stroke-width="0.6"/><polygon points="604.4,177.1 608.0,174.5 603.8,172.8 600.2,175.4" fill="#ff6f5c" stroke="#ff6f5c" stroke-width="0.6"/><polygon points="604.4,177.1 606.2,175.8 608.0,174.5 609.8,173.2 611.6,171.8 613.4,170.4 615.2,169.0 613.1,168.1 611.0,167.3 608.9,166.4 606.8,165.6 604.7,164.7 602.6,163.9 600.8,165.3 599.1,166.7 597.3,168.1 595.4,169.5 593.6,170.8 591.8,172.1 593.9,172.9 596.0,173.8 598.1,174.6 600.2,175.4 602.3,176.2" class="o"/><polygon points="626.6,165.9 630.0,164.9 625.8,163.9 622.3,164.9" fill="#ff2626" stroke="#ff2626" stroke-width="0.6"/><polygon points="630.8,166.9 634.3,165.9 630.0,164.9 626.6,165.9" fill="#ff2626" stroke="#ff2626" stroke-width="0.6"/><polygon points="635.1,168.2 638.6,166.9 634.3,165.9 630.8,166.9" fill="#ff2626" stroke="#ff2626" stroke-width="0.6"/><polygon points="623.0,167.8 626.6,165.9 622.3,164.9 618.8,166.0" fill="#ff2626" stroke="#ff2626" stroke-width="0.6"/><polygon points="627.3,169.5 630.8,166.9 626.6,165.9 623.0,167.8" fill="#ff2a29" stroke="#ff2a29" stroke-width="0.6"/><polygon points="631.5,171.2 635.1,168.2 630.8,166.9 627.3,169.5" fill="#ff3531" stroke="#ff3531" stroke-width="0.6"/><polygon points="619.4,170.7 623.0,167.8 618.8,166.0 615.2,169.0" fill="#ff3d38" stroke="#ff3d38" stroke-width="0.6"/><polygon points="623.7,172.4 627.3,169.5 623.0,167.8 619.4,170.7" fill="#ff473f" stroke="#ff473f" stroke-width="0.6"/><polygon points="628.0,174.1 631.5,171.2 627.3,169.5 623.7,172.4" fill="#ff5147" stroke="#ff5147" stroke-width="0.6"/><polygon points="628.0,174.1 629.7,172.7 631.5,171.2 633.3,169.7 635.1,168.2 636.9,167.4 638.6,166.9 636.4,166.4 634.3,165.9 632.2,165.4 630.0,164.9 627.9,164.4 625.8,163.9 624.1,164.4 622.3,164.9 620.6,165.4 618.8,166.0 617.0,167.5 615.2,169.0 617.3,169.8 619.4,170.7 621.6,171.5 623.7,172.4 625.8,173.2" class="o"/><polygon points="287.1,173.3 299.9,170.2 289.3,167.1 276.5,170.2" fill="#ff2626" class="m"/><polygon points="310.7,173.3 323.4,170.2 312.6,167.1 299.9,170.2" fill="#ff2626" class="m"/><polygon points="334.3,173.3 346.8,170.1 335.9,167.1 323.4,170.2" fill="#ff2626" class="m"/><polygon points="357.9,173.3 370.2,170.1 359.1,167.0 346.8,170.1" fill="#ff2626" class="m"/><polygon points="382.1,169.1 386.1,168.4 382.4,167.2 378.4,168.1" fill="#ff2626" stroke="#ff2626" stroke-width="0.6"/><polygon points="385.8,170.1 389.9,169.5 386.1,168.4 382.1,169.1" fill="#ff2626" stroke="#ff2626" stroke-width="0.6"/><polygon points="389.6,171.2 393.7,170.7 389.9,169.5 385.8,170.1" fill="#ff2626" stroke="#ff2626" stroke-width="0.6"/><polygon points="378.0,170.1 382.1,169.1 378.4,168.1 374.3,169.1" fill="#ff2626" stroke="#ff2626" stroke-width="0.6"/><polygon points="381.8,171.2 385.8,170.1 382.1,169.1 378.0,170.1" fill="#ff2626" stroke="#ff2626" stroke-width="0.6"/><polygon points="385.5,172.2 389.6,171.2 385.8,170.1 381.8,171.2" fill="#ff2626" stroke="#ff2626" stroke-width="0.6"/><polygon points="374.0,171.2 378.0,170.1 374.3,169.1 370.2,170.1" fill="#ff2626" stroke="#ff2626" stroke-width="0.6"/><polygon points="377.7,172.2 381.8,171.2 378.0,170.1 374.0,171.2" fill="#ff2626" stroke="#ff2626" stroke-width="0.6"/><polygon points="381.5,173.3 385.5,172.2 381.8,171.2 377.7,172.2" fill="#ff2626" stroke="#ff2626" stroke-width="0.6"/><polygon points="381.5,173.3 383.5,172.7 385.5,172.2 387.6,171.7 389.6,171.2 391.6,170.6 393.7,170.7 391.8,170.1 389.9,169.5 388.0,169.0 386.1,168.4 384.3,167.8 382.4,167.2 380.4,167.5 378.4,168.1 376.3,168.6 374.3,169.1 372.3,169.6 370.2,170.1 372.1,170.6 374.0,171.2 375.8,171.7 377.7,172.2 379.6,172.7" class="o"/><polygon points="405.5,172.0 409.5,171.9 405.7,170.7 401.7,170.8" fill="#c62c21" stroke="#c62c21" stroke-width="0.6"/><polygon points="409.3,173.2 413.3,173.1 409.5,171.9 405.5,172.0" fill="#c32c21" stroke="#c32c21" stroke-width="0.6"/><polygon points="413.1,174.4 417.1,174.3 413.3,173.1 409.3,173.2" fill="#c02c20" stroke="#c02c20" stroke-width="0.6"/><polygon points="401.5,172.0 405.5,172.0 401.7,170.8 397.7,170.8" fill="#ba251e" stroke="#ba251e" stroke-width="0.6"/><polygon points="405.3,173.1 409.3,173.2 405.5,172.0 401.5,172.0" fill="#b7251e" stroke="#b7251e" stroke-width="0.6"/><polygon points="409.1,174.3 413.1,174.4 409.3,173.2 405.3,173.1" fill="#b4251d" stroke="#b4251d" stroke-width="0.6"/><polygon points="397.4,171.8 401.5,172.0 397.7,170.8 393.7,170.7" fill="#ae1f1b" stroke="#ae1f1b" stroke-width="0.6"/><polygon points="401.2,172.9 405.3,173.1 401.5,172.0 397.4,171.8" fill="#ab1e1b" stroke="#ab1e1b" stroke-width="0.6"/><polygon points="405.1,174.1 409.1,174.3 405.3,173.1 401.2,172.9" fill="#a81e1a" stroke="#a81e1a" stroke-width="0.6"/><polygon points="405.1,174.1 407.1,174.2 409.1,174.3 411.1,174.4 413.1,174.4 415.1,174.4 417.1,174.3 415.2,173.7 413.3,173.1 411.4,172.5 409.5,171.9 407.6,171.3 405.7,170.7 403.7,170.8 401.7,170.8 399.7,170.8 397.7,170.8 395.7,170.8 393.7,170.7 395.5,171.2 397.4,171.8 399.3,172.4 401.2,172.9 403.2,173.5" class="o"/><polygon points="428.9,175.1 432.8,174.7 429.0,173.5 425.1,173.9" fill="#e04029" stroke="#e04029" stroke-width="0.6"/><polygon points="432.7,176.4 436.7,176.0 432.8,174.7 428.9,175.1" fill="#dd4029" stroke="#dd4029" stroke-width="0.6"/><polygon points="436.6,177.6 440.5,177.3 436.7,176.0 432.7,176.4" fill="#da4028" stroke="#da4028" stroke-width="0.6"/><polygon points="424.9,175.4 428.9,175.1 425.1,173.9 421.1,174.2" fill="#d53926" stroke="#d53926" stroke-width="0.6"/><polygon points="428.8,176.6 432.7,176.4 428.9,175.1 424.9,175.4" fill="#d13926" stroke="#d13926" stroke-width="0.6"/><polygon points="432.6,177.8 436.6,177.6 432.7,176.4 428.8,176.6" fill="#ce3925" stroke="#ce3925" stroke-width="0.6"/><polygon points="421.0,175.5 424.9,175.4 421.1,174.2 417.1,174.3" fill="#c93323" stroke="#c93323" stroke-width="0.6"/><polygon points="424.8,176.7 428.8,176.6 424.9,175.4 421.0,175.5" fill="#c63323" stroke="#c63323" stroke-width="0.6"/><polygon points="428.7,177.9 432.6,177.8 428.8,176.6 424.8,176.7" fill="#c23222" stroke="#c23222" stroke-width="0.6"/><polygon points="428.7,177.9 430.7,177.9 432.6,177.8 434.6,177.7 436.6,177.6 438.6,177.5 440.5,177.3 438.6,176.6 436.7,176.0 434.7,175.4 432.8,174.7 430.9,174.1 429.0,173.5 427.0,173.7 425.1,173.9 423.1,174.1 421.1,174.2 419.1,174.3 417.1,174.3 419.0,174.9 421.0,175.5 422.9,176.1 424.8,176.7 426.7,177.3" class="o"/><polygon points="452.2,177.5 456.1,176.8 452.2,175.5 448.4,176.2" fill="#fb5330" stroke="#fb5330" stroke-width="0.6"/><polygon points="456.1,178.8 460.0,178.1 456.1,176.8 452.2,177.5" fill="#f85330" stroke="#f85330" stroke-width="0.6"/><polygon points="460.1,180.1 463.9,179.5 460.0,178.1 456.1,178.8" fill="#f55430" stroke="#f55430" stroke-width="0.6"/><polygon points="448.3,178.1 452.2,177.5 448.4,176.2 444.5,176.8" fill="#ef4d2e" stroke="#ef4d2e" stroke-width="0.6"/><polygon points="452.2,179.4 456.1,178.8 452.2,177.5 448.3,178.1" fill="#ec4d2d" stroke="#ec4d2d" stroke-width="0.6"/><polygon points="456.2,180.6 460.1,180.1 456.1,178.8 452.2,179.4" fill="#e94d2d" stroke="#e94d2d" stroke-width="0.6"/><polygon points="444.4,178.5 448.3,178.1 444.5,176.8 440.5,177.3" fill="#e3472b" stroke="#e3472b" stroke-width="0.6"/><polygon points="448.3,179.8 452.2,179.4 448.3,178.1 444.4,178.5" fill="#e0472a" stroke="#e0472a" stroke-width="0.6"/><polygon points="452.2,181.0 456.2,180.6 452.2,179.4 448.3,179.8" fill="#dd472a" stroke="#dd472a" stroke-width="0.6"/><polygon points="452.2,181.0 454.2,180.9 456.2,180.6 458.1,180.4 460.1,180.1 462.0,179.8 463.9,179.5 462.0,178.8 460.0,178.1 458.1,177.5 456.1,176.8 454.2,176.2 452.2,175.5 450.3,175.9 448.4,176.2 446.4,176.5 444.5,176.8 442.5,177.1 440.5,177.3 442.5,177.9 444.4,178.5 446.4,179.2 448.3,179.8 450.3,180.4" class="o"/><polygon points="475.6,179.2 479.4,178.2 475.5,176.8 471.7,177.8" fill="#ff613a" stroke="#ff613a" stroke-width="0.6"/><polygon points="479.5,180.5 483.4,179.5 479.4,178.2 475.6,179.2" fill="#ff6239" stroke="#ff6239" stroke-width="0.6"/><polygon points="483.5,181.9 487.3,180.9 483.4,179.5 479.5,180.5" fill="#ff6339" stroke="#ff6339" stroke-width="0.6"/><polygon points="471.7,180.0 475.6,179.2 471.7,177.8 467.8,178.7" fill="#ff5e36" stroke="#ff5e36" stroke-width="0.6"/><polygon points="475.7,181.4 479.5,180.5 475.6,179.2 471.7,180.0" fill="#ff5f36" stroke="#ff5f36" stroke-width="0.6"/><polygon points="479.7,182.7 483.5,181.9 479.5,180.5 475.7,181.4" fill="#ff6035" stroke="#ff6035" stroke-width="0.6"/><polygon points="467.9,180.8 471.7,180.0 467.8,178.7 463.9,179.5" fill="#fe5a32" stroke="#fe5a32" stroke-width="0.6"/><polygon points="471.8,182.1 475.7,181.4 471.7,180.0 467.9,180.8" fill="#fb5a32" stroke="#fb5a32" stroke-width="0.6"/><polygon points="475.8,183.4 479.7,182.7 475.7,181.4 471.8,182.1" fill="#f75a32" stroke="#f75a32" stroke-width="0.6"/><polygon points="475.8,183.4 477.7,183.1 479.7,182.7 481.6,182.3 483.5,181.9 485.4,181.4 487.3,180.9 485.3,180.2 483.4,179.5 481.4,178.8 479.4,178.2 477.4,177.5 475.5,176.8 473.6,177.3 471.7,177.8 469.7,178.3 467.8,178.7 465.9,179.1 463.9,179.5 465.9,180.1 467.9,180.8 469.8,181.4 471.8,182.1 473.8,182.7" class="o"/><polygon points="498.9,180.1 502.7,178.8 498.7,177.3 494.9,178.6" fill="#ff6b42" stroke="#ff6b42" stroke-width="0.6"/><polygon points="502.9,181.5 506.7,180.2 502.7,178.8 498.9,180.1" fill="#ff6c42" stroke="#ff6c42" stroke-width="0.6"/><polygon points="506.9,182.9 510.7,181.6 506.7,180.2 502.9,181.5" fill="#ff6d41" stroke="#ff6d41" stroke-width="0.6"/><polygon points="495.1,181.2 498.9,180.1 494.9,178.6 491.1,179.8" fill="#ff693f" stroke="#ff693f" stroke-width="0.6"/><polygon points="499.1,182.6 502.9,181.5 498.9,180.1 495.1,181.2" fill="#ff6a3f" stroke="#ff6a3f" stroke-width="0.6"/><polygon points="503.1,184.0 506.9,182.9 502.9,181.5 499.1,182.6" fill="#ff6b3e" stroke="#ff6b3e" stroke-width="0.6"/><polygon points="491.3,182.3 495.1,181.2 491.1,179.8 487.3,180.9" fill="#ff673c" stroke="#ff673c" stroke-width="0.6"/><polygon points="495.3,183.7 499.1,182.6 495.1,181.2 491.3,182.3" fill="#ff683b" stroke="#ff683b" stroke-width="0.6"/><polygon points="499.3,185.0 503.1,184.0 499.1,182.6 495.3,183.7" fill="#ff693b" stroke="#ff693b" stroke-width="0.6"/><polygon points="499.3,185.0 501.2,184.5 503.1,184.0 505.0,183.5 506.9,182.9 508.8,182.3 510.7,181.6 508.7,180.9 506.7,180.2 504.7,179.5 502.7,178.8 500.7,178.0 498.7,177.3 496.8,178.0 494.9,178.6 493.0,179.3 491.1,179.8 489.2,180.4 487.3,180.9 489.3,181.6 491.3,182.3 493.3,183.0 495.3,183.7 497.3,184.3" class="o"/><polygon points="522.2,180.2 526.0,178.6 522.0,177.1 518.2,178.7" fill="#ff714a" stroke="#ff714a" stroke-width="0.6"/><polygon points="526.3,181.7 530.0,180.1 526.0,178.6 522.2,180.2" fill="#ff7249" stroke="#ff7249" stroke-width="0.6"/><polygon points="530.4,183.2 534.1,181.6 530.0,180.1 526.3,181.7" fill="#ff7349" stroke="#ff7349" stroke-width="0.6"/><polygon points="518.5,181.7 522.2,180.2 518.2,178.7 514.5,180.2" fill="#ff7047" stroke="#ff7047" stroke-width="0.6"/><polygon points="522.5,183.1 526.3,181.7 522.2,180.2 518.5,181.7" fill="#ff7247" stroke="#ff7247" stroke-width="0.6"/><polygon points="526.6,184.6 530.4,183.2 526.3,181.7 522.5,183.1" fill="#ff7346" stroke="#ff7346" stroke-width="0.6"/><polygon points="514.7,183.1 518.5,181.7 514.5,180.2 510.7,181.6" fill="#ff7044" stroke="#ff7044" stroke-width="0.6"/><polygon points="518.8,184.5 522.5,183.1 518.5,181.7 514.7,183.1" fill="#ff7144" stroke="#ff7144" stroke-width="0.6"/><polygon points="522.9,185.9 526.6,184.6 522.5,183.1 518.8,184.5" fill="#ff7243" stroke="#ff7243" stroke-width="0.6"/><polygon points="522.9,185.9 524.7,185.3 526.6,184.6 528.5,183.9 530.4,183.2 532.2,182.4 534.1,181.6 532.1,180.9 530.0,180.1 528.0,179.4 526.0,178.6 524.0,177.9 522.0,177.1 520.1,177.9 518.2,178.7 516.3,179.5 514.5,180.2 512.6,181.0 510.7,181.6 512.7,182.3 514.7,183.1 516.8,183.8 518.8,184.5 520.8,185.2" class="o"/><polygon points="545.6,179.6 549.3,177.7 545.2,176.2 541.5,178.1" fill="#ff7350" stroke="#ff7350" stroke-width="0.6"/><polygon points="549.7,181.2 553.4,179.3 549.3,177.7 545.6,179.6" fill="#ff7550" stroke="#ff7550" stroke-width="0.6"/><polygon points="553.8,182.7 557.5,180.8 553.4,179.3 549.7,181.2" fill="#ff7650" stroke="#ff7650" stroke-width="0.6"/><polygon points="541.9,181.4 545.6,179.6 541.5,178.1 537.8,179.9" fill="#ff744e" stroke="#ff744e" stroke-width="0.6"/><polygon points="546.0,182.9 549.7,181.2 545.6,179.6 541.9,181.4" fill="#ff764e" stroke="#ff764e" stroke-width="0.6"/><polygon points="550.1,184.4 553.8,182.7 549.7,181.2 546.0,182.9" fill="#ff774d" stroke="#ff774d" stroke-width="0.6"/><polygon points="538.2,183.1 541.9,181.4 537.8,179.9 534.1,181.6" fill="#ff754b" stroke="#ff754b" stroke-width="0.6"/><polygon points="542.3,184.6 546.0,182.9 541.9,181.4 538.2,183.1" fill="#ff764b" stroke="#ff764b" stroke-width="0.6"/><polygon points="546.4,186.0 550.1,184.4 546.0,182.9 542.3,184.6" fill="#ff774b" stroke="#ff774b" stroke-width="0.6"/><polygon points="546.4,186.0 548.2,185.2 550.1,184.4 552.0,183.6 553.8,182.7 555.7,181.8 557.5,180.8 555.4,180.1 553.4,179.3 551.3,178.5 549.3,177.7 547.3,177.0 545.2,176.2 543.4,177.2 541.5,178.1 539.7,179.0 537.8,179.9 536.0,180.8 534.1,181.6 536.1,182.3 538.2,183.1 540.2,183.8 542.3,184.6 544.3,185.3" class="o"/><polygon points="569.0,178.3 572.6,176.1 568.5,174.5 564.8,176.7" fill="#ff7356" stroke="#ff7356" stroke-width="0.6"/><polygon points="573.1,179.9 576.8,177.7 572.6,176.1 569.0,178.3" fill="#ff7456" stroke="#ff7456" stroke-width="0.6"/><polygon points="577.3,181.5 580.9,179.3 576.8,177.7 573.1,179.9" fill="#ff7656" stroke="#ff7656" stroke-width="0.6"/><polygon points="565.3,180.4 569.0,178.3 564.8,176.7 561.2,178.8" fill="#ff7554" stroke="#ff7554" stroke-width="0.6"/><polygon points="569.5,182.0 573.1,179.9 569.0,178.3 565.3,180.4" fill="#ff7754" stroke="#ff7754" stroke-width="0.6"/><polygon points="573.6,183.5 577.3,181.5 573.1,179.9 569.5,182.0" fill="#ff7853" stroke="#ff7853" stroke-width="0.6"/><polygon points="561.6,182.4 565.3,180.4 561.2,178.8 557.5,180.8" fill="#ff7752" stroke="#ff7752" stroke-width="0.6"/><polygon points="565.8,183.9 569.5,182.0 565.3,180.4 561.6,182.4" fill="#ff7852" stroke="#ff7852" stroke-width="0.6"/><polygon points="569.9,185.4 573.6,183.5 569.5,182.0 565.8,183.9" fill="#ff7a51" stroke="#ff7a51" stroke-width="0.6"/><polygon points="569.9,185.4 571.8,184.5 573.6,183.5 575.5,182.5 577.3,181.5 579.1,180.4 580.9,179.3 578.9,178.5 576.8,177.7 574.7,176.9 572.6,176.1 570.6,175.3 568.5,174.5 566.7,175.6 564.8,176.7 563.0,177.8 561.2,178.8 559.3,179.9 557.5,180.8 559.6,181.6 561.6,182.4 563.7,183.1 565.8,183.9 567.9,184.7" class="o"/><polygon points="592.4,176.3 596.0,173.8 591.8,172.1 588.2,174.6" fill="#ff6f5b" stroke="#ff6f5b" stroke-width="0.6"/><polygon points="596.6,177.9 600.2,175.4 596.0,173.8 592.4,176.3" fill="#ff715b" stroke="#ff715b" stroke-width="0.6"/><polygon points="600.8,179.5 604.4,177.1 600.2,175.4 596.6,177.9" fill="#ff735a" stroke="#ff735a" stroke-width="0.6"/><polygon points="588.8,178.7 592.4,176.3 588.2,174.6 584.6,177.0" fill="#ff7359" stroke="#ff7359" stroke-width="0.6"/><polygon points="593.0,180.3 596.6,177.9 592.4,176.3 588.8,178.7" fill="#ff7459" stroke="#ff7459" stroke-width="0.6"/><polygon points="597.2,181.9 600.8,179.5 596.6,177.9 593.0,180.3" fill="#ff7659" stroke="#ff7659" stroke-width="0.6"/><polygon points="585.1,180.9 588.8,178.7 584.6,177.0 580.9,179.3" fill="#ff7557" stroke="#ff7557" stroke-width="0.6"/><polygon points="589.3,182.5 593.0,180.3 588.8,178.7 585.1,180.9" fill="#ff7757" stroke="#ff7757" stroke-width="0.6"/><polygon points="593.5,184.1 597.2,181.9 593.0,180.3 589.3,182.5" fill="#ff7957" stroke="#ff7957" stroke-width="0.6"/><polygon points="593.5,184.1 595.4,183.0 597.2,181.9 599.0,180.7 600.8,179.5 602.6,178.3 604.4,177.1 602.3,176.2 600.2,175.4 598.1,174.6 596.0,173.8 593.9,172.9 591.8,172.1 590.0,173.4 588.2,174.6 586.4,175.9 584.6,177.0 582.8,178.2 580.9,179.3 583.0,180.1 585.1,180.9 587.2,181.7 589.3,182.5 591.4,183.3" class="o"/><polygon points="615.9,173.5 619.4,170.7 615.2,169.0 611.6,171.8" fill="#ff574b" stroke="#ff574b" stroke-width="0.6"/><polygon points="620.1,175.2 623.7,172.4 619.4,170.7 615.9,173.5" fill="#ff5f52" stroke="#ff5f52" stroke-width="0.6"/><polygon points="624.4,176.8 628.0,174.1 623.7,172.4 620.1,175.2" fill="#ff6758" stroke="#ff6758" stroke-width="0.6"/><polygon points="612.3,176.2 615.9,173.5 611.6,171.8 608.0,174.5" fill="#ff6b5b" stroke="#ff6b5b" stroke-width="0.6"/><polygon points="616.5,177.8 620.1,175.2 615.9,173.5 612.3,176.2" fill="#ff6f5d" stroke="#ff6f5d" stroke-width="0.6"/><polygon points="620.8,179.5 624.4,176.8 620.1,175.2 616.5,177.8" fill="#ff715d" stroke="#ff715d" stroke-width="0.6"/><polygon points="608.7,178.7 612.3,176.2 608.0,174.5 604.4,177.1" fill="#ff715c" stroke="#ff715c" stroke-width="0.6"/><polygon points="612.9,180.3 616.5,177.8 612.3,176.2 608.7,178.7" fill="#ff735c" stroke="#ff735c" stroke-width="0.6"/><polygon points="617.2,182.0 620.8,179.5 616.5,177.8 612.9,180.3" fill="#ff755c" stroke="#ff755c" stroke-width="0.6"/><polygon points="617.2,182.0 619.0,180.7 620.8,179.5 622.6,178.2 624.4,176.8 626.2,175.5 628.0,174.1 625.8,173.2 623.7,172.4 621.6,171.5 619.4,170.7 617.3,169.8 615.2,169.0 613.4,170.4 611.6,171.8 609.8,173.2 608.0,174.5 606.2,175.8 604.4,177.1 606.5,177.9 608.7,178.7 610.8,179.5 612.9,180.3 615.0,181.2" class="o"/><polygon points="297.9,176.5 310.7,173.3 299.9,170.2 287.1,173.3" fill="#ff2626" class="m"/><polygon points="321.6,176.5 334.3,173.3 323.4,170.2 310.7,173.3" fill="#ff2626" class="m"/><polygon points="345.4,176.4 357.9,173.3 346.8,170.1 334.3,173.3" fill="#ff2626" class="m"/><polygon points="369.1,176.4 381.5,173.3 370.2,170.1 357.9,173.3" fill="#ff2626" class="m"/><polygon points="393.4,172.2 397.4,171.8 393.7,170.7 389.6,171.2" fill="#ff2626" stroke="#ff2626" stroke-width="0.6"/><polygon points="397.2,173.2 401.2,172.9 397.4,171.8 393.4,172.2" fill="#9f1818" stroke="#9f1818" stroke-width="0.6"/><polygon points="401.0,174.3 405.1,174.1 401.2,172.9 397.2,173.2" fill="#9c1817" stroke="#9c1817" stroke-width="0.6"/><polygon points="389.3,173.3 393.4,172.2 389.6,171.2 385.5,172.2" fill="#ff2626" stroke="#ff2626" stroke-width="0.6"/><polygon points="393.1,174.3 397.2,173.2 393.4,172.2 389.3,173.3" fill="#ff2626" stroke="#ff2626" stroke-width="0.6"/><polygon points="396.9,175.4 401.0,174.3 397.2,173.2 393.1,174.3" fill="#ff2626" stroke="#ff2626" stroke-width="0.6"/><polygon points="385.2,174.3 389.3,173.3 385.5,172.2 381.5,173.3" fill="#ff2626" stroke="#ff2626" stroke-width="0.6"/><polygon points="389.0,175.4 393.1,174.3 389.3,173.3 385.2,174.3" fill="#ff2626" stroke="#ff2626" stroke-width="0.6"/><polygon points="392.9,176.4 396.9,175.4 393.1,174.3 389.0,175.4" fill="#ff2626" stroke="#ff2626" stroke-width="0.6"/><polygon points="392.9,176.4 394.9,175.9 396.9,175.4 399.0,174.8 401.0,174.3 403.0,173.9 405.1,174.1 403.2,173.5 401.2,172.9 399.3,172.4 397.4,171.8 395.5,171.2 393.7,170.7 391.6,170.6 389.6,171.2 387.6,171.7 385.5,172.2 383.5,172.7 381.5,173.3 383.4,173.8 385.2,174.3 387.1,174.8 389.0,175.4 390.9,175.9" class="o"/><polygon points="417.0,175.6 421.0,175.5 417.1,174.3 413.1,174.4" fill="#bd2c20" stroke="#bd2c20" stroke-width="0.6"/><polygon points="420.8,176.7 424.8,176.7 421.0,175.5 417.0,175.6" fill="#ba2c20" stroke="#ba2c20" stroke-width="0.6"/><polygon points="424.7,177.9 428.7,177.9 424.8,176.7 420.8,176.7" fill="#b62b1f" stroke="#b62b1f" stroke-width="0.6"/><polygon points="412.9,175.4 417.0,175.6 413.1,174.4 409.1,174.3" fill="#b1251d" stroke="#b1251d" stroke-width="0.6"/><polygon points="416.8,176.6 420.8,176.7 417.0,175.6 412.9,175.4" fill="#ae251d" stroke="#ae251d" stroke-width="0.6"/><polygon points="420.7,177.7 424.7,177.9 420.8,176.7 416.8,176.6" fill="#ab241c" stroke="#ab241c" stroke-width="0.6"/><polygon points="408.9,175.2 412.9,175.4 409.1,174.3 405.1,174.1" fill="#a51e1a" stroke="#a51e1a" stroke-width="0.6"/><polygon points="412.7,176.3 416.8,176.6 412.9,175.4 408.9,175.2" fill="#a21e1a" stroke="#a21e1a" stroke-width="0.6"/><polygon points="416.6,177.4 420.7,177.7 416.8,176.6 412.7,176.3" fill="#9f1d19" stroke="#9f1d19" stroke-width="0.6"/><polygon points="416.6,177.4 418.6,177.6 420.7,177.7 422.7,177.8 424.7,177.9 426.7,177.9 428.7,177.9 426.7,177.3 424.8,176.7 422.9,176.1 421.0,175.5 419.0,174.9 417.1,174.3 415.1,174.4 413.1,174.4 411.1,174.4 409.1,174.3 407.1,174.2 405.1,174.1 407.0,174.6 408.9,175.2 410.8,175.7 412.7,176.3 414.7,176.8" class="o"/><polygon points="440.5,178.9 444.4,178.5 440.5,177.3 436.6,177.6" fill="#d74028" stroke="#d74028" stroke-width="0.6"/><polygon points="444.4,180.1 448.3,179.8 444.4,178.5 440.5,178.9" fill="#d44027" stroke="#d44027" stroke-width="0.6"/><polygon points="448.3,181.3 452.2,181.0 448.3,179.8 444.4,180.1" fill="#d14027" stroke="#d14027" stroke-width="0.6"/><polygon points="436.5,179.0 440.5,178.9 436.6,177.6 432.6,177.8" fill="#cb3925" stroke="#cb3925" stroke-width="0.6"/><polygon points="440.4,180.2 444.4,180.1 440.5,178.9 436.5,179.0" fill="#c83924" stroke="#c83924" stroke-width="0.6"/><polygon points="444.4,181.4 448.3,181.3 444.4,180.1 440.4,180.2" fill="#c53924" stroke="#c53924" stroke-width="0.6"/><polygon points="432.6,179.1 436.5,179.0 432.6,177.8 428.7,177.9" fill="#bf3222" stroke="#bf3222" stroke-width="0.6"/><polygon points="436.5,180.3 440.4,180.2 436.5,179.0 432.6,179.1" fill="#bc3221" stroke="#bc3221" stroke-width="0.6"/><polygon points="440.4,181.4 444.4,181.4 440.4,180.2 436.5,180.3" fill="#b93121" stroke="#b93121" stroke-width="0.6"/><polygon points="440.4,181.4 442.4,181.5 444.4,181.4 446.3,181.4 448.3,181.3 450.3,181.2 452.2,181.0 450.3,180.4 448.3,179.8 446.4,179.2 444.4,178.5 442.5,177.9 440.5,177.3 438.6,177.5 436.6,177.6 434.6,177.7 432.6,177.8 430.7,177.9 428.7,177.9 430.6,178.5 432.6,179.1 434.5,179.7 436.5,180.3 438.4,180.9" class="o"/><polygon points="464.0,181.4 467.9,180.8 463.9,179.5 460.1,180.1" fill="#f25430" stroke="#f25430" stroke-width="0.6"/><polygon points="467.9,182.7 471.8,182.1 467.9,180.8 464.0,181.4" fill="#ef542f" stroke="#ef542f" stroke-width="0.6"/><polygon points="471.9,184.0 475.8,183.4 471.8,182.1 467.9,182.7" fill="#ec542f" stroke="#ec542f" stroke-width="0.6"/><polygon points="460.1,181.9 464.0,181.4 460.1,180.1 456.2,180.6" fill="#e64d2d" stroke="#e64d2d" stroke-width="0.6"/><polygon points="464.0,183.2 467.9,182.7 464.0,181.4 460.1,181.9" fill="#e34d2c" stroke="#e34d2c" stroke-width="0.6"/><polygon points="468.0,184.4 471.9,184.0 467.9,182.7 464.0,183.2" fill="#e04d2c" stroke="#e04d2c" stroke-width="0.6"/><polygon points="456.2,182.3 460.1,181.9 456.2,180.6 452.2,181.0" fill="#da472a" stroke="#da472a" stroke-width="0.6"/><polygon points="460.1,183.5 464.0,183.2 460.1,181.9 456.2,182.3" fill="#d74629" stroke="#d74629" stroke-width="0.6"/><polygon points="464.1,184.7 468.0,184.4 464.0,183.2 460.1,183.5" fill="#d44629" stroke="#d44629" stroke-width="0.6"/><polygon points="464.1,184.7 466.1,184.6 468.0,184.4 470.0,184.2 471.9,184.0 473.9,183.7 475.8,183.4 473.8,182.7 471.8,182.1 469.8,181.4 467.9,180.8 465.9,180.1 463.9,179.5 462.0,179.8 460.1,180.1 458.1,180.4 456.2,180.6 454.2,180.9 452.2,181.0 454.2,181.7 456.2,182.3 458.2,182.9 460.1,183.5 462.1,184.1" class="o"/><polygon points="487.5,183.2 491.3,182.3 487.3,180.9 483.5,181.9" fill="#ff6438" stroke="#ff6438" stroke-width="0.6"/><polygon points="491.5,184.6 495.3,183.7 491.3,182.3 487.5,183.2" fill="#ff6538" stroke="#ff6538" stroke-width="0.6"/><polygon points="495.5,185.9 499.3,185.0 495.3,183.7 491.5,184.6" fill="#ff6537" stroke="#ff6537" stroke-width="0.6"/><polygon points="483.6,184.0 487.5,183.2 483.5,181.9 479.7,182.7" fill="#ff6034" stroke="#ff6034" stroke-width="0.6"/><polygon points="487.6,185.3 491.5,184.6 487.5,183.2 483.6,184.0" fill="#fd6134" stroke="#fd6134" stroke-width="0.6"/><polygon points="491.7,186.7 495.5,185.9 491.5,184.6 487.6,185.3" fill="#fa6134" stroke="#fa6134" stroke-width="0.6"/><polygon points="479.8,184.7 483.6,184.0 479.7,182.7 475.8,183.4" fill="#f45a32" stroke="#f45a32" stroke-width="0.6"/><polygon points="483.8,186.0 487.6,185.3 483.6,184.0 479.8,184.7" fill="#f15a31" stroke="#f15a31" stroke-width="0.6"/><polygon points="487.8,187.3 491.7,186.7 487.6,185.3 483.8,186.0" fill="#ee5a31" stroke="#ee5a31" stroke-width="0.6"/><polygon points="487.8,187.3 489.7,187.0 491.7,186.7 493.6,186.3 495.5,185.9 497.4,185.5 499.3,185.0 497.3,184.3 495.3,183.7 493.3,183.0 491.3,182.3 489.3,181.6 487.3,180.9 485.4,181.4 483.5,181.9 481.6,182.3 479.7,182.7 477.7,183.1 475.8,183.4 477.8,184.1 479.8,184.7 481.8,185.3 483.8,186.0 485.8,186.6" class="o"/><polygon points="511.0,184.3 514.7,183.1 510.7,181.6 506.9,182.9" fill="#ff6e41" stroke="#ff6e41" stroke-width="0.6"/><polygon points="515.0,185.7 518.8,184.5 514.7,183.1 511.0,184.3" fill="#ff6f40" stroke="#ff6f40" stroke-width="0.6"/><polygon points="519.1,187.1 522.9,185.9 518.8,184.5 515.0,185.7" fill="#ff7040" stroke="#ff7040" stroke-width="0.6"/><polygon points="507.2,185.4 511.0,184.3 506.9,182.9 503.1,184.0" fill="#ff6c3e" stroke="#ff6c3e" stroke-width="0.6"/><polygon points="511.2,186.8 515.0,185.7 511.0,184.3 507.2,185.4" fill="#ff6d3d" stroke="#ff6d3d" stroke-width="0.6"/><polygon points="515.3,188.1 519.1,187.1 515.0,185.7 511.2,186.8" fill="#ff6e3d" stroke="#ff6e3d" stroke-width="0.6"/><polygon points="503.4,186.4 507.2,185.4 503.1,184.0 499.3,185.0" fill="#ff693a" stroke="#ff693a" stroke-width="0.6"/><polygon points="507.4,187.7 511.2,186.8 507.2,185.4 503.4,186.4" fill="#ff6a3a" stroke="#ff6a3a" stroke-width="0.6"/><polygon points="511.5,189.1 515.3,188.1 511.2,186.8 507.4,187.7" fill="#ff6b39" stroke="#ff6b39" stroke-width="0.6"/><polygon points="511.5,189.1 513.4,188.6 515.3,188.1 517.2,187.6 519.1,187.1 521.0,186.5 522.9,185.9 520.8,185.2 518.8,184.5 516.8,183.8 514.7,183.1 512.7,182.3 510.7,181.6 508.8,182.3 506.9,182.9 505.0,183.5 503.1,184.0 501.2,184.5 499.3,185.0 501.3,185.7 503.4,186.4 505.4,187.1 507.4,187.7 509.4,188.4" class="o"/><polygon points="534.4,184.6 538.2,183.1 534.1,181.6 530.4,183.2" fill="#ff7549" stroke="#ff7549" stroke-width="0.6"/><polygon points="538.5,186.1 542.3,184.6 538.2,183.1 534.4,184.6" fill="#ff7648" stroke="#ff7648" stroke-width="0.6"/><polygon points="542.7,187.5 546.4,186.0 542.3,184.6 538.5,186.1" fill="#ff7748" stroke="#ff7748" stroke-width="0.6"/><polygon points="530.7,186.0 534.4,184.6 530.4,183.2 526.6,184.6" fill="#ff7446" stroke="#ff7446" stroke-width="0.6"/><polygon points="534.8,187.5 538.5,186.1 534.4,184.6 530.7,186.0" fill="#ff7545" stroke="#ff7545" stroke-width="0.6"/><polygon points="538.9,188.9 542.7,187.5 538.5,186.1 534.8,187.5" fill="#ff7645" stroke="#ff7645" stroke-width="0.6"/><polygon points="526.9,187.3 530.7,186.0 526.6,184.6 522.9,185.9" fill="#ff7343" stroke="#ff7343" stroke-width="0.6"/><polygon points="531.0,188.7 534.8,187.5 530.7,186.0 526.9,187.3" fill="#ff7442" stroke="#ff7442" stroke-width="0.6"/><polygon points="535.2,190.1 538.9,188.9 534.8,187.5 531.0,188.7" fill="#ff7542" stroke="#ff7542" stroke-width="0.6"/><polygon points="535.2,190.1 537.0,189.5 538.9,188.9 540.8,188.2 542.7,187.5 544.5,186.8 546.4,186.0 544.3,185.3 542.3,184.6 540.2,183.8 538.2,183.1 536.1,182.3 534.1,181.6 532.2,182.4 530.4,183.2 528.5,183.9 526.6,184.6 524.7,185.3 522.9,185.9 524.9,186.6 526.9,187.3 529.0,188.0 531.0,188.7 533.1,189.4" class="o"/><polygon points="557.9,184.2 561.6,182.4 557.5,180.8 553.8,182.7" fill="#ff784f" stroke="#ff784f" stroke-width="0.6"/><polygon points="562.1,185.7 565.8,183.9 561.6,182.4 557.9,184.2" fill="#ff794f" stroke="#ff794f" stroke-width="0.6"/><polygon points="566.3,187.2 569.9,185.4 565.8,183.9 562.1,185.7" fill="#ff7b4f" stroke="#ff7b4f" stroke-width="0.6"/><polygon points="554.2,185.9 557.9,184.2 553.8,182.7 550.1,184.4" fill="#ff784d" stroke="#ff784d" stroke-width="0.6"/><polygon points="558.4,187.4 562.1,185.7 557.9,184.2 554.2,185.9" fill="#ff7a4d" stroke="#ff7a4d" stroke-width="0.6"/><polygon points="562.6,188.9 566.3,187.2 562.1,185.7 558.4,187.4" fill="#ff7b4c" stroke="#ff7b4c" stroke-width="0.6"/><polygon points="550.5,187.5 554.2,185.9 550.1,184.4 546.4,186.0" fill="#ff794a" stroke="#ff794a" stroke-width="0.6"/><polygon points="554.7,189.0 558.4,187.4 554.2,185.9 550.5,187.5" fill="#ff7a4a" stroke="#ff7a4a" stroke-width="0.6"/><polygon points="558.8,190.4 562.6,188.9 558.4,187.4 554.7,189.0" fill="#ff7b4a" stroke="#ff7b4a" stroke-width="0.6"/><polygon points="558.8,190.4 560.7,189.7 562.6,188.9 564.4,188.1 566.3,187.2 568.1,186.3 569.9,185.4 567.9,184.7 565.8,183.9 563.7,183.1 561.6,182.4 559.6,181.6 557.5,180.8 555.7,181.8 553.8,182.7 552.0,183.6 550.1,184.4 548.2,185.2 546.4,186.0 548.5,186.8 550.5,187.5 552.6,188.2 554.7,189.0 556.8,189.7" class="o"/><polygon points="581.5,183.0 585.1,180.9 580.9,179.3 577.3,181.5" fill="#ff7855" stroke="#ff7855" stroke-width="0.6"/><polygon points="585.7,184.6 589.3,182.5 585.1,180.9 581.5,183.0" fill="#ff7955" stroke="#ff7955" stroke-width="0.6"/><polygon points="589.9,186.2 593.5,184.1 589.3,182.5 585.7,184.6" fill="#ff7b55" stroke="#ff7b55" stroke-width="0.6"/><polygon points="577.8,185.1 581.5,183.0 577.3,181.5 573.6,183.5" fill="#ff7a53" stroke="#ff7a53" stroke-width="0.6"/><polygon points="582.0,186.6 585.7,184.6 581.5,183.0 577.8,185.1" fill="#ff7b53" stroke="#ff7b53" stroke-width="0.6"/><polygon points="586.2,188.1 589.9,186.2 585.7,184.6 582.0,186.6" fill="#ff7d53" stroke="#ff7d53" stroke-width="0.6"/><polygon points="574.1,186.9 577.8,185.1 573.6,183.5 569.9,185.4" fill="#ff7b51" stroke="#ff7b51" stroke-width="0.6"/><polygon points="578.3,188.5 582.0,186.6 577.8,185.1 574.1,186.9" fill="#ff7c51" stroke="#ff7c51" stroke-width="0.6"/><polygon points="582.6,190.0 586.2,188.1 582.0,186.6 578.3,188.5" fill="#ff7e50" stroke="#ff7e50" stroke-width="0.6"/><polygon points="582.6,190.0 584.4,189.1 586.2,188.1 588.1,187.2 589.9,186.2 591.7,185.1 593.5,184.1 591.4,183.3 589.3,182.5 587.2,181.7 585.1,180.9 583.0,180.1 580.9,179.3 579.1,180.4 577.3,181.5 575.5,182.5 573.6,183.5 571.8,184.5 569.9,185.4 572.0,186.2 574.1,186.9 576.2,187.7 578.3,188.5 580.4,189.2" class="o"/><polygon points="605.0,181.1 608.7,178.7 604.4,177.1 600.8,179.5" fill="#ff755a" stroke="#ff755a" stroke-width="0.6"/><polygon points="609.3,182.8 612.9,180.3 608.7,178.7 605.0,181.1" fill="#ff775a" stroke="#ff775a" stroke-width="0.6"/><polygon points="613.6,184.4 617.2,182.0 612.9,180.3 609.3,182.8" fill="#ff785a" stroke="#ff785a" stroke-width="0.6"/><polygon points="601.4,183.5 605.0,181.1 600.8,179.5 597.2,181.9" fill="#ff7859" stroke="#ff7859" stroke-width="0.6"/><polygon points="605.7,185.0 609.3,182.8 605.0,181.1 601.4,183.5" fill="#ff7958" stroke="#ff7958" stroke-width="0.6"/><polygon points="609.9,186.6 613.6,184.4 609.3,182.8 605.7,185.0" fill="#ff7b58" stroke="#ff7b58" stroke-width="0.6"/><polygon points="597.8,185.6 601.4,183.5 597.2,181.9 593.5,184.1" fill="#ff7a57" stroke="#ff7a57" stroke-width="0.6"/><polygon points="602.0,187.2 605.7,185.0 601.4,183.5 597.8,185.6" fill="#ff7c56" stroke="#ff7c56" stroke-width="0.6"/><polygon points="606.3,188.8 609.9,186.6 605.7,185.0 602.0,187.2" fill="#ff7d56" stroke="#ff7d56" stroke-width="0.6"/><polygon points="606.3,188.8 608.1,187.7 609.9,186.6 611.7,185.5 613.6,184.4 615.4,183.2 617.2,182.0 615.0,181.2 612.9,180.3 610.8,179.5 608.7,178.7 606.5,177.9 604.4,177.1 602.6,178.3 600.8,179.5 599.0,180.7 597.2,181.9 595.4,183.0 593.5,184.1 595.7,184.9 597.8,185.6 599.9,186.4 602.0,187.2 604.2,188.0" class="o"/><polygon points="308.8,179.7 321.6,176.5 310.7,173.3 297.9,176.5" fill="#ff2626" class="m"/><polygon points="332.7,179.7 345.4,176.4 334.3,173.3 321.6,176.5" fill="#ff2626" class="m"/><polygon points="356.6,179.7 369.1,176.4 357.9,173.3 345.4,176.4" fill="#ff2626" class="m"/><polygon points="380.5,179.6 392.9,176.4 381.5,173.3 369.1,176.4" fill="#ff2626" class="m"/><polygon points="404.8,175.4 408.9,175.2 405.1,174.1 401.0,174.3" fill="#991717" stroke="#991717" stroke-width="0.6"/><polygon points="408.7,176.4 412.7,176.3 408.9,175.2 404.8,175.4" fill="#961717" stroke="#961717" stroke-width="0.6"/><polygon points="412.6,177.5 416.6,177.4 412.7,176.3 408.7,176.4" fill="#931716" stroke="#931716" stroke-width="0.6"/><polygon points="400.8,176.4 404.8,175.4 401.0,174.3 396.9,175.4" fill="#ff2626" stroke="#ff2626" stroke-width="0.6"/><polygon points="404.6,177.5 408.7,176.4 404.8,175.4 400.8,176.4" fill="#ff2626" stroke="#ff2626" stroke-width="0.6"/><polygon points="408.5,178.6 412.6,177.5 408.7,176.4 404.6,177.5" fill="#ff2626" stroke="#ff2626" stroke-width="0.6"/><polygon points="396.7,177.5 400.8,176.4 396.9,175.4 392.9,176.4" fill="#ff2626" stroke="#ff2626" stroke-width="0.6"/><polygon points="400.5,178.6 404.6,177.5 400.8,176.4 396.7,177.5" fill="#ff2626" stroke="#ff2626" stroke-width="0.6"/><polygon points="404.4,179.6 408.5,178.6 404.6,177.5 400.5,178.6" fill="#ff2626" stroke="#ff2626" stroke-width="0.6"/><polygon points="404.4,179.6 406.5,179.1 408.5,178.6 410.5,178.0 412.6,177.5 414.6,177.2 416.6,177.4 414.7,176.8 412.7,176.3 410.8,175.7 408.9,175.2 407.0,174.6 405.1,174.1 403.0,173.9 401.0,174.3 399.0,174.8 396.9,175.4 394.9,175.9 392.9,176.4 394.8,177.0 396.7,177.5 398.6,178.0 400.5,178.6 402.5,179.1" class="o"/><polygon points="428.6,179.0 432.6,179.1 428.7,177.9 424.7,177.9" fill="#b32b1f" stroke="#b32b1f" stroke-width="0.6"/><polygon points="432.5,180.2 436.5,180.3 432.6,179.1 428.6,179.0" fill="#b02b1e" stroke="#b02b1e" stroke-width="0.6"/><polygon points="436.4,181.3 440.4,181.4 436.5,180.3 432.5,180.2" fill="#ad2a1e" stroke="#ad2a1e" stroke-width="0.6"/><polygon points="424.5,178.8 428.6,179.0 424.7,177.9 420.7,177.7" fill="#a7241c" stroke="#a7241c" stroke-width="0.6"/><polygon points="428.4,179.9 432.5,180.2 428.6,179.0 424.5,178.8" fill="#a4231b" stroke="#a4231b" stroke-width="0.6"/><polygon points="432.4,181.0 436.4,181.3 432.5,180.2 428.4,179.9" fill="#a1231b" stroke="#a1231b" stroke-width="0.6"/><polygon points="420.5,178.5 424.5,178.8 420.7,177.7 416.6,177.4" fill="#9c1d19" stroke="#9c1d19" stroke-width="0.6"/><polygon points="424.4,179.6 428.4,179.9 424.5,178.8 420.5,178.5" fill="#981c18" stroke="#981c18" stroke-width="0.6"/><polygon points="428.3,180.6 432.4,181.0 428.4,179.9 424.4,179.6" fill="#951c18" stroke="#951c18" stroke-width="0.6"/><polygon points="428.3,180.6 430.3,180.9 432.4,181.0 434.4,181.2 436.4,181.3 438.4,181.4 440.4,181.4 438.4,180.9 436.5,180.3 434.5,179.7 432.6,179.1 430.6,178.5 428.7,177.9 426.7,177.9 424.7,177.9 422.7,177.8 420.7,177.7 418.6,177.6 416.6,177.4 418.6,177.9 420.5,178.5 422.5,179.0 424.4,179.6 426.4,180.1" class="o"/><polygon points="452.2,182.5 456.2,182.3 452.2,181.0 448.3,181.3" fill="#ce4027" stroke="#ce4027" stroke-width="0.6"/><polygon points="456.2,183.7 460.1,183.5 456.2,182.3 452.2,182.5" fill="#cb3f26" stroke="#cb3f26" stroke-width="0.6"/><polygon points="460.2,184.9 464.1,184.7 460.1,183.5 456.2,183.7" fill="#c83f26" stroke="#c83f26" stroke-width="0.6"/><polygon points="448.3,182.6 452.2,182.5 448.3,181.3 444.4,181.4" fill="#c23824" stroke="#c23824" stroke-width="0.6"/><polygon points="452.2,183.8 456.2,183.7 452.2,182.5 448.3,182.6" fill="#bf3823" stroke="#bf3823" stroke-width="0.6"/><polygon points="456.2,185.0 460.2,184.9 456.2,183.7 452.2,183.8" fill="#bc3723" stroke="#bc3723" stroke-width="0.6"/><polygon points="444.3,182.6 448.3,182.6 444.4,181.4 440.4,181.4" fill="#b63120" stroke="#b63120" stroke-width="0.6"/><polygon points="448.3,183.7 452.2,183.8 448.3,182.6 444.3,182.6" fill="#b33120" stroke="#b33120" stroke-width="0.6"/><polygon points="452.2,184.9 456.2,185.0 452.2,183.8 448.3,183.7" fill="#b0301f" stroke="#b0301f" stroke-width="0.6"/><polygon points="452.2,184.9 454.2,184.9 456.2,185.0 458.2,185.0 460.2,184.9 462.1,184.8 464.1,184.7 462.1,184.1 460.1,183.5 458.2,182.9 456.2,182.3 454.2,181.7 452.2,181.0 450.3,181.2 448.3,181.3 446.3,181.4 444.4,181.4 442.4,181.5 440.4,181.4 442.3,182.0 444.3,182.6 446.3,183.2 448.3,183.7 450.3,184.3" class="o"/><polygon points="475.9,185.2 479.8,184.7 475.8,183.4 471.9,184.0" fill="#e8542f" stroke="#e8542f" stroke-width="0.6"/><polygon points="479.9,186.5 483.8,186.0 479.8,184.7 475.9,185.2" fill="#e5542e" stroke="#e5542e" stroke-width="0.6"/><polygon points="483.9,187.8 487.8,187.3 483.8,186.0 479.9,186.5" fill="#e2532e" stroke="#e2532e" stroke-width="0.6"/><polygon points="472.0,185.7 475.9,185.2 471.9,184.0 468.0,184.4" fill="#dc4d2c" stroke="#dc4d2c" stroke-width="0.6"/><polygon points="476.0,186.9 479.9,186.5 475.9,185.2 472.0,185.7" fill="#d94d2b" stroke="#d94d2b" stroke-width="0.6"/><polygon points="480.0,188.1 483.9,187.8 479.9,186.5 476.0,186.9" fill="#d64c2b" stroke="#d64c2b" stroke-width="0.6"/><polygon points="468.1,186.0 472.0,185.7 468.0,184.4 464.1,184.7" fill="#d14628" stroke="#d14628" stroke-width="0.6"/><polygon points="472.1,187.2 476.0,186.9 472.0,185.7 468.1,186.0" fill="#cd4528" stroke="#cd4528" stroke-width="0.6"/><polygon points="476.1,188.4 480.0,188.1 476.0,186.9 472.1,187.2" fill="#ca4528" stroke="#ca4528" stroke-width="0.6"/><polygon points="476.1,188.4 478.1,188.3 480.0,188.1 482.0,188.0 483.9,187.8 485.9,187.5 487.8,187.3 485.8,186.6 483.8,186.0 481.8,185.3 479.8,184.7 477.8,184.1 475.8,183.4 473.9,183.7 471.9,184.0 470.0,184.2 468.0,184.4 466.1,184.6 464.1,184.7 466.1,185.3 468.1,186.0 470.1,186.6 472.1,187.2 474.1,187.8" class="o"/><polygon points="499.5,187.2 503.4,186.4 499.3,185.0 495.5,185.9" fill="#ff6637" stroke="#ff6637" stroke-width="0.6"/><polygon points="503.6,188.6 507.4,187.7 503.4,186.4 499.5,187.2" fill="#ff6736" stroke="#ff6736" stroke-width="0.6"/><polygon points="507.7,189.9 511.5,189.1 507.4,187.7 503.6,188.6" fill="#fd6736" stroke="#fd6736" stroke-width="0.6"/><polygon points="495.7,188.0 499.5,187.2 495.5,185.9 491.7,186.7" fill="#f76133" stroke="#f76133" stroke-width="0.6"/><polygon points="499.7,189.3 503.6,188.6 499.5,187.2 495.7,188.0" fill="#f46133" stroke="#f46133" stroke-width="0.6"/><polygon points="503.8,190.6 507.7,189.9 503.6,188.6 499.7,189.3" fill="#f16033" stroke="#f16033" stroke-width="0.6"/><polygon points="491.8,188.6 495.7,188.0 491.7,186.7 487.8,187.3" fill="#eb5a30" stroke="#eb5a30" stroke-width="0.6"/><polygon points="495.9,189.8 499.7,189.3 495.7,188.0 491.8,188.6" fill="#e85a30" stroke="#e85a30" stroke-width="0.6"/><polygon points="500.0,191.1 503.8,190.6 499.7,189.3 495.9,189.8" fill="#e55a30" stroke="#e55a30" stroke-width="0.6"/><polygon points="500.0,191.1 501.9,190.8 503.8,190.6 505.7,190.2 507.7,189.9 509.6,189.5 511.5,189.1 509.4,188.4 507.4,187.7 505.4,187.1 503.4,186.4 501.3,185.7 499.3,185.0 497.4,185.5 495.5,185.9 493.6,186.3 491.7,186.7 489.7,187.0 487.8,187.3 489.8,187.9 491.8,188.6 493.9,189.2 495.9,189.8 497.9,190.5" class="o"/><polygon points="523.2,188.5 526.9,187.3 522.9,185.9 519.1,187.1" fill="#ff7140" stroke="#ff7140" stroke-width="0.6"/><polygon points="527.3,189.9 531.0,188.7 526.9,187.3 523.2,188.5" fill="#ff723f" stroke="#ff723f" stroke-width="0.6"/><polygon points="531.4,191.2 535.2,190.1 531.0,188.7 527.3,189.9" fill="#ff733f" stroke="#ff733f" stroke-width="0.6"/><polygon points="519.4,189.5 523.2,188.5 519.1,187.1 515.3,188.1" fill="#ff6f3c" stroke="#ff6f3c" stroke-width="0.6"/><polygon points="523.5,190.9 527.3,189.9 523.2,188.5 519.4,189.5" fill="#ff6f3c" stroke="#ff6f3c" stroke-width="0.6"/><polygon points="527.6,192.2 531.4,191.2 527.3,189.9 523.5,190.9" fill="#ff703b" stroke="#ff703b" stroke-width="0.6"/><polygon points="515.6,190.4 519.4,189.5 515.3,188.1 511.5,189.1" fill="#ff6c39" stroke="#ff6c39" stroke-width="0.6"/><polygon points="519.7,191.7 523.5,190.9 519.4,189.5 515.6,190.4" fill="#ff6c38" stroke="#ff6c38" stroke-width="0.6"/><polygon points="523.8,193.1 527.6,192.2 523.5,190.9 519.7,191.7" fill="#ff6d37" stroke="#ff6d37" stroke-width="0.6"/><polygon points="523.8,193.1 525.7,192.7 527.6,192.2 529.5,191.7 531.4,191.2 533.3,190.7 535.2,190.1 533.1,189.4 531.0,188.7 529.0,188.0 526.9,187.3 524.9,186.6 522.9,185.9 521.0,186.5 519.1,187.1 517.2,187.6 515.3,188.1 513.4,188.6 511.5,189.1 513.5,189.7 515.6,190.4 517.6,191.1 519.7,191.7 521.7,192.4" class="o"/><polygon points="546.8,189.0 550.5,187.5 546.4,186.0 542.7,187.5" fill="#ff7848" stroke="#ff7848" stroke-width="0.6"/><polygon points="550.9,190.4 554.7,189.0 550.5,187.5 546.8,189.0" fill="#ff7947" stroke="#ff7947" stroke-width="0.6"/><polygon points="555.1,191.8 558.8,190.4 554.7,189.0 550.9,190.4" fill="#ff7a47" stroke="#ff7a47" stroke-width="0.6"/><polygon points="543.1,190.3 546.8,189.0 542.7,187.5 538.9,188.9" fill="#ff7745" stroke="#ff7745" stroke-width="0.6"/><polygon points="547.2,191.7 550.9,190.4 546.8,189.0 543.1,190.3" fill="#ff7844" stroke="#ff7844" stroke-width="0.6"/><polygon points="551.4,193.1 555.1,191.8 550.9,190.4 547.2,191.7" fill="#ff7944" stroke="#ff7944" stroke-width="0.6"/><polygon points="539.3,191.5 543.1,190.3 538.9,188.9 535.2,190.1" fill="#ff7641" stroke="#ff7641" stroke-width="0.6"/><polygon points="543.5,192.9 547.2,191.7 543.1,190.3 539.3,191.5" fill="#ff7641" stroke="#ff7641" stroke-width="0.6"/><polygon points="547.6,194.3 551.4,193.1 547.2,191.7 543.5,192.9" fill="#ff7740" stroke="#ff7740" stroke-width="0.6"/><polygon points="547.6,194.3 549.5,193.7 551.4,193.1 553.3,192.5 555.1,191.8 557.0,191.1 558.8,190.4 556.8,189.7 554.7,189.0 552.6,188.2 550.5,187.5 548.5,186.8 546.4,186.0 544.5,186.8 542.7,187.5 540.8,188.2 538.9,188.9 537.0,189.5 535.2,190.1 537.2,190.8 539.3,191.5 541.4,192.2 543.5,192.9 545.5,193.6" class="o"/><polygon points="570.4,188.7 574.1,186.9 569.9,185.4 566.3,187.2" fill="#ff7c4f" stroke="#ff7c4f" stroke-width="0.6"/><polygon points="574.7,190.2 578.3,188.5 574.1,186.9 570.4,188.7" fill="#ff7d4e" stroke="#ff7d4e" stroke-width="0.6"/><polygon points="578.9,191.7 582.6,190.0 578.3,188.5 574.7,190.2" fill="#ff7e4e" stroke="#ff7e4e" stroke-width="0.6"/><polygon points="566.7,190.4 570.4,188.7 566.3,187.2 562.6,188.9" fill="#ff7c4c" stroke="#ff7c4c" stroke-width="0.6"/><polygon points="571.0,191.8 574.7,190.2 570.4,188.7 566.7,190.4" fill="#ff7d4c" stroke="#ff7d4c" stroke-width="0.6"/><polygon points="575.2,193.3 578.9,191.7 574.7,190.2 571.0,191.8" fill="#ff7e4b" stroke="#ff7e4b" stroke-width="0.6"/><polygon points="563.0,191.9 566.7,190.4 562.6,188.9 558.8,190.4" fill="#ff7c49" stroke="#ff7c49" stroke-width="0.6"/><polygon points="567.2,193.3 571.0,191.8 566.7,190.4 563.0,191.9" fill="#ff7d49" stroke="#ff7d49" stroke-width="0.6"/><polygon points="571.5,194.8 575.2,193.3 571.0,191.8 567.2,193.3" fill="#ff7e48" stroke="#ff7e48" stroke-width="0.6"/><polygon points="571.5,194.8 573.3,194.0 575.2,193.3 577.0,192.5 578.9,191.7 580.7,190.8 582.6,190.0 580.4,189.2 578.3,188.5 576.2,187.7 574.1,186.9 572.0,186.2 569.9,185.4 568.1,186.3 566.3,187.2 564.4,188.1 562.6,188.9 560.7,189.7 558.8,190.4 560.9,191.1 563.0,191.9 565.1,192.6 567.2,193.3 569.4,194.0" class="o"/><polygon points="594.1,187.7 597.8,185.6 593.5,184.1 589.9,186.2" fill="#ff7c55" stroke="#ff7c55" stroke-width="0.6"/><polygon points="598.4,189.3 602.0,187.2 597.8,185.6 594.1,187.7" fill="#ff7e54" stroke="#ff7e54" stroke-width="0.6"/><polygon points="602.7,190.8 606.3,188.8 602.0,187.2 598.4,189.3" fill="#ff7f54" stroke="#ff7f54" stroke-width="0.6"/><polygon points="590.5,189.7 594.1,187.7 589.9,186.2 586.2,188.1" fill="#ff7e52" stroke="#ff7e52" stroke-width="0.6"/><polygon points="594.7,191.2 598.4,189.3 594.1,187.7 590.5,189.7" fill="#ff7f52" stroke="#ff7f52" stroke-width="0.6"/><polygon points="599.0,192.7 602.7,190.8 598.4,189.3 594.7,191.2" fill="#ff8152" stroke="#ff8152" stroke-width="0.6"/><polygon points="586.8,191.5 590.5,189.7 586.2,188.1 582.6,190.0" fill="#ff7f50" stroke="#ff7f50" stroke-width="0.6"/><polygon points="591.1,193.0 594.7,191.2 590.5,189.7 586.8,191.5" fill="#ff8050" stroke="#ff8050" stroke-width="0.6"/><polygon points="595.3,194.5 599.0,192.7 594.7,191.2 591.1,193.0" fill="#ff814f" stroke="#ff814f" stroke-width="0.6"/><polygon points="595.3,194.5 597.2,193.6 599.0,192.7 600.8,191.8 602.7,190.8 604.5,189.8 606.3,188.8 604.2,188.0 602.0,187.2 599.9,186.4 597.8,185.6 595.7,184.9 593.5,184.1 591.7,185.1 589.9,186.2 588.1,187.2 586.2,188.1 584.4,189.1 582.6,190.0 584.7,190.7 586.8,191.5 588.9,192.2 591.1,193.0 593.2,193.7" class="o"/><polygon points="319.8,182.9 332.7,179.7 321.6,176.5 308.8,179.7" fill="#ff2626" class="m"/><polygon points="343.9,182.9 356.6,179.7 345.4,176.4 332.7,179.7" fill="#ff2626" class="m"/><polygon points="368.0,182.9 380.5,179.6 369.1,176.4 356.6,179.7" fill="#ff2626" class="m"/><polygon points="392.0,182.9 404.4,179.6 392.9,176.4 380.5,179.6" fill="#ff2626" class="m"/><polygon points="416.4,178.5 420.5,178.5 416.6,177.4 412.6,177.5" fill="#901616" stroke="#901616" stroke-width="0.6"/><polygon points="420.4,179.6 424.4,179.6 420.5,178.5 416.4,178.5" fill="#8c1615" stroke="#8c1615" stroke-width="0.6"/><polygon points="424.3,180.7 428.3,180.6 424.4,179.6 420.4,179.6" fill="#891515" stroke="#891515" stroke-width="0.6"/><polygon points="412.4,179.6 416.4,178.5 412.6,177.5 408.5,178.6" fill="#ff2626" stroke="#ff2626" stroke-width="0.6"/><polygon points="416.3,180.7 420.4,179.6 416.4,178.5 412.4,179.6" fill="#ff2626" stroke="#ff2626" stroke-width="0.6"/><polygon points="420.2,181.8 424.3,180.7 420.4,179.6 416.3,180.7" fill="#ff2626" stroke="#ff2626" stroke-width="0.6"/><polygon points="408.3,180.7 412.4,179.6 408.5,178.6 404.4,179.6" fill="#ff2626" stroke="#ff2626" stroke-width="0.6"/><polygon points="412.2,181.8 416.3,180.7 412.4,179.6 408.3,180.7" fill="#ff2626" stroke="#ff2626" stroke-width="0.6"/><polygon points="416.1,182.9 420.2,181.8 416.3,180.7 412.2,181.8" fill="#ff2626" stroke="#ff2626" stroke-width="0.6"/><polygon points="416.1,182.9 418.2,182.3 420.2,181.8 422.2,181.2 424.3,180.7 426.3,180.4 428.3,180.6 426.4,180.1 424.4,179.6 422.5,179.0 420.5,178.5 418.6,177.9 416.6,177.4 414.6,177.2 412.6,177.5 410.5,178.0 408.5,178.6 406.5,179.1 404.4,179.6 406.3,180.2 408.3,180.7 410.2,181.3 412.2,181.8 414.2,182.3" class="o"/><polygon points="440.3,182.4 444.3,182.6 440.4,181.4 436.4,181.3" fill="#aa2a1d" stroke="#aa2a1d" stroke-width="0.6"/><polygon points="444.3,183.6 448.3,183.7 444.3,182.6 440.3,182.4" fill="#a7291d" stroke="#a7291d" stroke-width="0.6"/><polygon points="448.2,184.7 452.2,184.9 448.3,183.7 444.3,183.6" fill="#a4291c" stroke="#a4291c" stroke-width="0.6"/><polygon points="436.3,182.1 440.3,182.4 436.4,181.3 432.4,181.0" fill="#9e221a" stroke="#9e221a" stroke-width="0.6"/><polygon points="440.3,183.2 444.3,183.6 440.3,182.4 436.3,182.1" fill="#9b221a" stroke="#9b221a" stroke-width="0.6"/><polygon points="444.2,184.3 448.2,184.7 444.3,183.6 440.3,183.2" fill="#982119" stroke="#982119" stroke-width="0.6"/><polygon points="432.3,181.7 436.3,182.1 432.4,181.0 428.3,180.6" fill="#921b17" stroke="#921b17" stroke-width="0.6"/><polygon points="436.2,182.8 440.3,183.2 436.3,182.1 432.3,181.7" fill="#8f1b17" stroke="#8f1b17" stroke-width="0.6"/><polygon points="440.2,183.9 444.2,184.3 440.3,183.2 436.2,182.8" fill="#8c1a16" stroke="#8c1a16" stroke-width="0.6"/><polygon points="440.2,183.9 442.2,184.1 444.2,184.3 446.2,184.5 448.2,184.7 450.2,184.8 452.2,184.9 450.3,184.3 448.3,183.7 446.3,183.2 444.3,182.6 442.3,182.0 440.4,181.4 438.4,181.4 436.4,181.3 434.4,181.2 432.4,181.0 430.3,180.9 428.3,180.6 430.3,181.2 432.3,181.7 434.2,182.3 436.2,182.8 438.2,183.3" class="o"/><polygon points="464.2,186.1 468.1,186.0 464.1,184.7 460.2,184.9" fill="#c53e25" stroke="#c53e25" stroke-width="0.6"/><polygon points="468.2,187.3 472.1,187.2 468.1,186.0 464.2,186.1" fill="#c23e25" stroke="#c23e25" stroke-width="0.6"/><polygon points="472.2,188.5 476.1,188.4 472.1,187.2 468.2,187.3" fill="#be3d24" stroke="#be3d24" stroke-width="0.6"/><polygon points="460.2,186.1 464.2,186.1 460.2,184.9 456.2,185.0" fill="#b93722" stroke="#b93722" stroke-width="0.6"/><polygon points="464.2,187.3 468.2,187.3 464.2,186.1 460.2,186.1" fill="#b63622" stroke="#b63622" stroke-width="0.6"/><polygon points="468.2,188.4 472.2,188.5 468.2,187.3 464.2,187.3" fill="#b23621" stroke="#b23621" stroke-width="0.6"/><polygon points="456.2,186.0 460.2,186.1 456.2,185.0 452.2,184.9" fill="#ad2f1f" stroke="#ad2f1f" stroke-width="0.6"/><polygon points="460.2,187.2 464.2,187.3 460.2,186.1 456.2,186.0" fill="#aa2f1e" stroke="#aa2f1e" stroke-width="0.6"/><polygon points="464.3,188.3 468.2,188.4 464.2,187.3 460.2,187.2" fill="#a72e1e" stroke="#a72e1e" stroke-width="0.6"/><polygon points="464.3,188.3 466.3,188.4 468.2,188.4 470.2,188.5 472.2,188.5 474.2,188.4 476.1,188.4 474.1,187.8 472.1,187.2 470.1,186.6 468.1,186.0 466.1,185.3 464.1,184.7 462.1,184.8 460.2,184.9 458.2,185.0 456.2,185.0 454.2,184.9 452.2,184.9 454.2,185.5 456.2,186.0 458.2,186.6 460.2,187.2 462.3,187.7" class="o"/><polygon points="488.0,189.0 491.8,188.6 487.8,187.3 483.9,187.8" fill="#df532d" stroke="#df532d" stroke-width="0.6"/><polygon points="492.0,190.3 495.9,189.8 491.8,188.6 488.0,189.0" fill="#dc532d" stroke="#dc532d" stroke-width="0.6"/><polygon points="496.1,191.5 500.0,191.1 495.9,189.8 492.0,190.3" fill="#d9522c" stroke="#d9522c" stroke-width="0.6"/><polygon points="484.1,189.4 488.0,189.0 483.9,187.8 480.0,188.1" fill="#d34c2a" stroke="#d34c2a" stroke-width="0.6"/><polygon points="488.1,190.6 492.0,190.3 488.0,189.0 484.1,189.4" fill="#d04b2a" stroke="#d04b2a" stroke-width="0.6"/><polygon points="492.2,191.8 496.1,191.5 492.0,190.3 488.1,190.6" fill="#cd4b29" stroke="#cd4b29" stroke-width="0.6"/><polygon points="480.2,189.6 484.1,189.4 480.0,188.1 476.1,188.4" fill="#c74427" stroke="#c74427" stroke-width="0.6"/><polygon points="484.2,190.8 488.1,190.6 484.1,189.4 480.2,189.6" fill="#c44427" stroke="#c44427" stroke-width="0.6"/><polygon points="488.3,192.0 492.2,191.8 488.1,190.6 484.2,190.8" fill="#c14326" stroke="#c14326" stroke-width="0.6"/><polygon points="488.3,192.0 490.3,191.9 492.2,191.8 494.1,191.7 496.1,191.5 498.0,191.3 500.0,191.1 497.9,190.5 495.9,189.8 493.9,189.2 491.8,188.6 489.8,187.9 487.8,187.3 485.9,187.5 483.9,187.8 482.0,188.0 480.0,188.1 478.1,188.3 476.1,188.4 478.1,189.0 480.2,189.6 482.2,190.2 484.2,190.8 486.3,191.4" class="o"/><polygon points="511.7,191.2 515.6,190.4 511.5,189.1 507.7,189.9" fill="#fa6735" stroke="#fa6735" stroke-width="0.6"/><polygon points="515.9,192.5 519.7,191.7 515.6,190.4 511.7,191.2" fill="#f76735" stroke="#f76735" stroke-width="0.6"/><polygon points="520.0,193.8 523.8,193.1 519.7,191.7 515.9,192.5" fill="#f36634" stroke="#f36634" stroke-width="0.6"/><polygon points="507.9,191.8 511.7,191.2 507.7,189.9 503.8,190.6" fill="#ee6032" stroke="#ee6032" stroke-width="0.6"/><polygon points="512.0,193.1 515.9,192.5 511.7,191.2 507.9,191.8" fill="#eb6032" stroke="#eb6032" stroke-width="0.6"/><polygon points="516.1,194.4 520.0,193.8 515.9,192.5 512.0,193.1" fill="#e85f31" stroke="#e85f31" stroke-width="0.6"/><polygon points="504.1,192.4 507.9,191.8 503.8,190.6 500.0,191.1" fill="#e2592f" stroke="#e2592f" stroke-width="0.6"/><polygon points="508.2,193.6 512.0,193.1 507.9,191.8 504.1,192.4" fill="#df592f" stroke="#df592f" stroke-width="0.6"/><polygon points="512.3,194.9 516.1,194.4 512.0,193.1 508.2,193.6" fill="#dc582e" stroke="#dc582e" stroke-width="0.6"/><polygon points="512.3,194.9 514.2,194.6 516.1,194.4 518.1,194.1 520.0,193.8 521.9,193.5 523.8,193.1 521.7,192.4 519.7,191.7 517.6,191.1 515.6,190.4 513.5,189.7 511.5,189.1 509.6,189.5 507.7,189.9 505.7,190.2 503.8,190.6 501.9,190.8 500.0,191.1 502.0,191.7 504.1,192.4 506.1,193.0 508.2,193.6 510.2,194.2" class="o"/><polygon points="535.5,192.6 539.3,191.5 535.2,190.1 531.4,191.2" fill="#ff733e" stroke="#ff733e" stroke-width="0.6"/><polygon points="539.7,194.0 543.5,192.9 539.3,191.5 535.5,192.6" fill="#ff743d" stroke="#ff743d" stroke-width="0.6"/><polygon points="543.9,195.3 547.6,194.3 543.5,192.9 539.7,194.0" fill="#ff753d" stroke="#ff753d" stroke-width="0.6"/><polygon points="531.7,193.6 535.5,192.6 531.4,191.2 527.6,192.2" fill="#ff713b" stroke="#ff713b" stroke-width="0.6"/><polygon points="535.9,194.9 539.7,194.0 535.5,192.6 531.7,193.6" fill="#ff713a" stroke="#ff713a" stroke-width="0.6"/><polygon points="540.1,196.2 543.9,195.3 539.7,194.0 535.9,194.9" fill="#ff7239" stroke="#ff7239" stroke-width="0.6"/><polygon points="527.9,194.4 531.7,193.6 527.6,192.2 523.8,193.1" fill="#fc6d37" stroke="#fc6d37" stroke-width="0.6"/><polygon points="532.1,195.7 535.9,194.9 531.7,193.6 527.9,194.4" fill="#f96c37" stroke="#f96c37" stroke-width="0.6"/><polygon points="536.3,197.0 540.1,196.2 535.9,194.9 532.1,195.7" fill="#f66c36" stroke="#f66c36" stroke-width="0.6"/><polygon points="536.3,197.0 538.2,196.6 540.1,196.2 542.0,195.8 543.9,195.3 545.7,194.8 547.6,194.3 545.5,193.6 543.5,192.9 541.4,192.2 539.3,191.5 537.2,190.8 535.2,190.1 533.3,190.7 531.4,191.2 529.5,191.7 527.6,192.2 525.7,192.7 523.8,193.1 525.9,193.7 527.9,194.4 530.0,195.1 532.1,195.7 534.2,196.4" class="o"/><polygon points="559.3,193.3 563.0,191.9 558.8,190.4 555.1,191.8" fill="#ff7b46" stroke="#ff7b46" stroke-width="0.6"/><polygon points="563.5,194.7 567.2,193.3 563.0,191.9 559.3,193.3" fill="#ff7c46" stroke="#ff7c46" stroke-width="0.6"/><polygon points="567.8,196.1 571.5,194.8 567.2,193.3 563.5,194.7" fill="#ff7d45" stroke="#ff7d45" stroke-width="0.6"/><polygon points="555.6,194.5 559.3,193.3 555.1,191.8 551.4,193.1" fill="#ff7a43" stroke="#ff7a43" stroke-width="0.6"/><polygon points="559.8,195.9 563.5,194.7 559.3,193.3 555.6,194.5" fill="#ff7b43" stroke="#ff7b43" stroke-width="0.6"/><polygon points="564.0,197.3 567.8,196.1 563.5,194.7 559.8,195.9" fill="#ff7b42" stroke="#ff7b42" stroke-width="0.6"/><polygon points="551.8,195.7 555.6,194.5 551.4,193.1 547.6,194.3" fill="#ff7840" stroke="#ff7840" stroke-width="0.6"/><polygon points="556.0,197.0 559.8,195.9 555.6,194.5 551.8,195.7" fill="#ff793f" stroke="#ff793f" stroke-width="0.6"/><polygon points="560.3,198.4 564.0,197.3 559.8,195.9 556.0,197.0" fill="#ff793f" stroke="#ff793f" stroke-width="0.6"/><polygon points="560.3,198.4 562.1,197.9 564.0,197.3 565.9,196.7 567.8,196.1 569.6,195.4 571.5,194.8 569.4,194.0 567.2,193.3 565.1,192.6 563.0,191.9 560.9,191.1 558.8,190.4 557.0,191.1 555.1,191.8 553.3,192.5 551.4,193.1 549.5,193.7 547.6,194.3 549.7,195.0 551.8,195.7 553.9,196.4 556.0,197.0 558.2,197.7" class="o"/><polygon points="583.1,193.2 586.8,191.5 582.6,190.0 578.9,191.7" fill="#ff7f4d" stroke="#ff7f4d" stroke-width="0.6"/><polygon points="587.4,194.7 591.1,193.0 586.8,191.5 583.1,193.2" fill="#ff814d" stroke="#ff814d" stroke-width="0.6"/><polygon points="591.7,196.1 595.3,194.5 591.1,193.0 587.4,194.7" fill="#ff824d" stroke="#ff824d" stroke-width="0.6"/><polygon points="579.4,194.7 583.1,193.2 578.9,191.7 575.2,193.3" fill="#ff7f4b" stroke="#ff7f4b" stroke-width="0.6"/><polygon points="583.7,196.2 587.4,194.7 583.1,193.2 579.4,194.7" fill="#ff804a" stroke="#ff804a" stroke-width="0.6"/><polygon points="588.0,197.6 591.7,196.1 587.4,194.7 583.7,196.2" fill="#ff814a" stroke="#ff814a" stroke-width="0.6"/><polygon points="575.7,196.2 579.4,194.7 575.2,193.3 571.5,194.8" fill="#ff7f48" stroke="#ff7f48" stroke-width="0.6"/><polygon points="580.0,197.6 583.7,196.2 579.4,194.7 575.7,196.2" fill="#ff8047" stroke="#ff8047" stroke-width="0.6"/><polygon points="584.3,199.0 588.0,197.6 583.7,196.2 580.0,197.6" fill="#ff8147" stroke="#ff8147" stroke-width="0.6"/><polygon points="584.3,199.0 586.1,198.4 588.0,197.6 589.8,196.9 591.7,196.1 593.5,195.3 595.3,194.5 593.2,193.7 591.1,193.0 588.9,192.2 586.8,191.5 584.7,190.7 582.6,190.0 580.7,190.8 578.9,191.7 577.0,192.5 575.2,193.3 573.3,194.0 571.5,194.8 573.6,195.5 575.7,196.2 577.8,196.9 580.0,197.6 582.1,198.3" class="o"/><polygon points="331.0,186.2 343.9,182.9 332.7,179.7 319.8,182.9" fill="#ff2626" class="m"/><polygon points="355.3,186.2 368.0,182.9 356.6,179.7 343.9,182.9" fill="#ff2626" class="m"/><polygon points="379.5,186.2 392.0,182.9 380.5,179.6 368.0,182.9" fill="#ff2626" class="m"/><polygon points="403.7,186.2 416.1,182.9 404.4,179.6 392.0,182.9" fill="#ff2626" class="m"/><polygon points="428.2,181.8 432.3,181.7 428.3,180.6 424.3,180.7" fill="#861514" stroke="#861514" stroke-width="0.6"/><polygon points="432.2,182.9 436.2,182.8 432.3,181.7 428.2,181.8" fill="#831414" stroke="#831414" stroke-width="0.6"/><polygon points="436.1,184.0 440.2,183.9 436.2,182.8 432.2,182.9" fill="#801313" stroke="#801313" stroke-width="0.6"/><polygon points="424.1,182.9 428.2,181.8 424.3,180.7 420.2,181.8" fill="#ff2626" stroke="#ff2626" stroke-width="0.6"/><polygon points="428.1,184.0 432.2,182.9 428.2,181.8 424.1,182.9" fill="#ff2626" stroke="#ff2626" stroke-width="0.6"/><polygon points="432.1,185.1 436.1,184.0 432.2,182.9 428.1,184.0" fill="#ff2626" stroke="#ff2626" stroke-width="0.6"/><polygon points="420.1,184.0 424.1,182.9 420.2,181.8 416.1,182.9" fill="#ff2626" stroke="#ff2626" stroke-width="0.6"/><polygon points="424.0,185.1 428.1,184.0 424.1,182.9 420.1,184.0" fill="#ff2626" stroke="#ff2626" stroke-width="0.6"/><polygon points="428.0,186.2 432.1,185.1 428.1,184.0 424.0,185.1" fill="#ff2626" stroke="#ff2626" stroke-width="0.6"/><polygon points="428.0,186.2 430.0,185.6 432.1,185.1 434.1,184.5 436.1,184.0 438.2,183.6 440.2,183.9 438.2,183.3 436.2,182.8 434.2,182.3 432.3,181.7 430.3,181.2 428.3,180.6 426.3,180.4 424.3,180.7 422.2,181.2 420.2,181.8 418.2,182.3 416.1,182.9 418.1,183.4 420.1,184.0 422.0,184.5 424.0,185.1 426.0,185.6" class="o"/><polygon points="452.2,185.8 456.2,186.0 452.2,184.9 448.2,184.7" fill="#a1281c" stroke="#a1281c" stroke-width="0.6"/><polygon points="456.2,186.9 460.2,187.2 456.2,186.0 452.2,185.8" fill="#9e271b" stroke="#9e271b" stroke-width="0.6"/><polygon points="460.3,188.0 464.3,188.3 460.2,187.2 456.2,186.9" fill="#9b271b" stroke="#9b271b" stroke-width="0.6"/><polygon points="448.2,185.4 452.2,185.8 448.2,184.7 444.2,184.3" fill="#952119" stroke="#952119" stroke-width="0.6"/><polygon points="452.2,186.5 456.2,186.9 452.2,185.8 448.2,185.4" fill="#922018" stroke="#922018" stroke-width="0.6"/><polygon points="456.3,187.6 460.3,188.0 456.2,186.9 452.2,186.5" fill="#8f1f18" stroke="#8f1f18" stroke-width="0.6"/><polygon points="444.2,184.9 448.2,185.4 444.2,184.3 440.2,183.9" fill="#891a16" stroke="#891a16" stroke-width="0.6"/><polygon points="448.2,185.9 452.2,186.5 448.2,185.4 444.2,184.9" fill="#861915" stroke="#861915" stroke-width="0.6"/><polygon points="452.2,187.0 456.3,187.6 452.2,186.5 448.2,185.9" fill="#831815" stroke="#831815" stroke-width="0.6"/><polygon points="452.2,187.0 454.3,187.3 456.3,187.6 458.3,187.8 460.3,188.0 462.3,188.2 464.3,188.3 462.3,187.7 460.2,187.2 458.2,186.6 456.2,186.0 454.2,185.5 452.2,184.9 450.2,184.8 448.2,184.7 446.2,184.5 444.2,184.3 442.2,184.1 440.2,183.9 442.2,184.4 444.2,184.9 446.2,185.4 448.2,185.9 450.2,186.5" class="o"/><polygon points="476.2,189.7 480.2,189.6 476.1,188.4 472.2,188.5" fill="#bb3d24" stroke="#bb3d24" stroke-width="0.6"/><polygon points="480.3,190.8 484.2,190.8 480.2,189.6 476.2,189.7" fill="#b83c23" stroke="#b83c23" stroke-width="0.6"/><polygon points="484.4,192.0 488.3,192.0 484.2,190.8 480.3,190.8" fill="#b53b23" stroke="#b53b23" stroke-width="0.6"/><polygon points="472.3,189.6 476.2,189.7 472.2,188.5 468.2,188.4" fill="#af3521" stroke="#af3521" stroke-width="0.6"/><polygon points="476.3,190.7 480.3,190.8 476.2,189.7 472.3,189.6" fill="#ac3420" stroke="#ac3420" stroke-width="0.6"/><polygon points="480.4,191.9 484.4,192.0 480.3,190.8 476.3,190.7" fill="#a93320" stroke="#a93320" stroke-width="0.6"/><polygon points="468.3,189.4 472.3,189.6 468.2,188.4 464.3,188.3" fill="#a32d1d" stroke="#a32d1d" stroke-width="0.6"/><polygon points="472.4,190.5 476.3,190.7 472.3,189.6 468.3,189.4" fill="#a02d1d" stroke="#a02d1d" stroke-width="0.6"/><polygon points="476.5,191.6 480.4,191.9 476.3,190.7 472.4,190.5" fill="#9d2c1c" stroke="#9d2c1c" stroke-width="0.6"/><polygon points="476.5,191.6 478.4,191.8 480.4,191.9 482.4,191.9 484.4,192.0 486.3,192.0 488.3,192.0 486.3,191.4 484.2,190.8 482.2,190.2 480.2,189.6 478.1,189.0 476.1,188.4 474.2,188.4 472.2,188.5 470.2,188.5 468.2,188.4 466.3,188.4 464.3,188.3 466.3,188.8 468.3,189.4 470.3,190.0 472.4,190.5 474.4,191.1" class="o"/><polygon points="500.2,192.8 504.1,192.4 500.0,191.1 496.1,191.5" fill="#d6522c" stroke="#d6522c" stroke-width="0.6"/><polygon points="504.3,194.0 508.2,193.6 504.1,192.4 500.2,192.8" fill="#d3512c" stroke="#d3512c" stroke-width="0.6"/><polygon points="508.4,195.2 512.3,194.9 508.2,193.6 504.3,194.0" fill="#d0502b" stroke="#d0502b" stroke-width="0.6"/><polygon points="496.3,193.0 500.2,192.8 496.1,191.5 492.2,191.8" fill="#ca4a29" stroke="#ca4a29" stroke-width="0.6"/><polygon points="500.4,194.2 504.3,194.0 500.2,192.8 496.3,193.0" fill="#c74928" stroke="#c74928" stroke-width="0.6"/><polygon points="504.5,195.4 508.4,195.2 504.3,194.0 500.4,194.2" fill="#c44928" stroke="#c44928" stroke-width="0.6"/><polygon points="492.4,193.1 496.3,193.0 492.2,191.8 488.3,192.0" fill="#be4226" stroke="#be4226" stroke-width="0.6"/><polygon points="496.5,194.3 500.4,194.2 496.3,193.0 492.4,193.1" fill="#bb4125" stroke="#bb4125" stroke-width="0.6"/><polygon points="500.6,195.5 504.5,195.4 500.4,194.2 496.5,194.3" fill="#b84124" stroke="#b84124" stroke-width="0.6"/><polygon points="500.6,195.5 502.6,195.5 504.5,195.4 506.5,195.3 508.4,195.2 510.4,195.1 512.3,194.9 510.2,194.2 508.2,193.6 506.1,193.0 504.1,192.4 502.0,191.7 500.0,191.1 498.0,191.3 496.1,191.5 494.1,191.7 492.2,191.8 490.3,191.9 488.3,192.0 490.3,192.5 492.4,193.1 494.4,193.7 496.5,194.3 498.6,194.9" class="o"/><polygon points="524.1,195.1 527.9,194.4 523.8,193.1 520.0,193.8" fill="#f06634" stroke="#f06634" stroke-width="0.6"/><polygon points="528.3,196.4 532.1,195.7 527.9,194.4 524.1,195.1" fill="#ed6634" stroke="#ed6634" stroke-width="0.6"/><polygon points="532.5,197.7 536.3,197.0 532.1,195.7 528.3,196.4" fill="#ea6533" stroke="#ea6533" stroke-width="0.6"/><polygon points="520.3,195.7 524.1,195.1 520.0,193.8 516.1,194.4" fill="#e45f31" stroke="#e45f31" stroke-width="0.6"/><polygon points="524.5,196.9 528.3,196.4 524.1,195.1 520.3,195.7" fill="#e15e30" stroke="#e15e30" stroke-width="0.6"/><polygon points="528.6,198.2 532.5,197.7 528.3,196.4 524.5,196.9" fill="#de5e30" stroke="#de5e30" stroke-width="0.6"/><polygon points="516.4,196.1 520.3,195.7 516.1,194.4 512.3,194.9" fill="#d8572e" stroke="#d8572e" stroke-width="0.6"/><polygon points="520.6,197.3 524.5,196.9 520.3,195.7 516.4,196.1" fill="#d5572d" stroke="#d5572d" stroke-width="0.6"/><polygon points="524.8,198.6 528.6,198.2 524.5,196.9 520.6,197.3" fill="#d2562d" stroke="#d2562d" stroke-width="0.6"/><polygon points="524.8,198.6 526.7,198.4 528.6,198.2 530.6,197.9 532.5,197.7 534.4,197.4 536.3,197.0 534.2,196.4 532.1,195.7 530.0,195.1 527.9,194.4 525.9,193.7 523.8,193.1 521.9,193.5 520.0,193.8 518.1,194.1 516.1,194.4 514.2,194.6 512.3,194.9 514.4,195.5 516.4,196.1 518.5,196.7 520.6,197.3 522.7,198.0" class="o"/><polygon points="548.1,196.7 551.8,195.7 547.6,194.3 543.9,195.3" fill="#ff753c" stroke="#ff753c" stroke-width="0.6"/><polygon points="552.3,198.0 556.0,197.0 551.8,195.7 548.1,196.7" fill="#ff763c" stroke="#ff763c" stroke-width="0.6"/><polygon points="556.5,199.4 560.3,198.4 556.0,197.0 552.3,198.0" fill="#ff773b" stroke="#ff773b" stroke-width="0.6"/><polygon points="544.3,197.6 548.1,196.7 543.9,195.3 540.1,196.2" fill="#ff7239" stroke="#ff7239" stroke-width="0.6"/><polygon points="548.5,198.9 552.3,198.0 548.1,196.7 544.3,197.6" fill="#fc7238" stroke="#fc7238" stroke-width="0.6"/><polygon points="552.7,200.2 556.5,199.4 552.3,198.0 548.5,198.9" fill="#f97138" stroke="#f97138" stroke-width="0.6"/><polygon points="540.5,198.3 544.3,197.6 540.1,196.2 536.3,197.0" fill="#f36c36" stroke="#f36c36" stroke-width="0.6"/><polygon points="544.7,199.6 548.5,198.9 544.3,197.6 540.5,198.3" fill="#f06b35" stroke="#f06b35" stroke-width="0.6"/><polygon points="548.9,200.9 552.7,200.2 548.5,198.9 544.7,199.6" fill="#ed6a35" stroke="#ed6a35" stroke-width="0.6"/><polygon points="548.9,200.9 550.8,200.6 552.7,200.2 554.6,199.8 556.5,199.4 558.4,198.9 560.3,198.4 558.2,197.7 556.0,197.0 553.9,196.4 551.8,195.7 549.7,195.0 547.6,194.3 545.7,194.8 543.9,195.3 542.0,195.8 540.1,196.2 538.2,196.6 536.3,197.0 538.4,197.7 540.5,198.3 542.6,199.0 544.7,199.6 546.8,200.3" class="o"/><polygon points="572.0,197.5 575.7,196.2 571.5,194.8 567.8,196.1" fill="#ff7e45" stroke="#ff7e45" stroke-width="0.6"/><polygon points="576.3,198.9 580.0,197.6 575.7,196.2 572.0,197.5" fill="#ff7f44" stroke="#ff7f44" stroke-width="0.6"/><polygon points="580.6,200.3 584.3,199.0 580.0,197.6 576.3,198.9" fill="#ff7f44" stroke="#ff7f44" stroke-width="0.6"/><polygon points="568.3,198.7 572.0,197.5 567.8,196.1 564.0,197.3" fill="#ff7c42" stroke="#ff7c42" stroke-width="0.6"/><polygon points="572.5,200.1 576.3,198.9 572.0,197.5 568.3,198.7" fill="#ff7d41" stroke="#ff7d41" stroke-width="0.6"/><polygon points="576.8,201.5 580.6,200.3 576.3,198.9 572.5,200.1" fill="#ff7d40" stroke="#ff7d40" stroke-width="0.6"/><polygon points="564.5,199.8 568.3,198.7 564.0,197.3 560.3,198.4" fill="#ff7a3e" stroke="#ff7a3e" stroke-width="0.6"/><polygon points="568.8,201.1 572.5,200.1 568.3,198.7 564.5,199.8" fill="#ff7a3e" stroke="#ff7a3e" stroke-width="0.6"/><polygon points="573.1,202.5 576.8,201.5 572.5,200.1 568.8,201.1" fill="#ff7b3d" stroke="#ff7b3d" stroke-width="0.6"/><polygon points="573.1,202.5 575.0,202.0 576.8,201.5 578.7,200.9 580.6,200.3 582.4,199.7 584.3,199.0 582.1,198.3 580.0,197.6 577.8,196.9 575.7,196.2 573.6,195.5 571.5,194.8 569.6,195.4 567.8,196.1 565.9,196.7 564.0,197.3 562.1,197.9 560.3,198.4 562.4,199.1 564.5,199.8 566.7,200.4 568.8,201.1 570.9,201.8" class="o"/><polygon points="342.4,189.6 355.3,186.2 343.9,182.9 331.0,186.2" fill="#ff2626" class="m"/><polygon points="366.8,189.6 379.5,186.2 368.0,182.9 355.3,186.2" fill="#ff2626" class="m"/><polygon points="391.2,189.6 403.7,186.2 392.0,182.9 379.5,186.2" fill="#ff2626" class="m"/><polygon points="415.6,189.5 428.0,186.2 416.1,182.9 403.7,186.2" fill="#ff2626" class="m"/><polygon points="440.1,185.1 444.2,184.9 440.2,183.9 436.1,184.0" fill="#7f1313" stroke="#7f1313" stroke-width="0.6"/><polygon points="444.2,186.2 448.2,185.9 444.2,184.9 440.1,185.1" fill="#801313" stroke="#801313" stroke-width="0.6"/><polygon points="448.2,187.3 452.2,187.0 448.2,185.9 444.2,186.2" fill="#ff2626" stroke="#ff2626" stroke-width="0.6"/><polygon points="436.1,186.2 440.1,185.1 436.1,184.0 432.1,185.1" fill="#ff2626" stroke="#ff2626" stroke-width="0.6"/><polygon points="440.1,187.3 444.2,186.2 440.1,185.1 436.1,186.2" fill="#ff2626" stroke="#ff2626" stroke-width="0.6"/><polygon points="444.1,188.4 448.2,187.3 444.2,186.2 440.1,187.3" fill="#ff2626" stroke="#ff2626" stroke-width="0.6"/><polygon points="432.0,187.3 436.1,186.2 432.1,185.1 428.0,186.2" fill="#ff2626" stroke="#ff2626" stroke-width="0.6"/><polygon points="436.0,188.4 440.1,187.3 436.1,186.2 432.0,187.3" fill="#ff2626" stroke="#ff2626" stroke-width="0.6"/><polygon points="440.0,189.5 444.1,188.4 440.1,187.3 436.0,188.4" fill="#ff2626" stroke="#ff2626" stroke-width="0.6"/><polygon points="440.0,189.5 442.1,189.0 444.1,188.4 446.2,187.8 448.2,187.3 450.2,186.7 452.2,187.0 450.2,186.5 448.2,185.9 446.2,185.4 444.2,184.9 442.2,184.4 440.2,183.9 438.2,183.6 436.1,184.0 434.1,184.5 432.1,185.1 430.0,185.6 428.0,186.2 430.0,186.7 432.0,187.3 434.0,187.9 436.0,188.4 438.0,189.0" class="o"/><polygon points="464.3,189.1 468.3,189.4 464.3,188.3 460.3,188.0" fill="#98261a" stroke="#98261a" stroke-width="0.6"/><polygon points="468.4,190.2 472.4,190.5 468.3,189.4 464.3,189.1" fill="#94251a" stroke="#94251a" stroke-width="0.6"/><polygon points="472.5,191.2 476.5,191.6 472.4,190.5 468.4,190.2" fill="#912419" stroke="#912419" stroke-width="0.6"/><polygon points="460.3,188.6 464.3,189.1 460.3,188.0 456.3,187.6" fill="#8c1e17" stroke="#8c1e17" stroke-width="0.6"/><polygon points="464.4,189.7 468.4,190.2 464.3,189.1 460.3,188.6" fill="#881e17" stroke="#881e17" stroke-width="0.6"/><polygon points="468.5,190.7 472.5,191.2 468.4,190.2 464.4,189.7" fill="#851d16" stroke="#851d16" stroke-width="0.6"/><polygon points="456.3,188.0 460.3,188.6 456.3,187.6 452.2,187.0" fill="#801714" stroke="#801714" stroke-width="0.6"/><polygon points="460.4,189.0 464.4,189.7 460.3,188.6 456.3,188.0" fill="#801714" stroke="#801714" stroke-width="0.6"/><polygon points="464.4,190.1 468.5,190.7 464.4,189.7 460.4,189.0" fill="#801714" stroke="#801714" stroke-width="0.6"/><polygon points="464.4,190.1 466.5,190.4 468.5,190.7 470.5,191.0 472.5,191.2 474.5,191.4 476.5,191.6 474.4,191.1 472.4,190.5 470.3,190.0 468.3,189.4 466.3,188.8 464.3,188.3 462.3,188.2 460.3,188.0 458.3,187.8 456.3,187.6 454.3,187.3 452.2,187.0 454.3,187.5 456.3,188.0 458.3,188.5 460.4,189.0 462.4,189.6" class="o"/><polygon points="488.5,193.1 492.4,193.1 488.3,192.0 484.4,192.0" fill="#b23a22" stroke="#b23a22" stroke-width="0.6"/><polygon points="492.6,194.3 496.5,194.3 492.4,193.1 488.5,193.1" fill="#af3a22" stroke="#af3a22" stroke-width="0.6"/><polygon points="496.7,195.4 500.6,195.5 496.5,194.3 492.6,194.3" fill="#ac3921" stroke="#ac3921" stroke-width="0.6"/><polygon points="484.5,193.0 488.5,193.1 484.4,192.0 480.4,191.9" fill="#a6331f" stroke="#a6331f" stroke-width="0.6"/><polygon points="488.6,194.1 492.6,194.3 488.5,193.1 484.5,193.0" fill="#a3321e" stroke="#a3321e" stroke-width="0.6"/><polygon points="492.8,195.2 496.7,195.4 492.6,194.3 488.6,194.1" fill="#a0311e" stroke="#a0311e" stroke-width="0.6"/><polygon points="480.6,192.7 484.5,193.0 480.4,191.9 476.5,191.6" fill="#9a2b1c" stroke="#9a2b1c" stroke-width="0.6"/><polygon points="484.7,193.8 488.6,194.1 484.5,193.0 480.6,192.7" fill="#972a1b" stroke="#972a1b" stroke-width="0.6"/><polygon points="488.8,194.9 492.8,195.2 488.6,194.1 484.7,193.8" fill="#94291b" stroke="#94291b" stroke-width="0.6"/><polygon points="488.8,194.9 490.8,195.1 492.8,195.2 494.8,195.3 496.7,195.4 498.7,195.5 500.6,195.5 498.6,194.9 496.5,194.3 494.4,193.7 492.4,193.1 490.3,192.5 488.3,192.0 486.3,192.0 484.4,192.0 482.4,191.9 480.4,191.9 478.4,191.8 476.5,191.6 478.5,192.2 480.6,192.7 482.6,193.3 484.7,193.8 486.8,194.3" class="o"/><polygon points="512.6,196.4 516.4,196.1 512.3,194.9 508.4,195.2" fill="#cd502a" stroke="#cd502a" stroke-width="0.6"/><polygon points="516.8,197.6 520.6,197.3 516.4,196.1 512.6,196.4" fill="#c94f2a" stroke="#c94f2a" stroke-width="0.6"/><polygon points="520.9,198.8 524.8,198.6 520.6,197.3 516.8,197.6" fill="#c64e29" stroke="#c64e29" stroke-width="0.6"/><polygon points="508.7,196.6 512.6,196.4 508.4,195.2 504.5,195.4" fill="#c14827" stroke="#c14827" stroke-width="0.6"/><polygon points="512.9,197.8 516.8,197.6 512.6,196.4 508.7,196.6" fill="#be4727" stroke="#be4727" stroke-width="0.6"/><polygon points="517.1,199.0 520.9,198.8 516.8,197.6 512.9,197.8" fill="#ba4626" stroke="#ba4626" stroke-width="0.6"/><polygon points="504.8,196.6 508.7,196.6 504.5,195.4 500.6,195.5" fill="#b54024" stroke="#b54024" stroke-width="0.6"/><polygon points="509.0,197.8 512.9,197.8 508.7,196.6 504.8,196.6" fill="#b23f23" stroke="#b23f23" stroke-width="0.6"/><polygon points="513.2,198.9 517.1,199.0 512.9,197.8 509.0,197.8" fill="#ae3e23" stroke="#ae3e23" stroke-width="0.6"/><polygon points="513.2,198.9 515.1,199.0 517.1,199.0 519.0,198.9 520.9,198.8 522.9,198.7 524.8,198.6 522.7,198.0 520.6,197.3 518.5,196.7 516.4,196.1 514.4,195.5 512.3,194.9 510.4,195.1 508.4,195.2 506.5,195.3 504.5,195.4 502.6,195.5 500.6,195.5 502.7,196.1 504.8,196.6 506.9,197.2 509.0,197.8 511.1,198.4" class="o"/><polygon points="536.7,198.9 540.5,198.3 536.3,197.0 532.5,197.7" fill="#e76433" stroke="#e76433" stroke-width="0.6"/><polygon points="540.9,200.2 544.7,199.6 540.5,198.3 536.7,198.9" fill="#e46432" stroke="#e46432" stroke-width="0.6"/><polygon points="545.1,201.5 548.9,200.9 544.7,199.6 540.9,200.2" fill="#e16332" stroke="#e16332" stroke-width="0.6"/><polygon points="532.9,199.4 536.7,198.9 532.5,197.7 528.6,198.2" fill="#db5d2f" stroke="#db5d2f" stroke-width="0.6"/><polygon points="537.1,200.7 540.9,200.2 536.7,198.9 532.9,199.4" fill="#d85c2f" stroke="#d85c2f" stroke-width="0.6"/><polygon points="541.3,201.9 545.1,201.5 540.9,200.2 537.1,200.7" fill="#d55b2e" stroke="#d55b2e" stroke-width="0.6"/><polygon points="529.0,199.8 532.9,199.4 528.6,198.2 524.8,198.6" fill="#cf552c" stroke="#cf552c" stroke-width="0.6"/><polygon points="533.2,201.0 537.1,200.7 532.9,199.4 529.0,199.8" fill="#cc542c" stroke="#cc542c" stroke-width="0.6"/><polygon points="537.5,202.2 541.3,201.9 537.1,200.7 533.2,201.0" fill="#c9532b" stroke="#c9532b" stroke-width="0.6"/><polygon points="537.5,202.2 539.4,202.1 541.3,201.9 543.2,201.7 545.1,201.5 547.0,201.2 548.9,200.9 546.8,200.3 544.7,199.6 542.6,199.0 540.5,198.3 538.4,197.7 536.3,197.0 534.4,197.4 532.5,197.7 530.6,197.9 528.6,198.2 526.7,198.4 524.8,198.6 526.9,199.2 529.0,199.8 531.1,200.4 533.2,201.0 535.4,201.6" class="o"/><polygon points="560.8,200.7 564.5,199.8 560.3,198.4 556.5,199.4" fill="#ff773b" stroke="#ff773b" stroke-width="0.6"/><polygon points="565.0,202.0 568.8,201.1 564.5,199.8 560.8,200.7" fill="#fe773a" stroke="#fe773a" stroke-width="0.6"/><polygon points="569.3,203.4 573.1,202.5 568.8,201.1 565.0,202.0" fill="#fb773a" stroke="#fb773a" stroke-width="0.6"/><polygon points="557.0,201.5 560.8,200.7 556.5,199.4 552.7,200.2" fill="#f67137" stroke="#f67137" stroke-width="0.6"/><polygon points="561.3,202.8 565.0,202.0 560.8,200.7 557.0,201.5" fill="#f37037" stroke="#f37037" stroke-width="0.6"/><polygon points="565.6,204.1 569.3,203.4 565.0,202.0 561.3,202.8" fill="#ef7036" stroke="#ef7036" stroke-width="0.6"/><polygon points="553.2,202.2 557.0,201.5 552.7,200.2 548.9,200.9" fill="#ea6a34" stroke="#ea6a34" stroke-width="0.6"/><polygon points="557.5,203.5 561.3,202.8 557.0,201.5 553.2,202.2" fill="#e76934" stroke="#e76934" stroke-width="0.6"/><polygon points="561.8,204.7 565.6,204.1 561.3,202.8 557.5,203.5" fill="#e46833" stroke="#e46833" stroke-width="0.6"/><polygon points="561.8,204.7 563.7,204.4 565.6,204.1 567.5,203.8 569.3,203.4 571.2,202.9 573.1,202.5 570.9,201.8 568.8,201.1 566.7,200.4 564.5,199.8 562.4,199.1 560.3,198.4 558.4,198.9 556.5,199.4 554.6,199.8 552.7,200.2 550.8,200.6 548.9,200.9 551.1,201.6 553.2,202.2 555.3,202.8 557.5,203.5 559.6,204.1" class="o"/><polygon points="353.9,193.0 366.8,189.6 355.3,186.2 342.4,189.6" fill="#ff2626" class="m"/><polygon points="378.5,193.0 391.2,189.6 379.5,186.2 366.8,189.6" fill="#ff2626" class="m"/><polygon points="403.1,192.9 415.6,189.5 403.7,186.2 391.2,189.6" fill="#ff2626" class="m"/><polygon points="427.6,192.9 440.0,189.5 428.0,186.2 415.6,189.5" fill="#ff2626" class="m"/><polygon points="452.2,188.4 456.3,188.0 452.2,187.0 448.2,187.3" fill="#ff2626" stroke="#ff2626" stroke-width="0.6"/><polygon points="456.3,189.5 460.4,189.0 456.3,188.0 452.2,188.4" fill="#ff2626" stroke="#ff2626" stroke-width="0.6"/><polygon points="460.4,190.6 464.4,190.1 460.4,189.0 456.3,189.5" fill="#ff2626" stroke="#ff2626" stroke-width="0.6"/><polygon points="448.2,189.5 452.2,188.4 448.2,187.3 444.1,188.4" fill="#ff2626" stroke="#ff2626" stroke-width="0.6"/><polygon points="452.2,190.7 456.3,189.5 452.2,188.4 448.2,189.5" fill="#ff2626" stroke="#ff2626" stroke-width="0.6"/><polygon points="456.3,191.8 460.4,190.6 456.3,189.5 452.2,190.7" fill="#ff2626" stroke="#ff2626" stroke-width="0.6"/><polygon points="444.1,190.7 448.2,189.5 444.1,188.4 440.0,189.5" fill="#ff2626" stroke="#ff2626" stroke-width="0.6"/><polygon points="448.1,191.8 452.2,190.7 448.2,189.5 444.1,190.7" fill="#ff2626" stroke="#ff2626" stroke-width="0.6"/><polygon points="452.2,192.9 456.3,191.8 452.2,190.7 448.1,191.8" fill="#ff2626" stroke="#ff2626" stroke-width="0.6"/><polygon points="452.2,192.9 454.3,192.4 456.3,191.8 458.4,191.2 460.4,190.6 462.4,190.1 464.4,190.1 462.4,189.6 460.4,189.0 458.3,188.5 456.3,188.0 454.3,187.5 452.2,187.0 450.2,186.7 448.2,187.3 446.2,187.8 444.1,188.4 442.1,189.0 440.0,189.5 442.0,190.1 444.1,190.7 446.1,191.2 448.1,191.8 450.2,192.4" class="o"/><polygon points="476.6,192.3 480.6,192.7 476.5,191.6 472.5,191.2" fill="#8e2319" stroke="#8e2319" stroke-width="0.6"/><polygon points="480.7,193.4 484.7,193.8 480.6,192.7 476.6,192.3" fill="#8b2218" stroke="#8b2218" stroke-width="0.6"/><polygon points="484.8,194.4 488.8,194.9 484.7,193.8 480.7,193.4" fill="#882117" stroke="#882117" stroke-width="0.6"/><polygon points="472.6,191.8 476.6,192.3 472.5,191.2 468.5,190.7" fill="#821c16" stroke="#821c16" stroke-width="0.6"/><polygon points="476.7,192.8 480.7,193.4 476.6,192.3 472.6,191.8" fill="#801b15" stroke="#801b15" stroke-width="0.6"/><polygon points="480.8,193.8 484.8,194.4 480.7,193.4 476.7,192.8" fill="#801b15" stroke="#801b15" stroke-width="0.6"/><polygon points="468.6,191.1 472.6,191.8 468.5,190.7 464.4,190.1" fill="#801714" stroke="#801714" stroke-width="0.6"/><polygon points="472.7,192.1 476.7,192.8 472.6,191.8 468.6,191.1" fill="#801614" stroke="#801614" stroke-width="0.6"/><polygon points="476.8,193.1 480.8,193.8 476.7,192.8 472.7,192.1" fill="#7f1614" stroke="#7f1614" stroke-width="0.6"/><polygon points="476.8,193.1 478.8,193.5 480.8,193.8 482.8,194.1 484.8,194.4 486.8,194.7 488.8,194.9 486.8,194.3 484.7,193.8 482.6,193.3 480.6,192.7 478.5,192.2 476.5,191.6 474.5,191.4 472.5,191.2 470.5,191.0 468.5,190.7 466.5,190.4 464.4,190.1 466.5,190.6 468.6,191.1 470.6,191.6 472.7,192.1 474.7,192.6" class="o"/><polygon points="500.9,196.6 504.8,196.6 500.6,195.5 496.7,195.4" fill="#a93821" stroke="#a93821" stroke-width="0.6"/><polygon points="505.1,197.7 509.0,197.8 504.8,196.6 500.9,196.6" fill="#a63720" stroke="#a63720" stroke-width="0.6"/><polygon points="509.2,198.8 513.2,198.9 509.0,197.8 505.1,197.7" fill="#a3361f" stroke="#a3361f" stroke-width="0.6"/><polygon points="496.9,196.3 500.9,196.6 496.7,195.4 492.8,195.2" fill="#9d301d" stroke="#9d301d" stroke-width="0.6"/><polygon points="501.1,197.4 505.1,197.7 500.9,196.6 496.9,196.3" fill="#9a2f1d" stroke="#9a2f1d" stroke-width="0.6"/><polygon points="505.3,198.5 509.2,198.8 505.1,197.7 501.1,197.4" fill="#972e1c" stroke="#972e1c" stroke-width="0.6"/><polygon points="493.0,196.0 496.9,196.3 492.8,195.2 488.8,194.9" fill="#91281a" stroke="#91281a" stroke-width="0.6"/><polygon points="497.2,197.0 501.1,197.4 496.9,196.3 493.0,196.0" fill="#8e2719" stroke="#8e2719" stroke-width="0.6"/><polygon points="501.4,198.1 505.3,198.5 501.1,197.4 497.2,197.0" fill="#8b2619" stroke="#8b2619" stroke-width="0.6"/><polygon points="501.4,198.1 503.3,198.3 505.3,198.5 507.3,198.7 509.2,198.8 511.2,198.9 513.2,198.9 511.1,198.4 509.0,197.8 506.9,197.2 504.8,196.6 502.7,196.1 500.6,195.5 498.7,195.5 496.7,195.4 494.8,195.3 492.8,195.2 490.8,195.1 488.8,194.9 490.9,195.4 493.0,196.0 495.1,196.5 497.2,197.0 499.3,197.6" class="o"/><polygon points="525.1,200.0 529.0,199.8 524.8,198.6 520.9,198.8" fill="#c34d29" stroke="#c34d29" stroke-width="0.6"/><polygon points="529.4,201.2 533.2,201.0 529.0,199.8 525.1,200.0" fill="#c04c28" stroke="#c04c28" stroke-width="0.6"/><polygon points="533.6,202.4 537.5,202.2 533.2,201.0 529.4,201.2" fill="#bd4b28" stroke="#bd4b28" stroke-width="0.6"/><polygon points="521.3,200.1 525.1,200.0 520.9,198.8 517.1,199.0" fill="#b74525" stroke="#b74525" stroke-width="0.6"/><polygon points="525.5,201.3 529.4,201.2 525.1,200.0 521.3,200.1" fill="#b44425" stroke="#b44425" stroke-width="0.6"/><polygon points="529.8,202.4 533.6,202.4 529.4,201.2 525.5,201.3" fill="#b14324" stroke="#b14324" stroke-width="0.6"/><polygon points="517.4,200.1 521.3,200.1 517.1,199.0 513.2,198.9" fill="#ab3d22" stroke="#ab3d22" stroke-width="0.6"/><polygon points="521.6,201.2 525.5,201.3 521.3,200.1 517.4,200.1" fill="#a83c21" stroke="#a83c21" stroke-width="0.6"/><polygon points="525.9,202.3 529.8,202.4 525.5,201.3 521.6,201.2" fill="#a53b21" stroke="#a53b21" stroke-width="0.6"/><polygon points="525.9,202.3 527.8,202.4 529.8,202.4 531.7,202.4 533.6,202.4 535.6,202.3 537.5,202.2 535.4,201.6 533.2,201.0 531.1,200.4 529.0,199.8 526.9,199.2 524.8,198.6 522.9,198.7 520.9,198.8 519.0,198.9 517.1,199.0 515.1,199.0 513.2,198.9 515.3,199.5 517.4,200.1 519.5,200.7 521.6,201.2 523.7,201.8" class="o"/><polygon points="549.4,202.7 553.2,202.2 548.9,200.9 545.1,201.5" fill="#de6231" stroke="#de6231" stroke-width="0.6"/><polygon points="553.7,204.0 557.5,203.5 553.2,202.2 549.4,202.7" fill="#db6131" stroke="#db6131" stroke-width="0.6"/><polygon points="558.0,205.2 561.8,204.7 557.5,203.5 553.7,204.0" fill="#d86030" stroke="#d86030" stroke-width="0.6"/><polygon points="545.6,203.2 549.4,202.7 545.1,201.5 541.3,201.9" fill="#d25a2e" stroke="#d25a2e" stroke-width="0.6"/><polygon points="549.9,204.4 553.7,204.0 549.4,202.7 545.6,203.2" fill="#cf592d" stroke="#cf592d" stroke-width="0.6"/><polygon points="554.2,205.6 558.0,205.2 553.7,204.0 549.9,204.4" fill="#cc582d" stroke="#cc582d" stroke-width="0.6"/><polygon points="541.7,203.4 545.6,203.2 541.3,201.9 537.5,202.2" fill="#c6522a" stroke="#c6522a" stroke-width="0.6"/><polygon points="546.0,204.6 549.9,204.4 545.6,203.2 541.7,203.4" fill="#c3512a" stroke="#c3512a" stroke-width="0.6"/><polygon points="550.3,205.8 554.2,205.6 549.9,204.4 546.0,204.6" fill="#c05029" stroke="#c05029" stroke-width="0.6"/><polygon points="550.3,205.8 552.3,205.7 554.2,205.6 556.1,205.4 558.0,205.2 559.9,205.0 561.8,204.7 559.6,204.1 557.5,203.5 555.3,202.8 553.2,202.2 551.1,201.6 548.9,200.9 547.0,201.2 545.1,201.5 543.2,201.7 541.3,201.9 539.4,202.1 537.5,202.2 539.6,202.8 541.7,203.4 543.9,204.0 546.0,204.6 548.2,205.2" class="o"/><polygon points="365.6,196.4 378.5,193.0 366.8,189.6 353.9,193.0" fill="#ff2626" class="m"/><polygon points="390.3,196.4 403.1,192.9 391.2,189.6 378.5,193.0" fill="#ff2626" class="m"/><polygon points="415.1,196.4 427.6,192.9 415.6,189.5 403.1,192.9" fill="#ff2626" class="m"/><polygon points="439.9,196.4 452.2,192.9 440.0,189.5 427.6,192.9" fill="#ff2626" class="m"/><polygon points="464.5,191.8 468.6,191.1 464.4,190.1 460.4,190.6" fill="#ff2626" stroke="#ff2626" stroke-width="0.6"/><polygon points="468.6,192.9 472.7,192.1 468.6,191.1 464.5,191.8" fill="#ff2626" stroke="#ff2626" stroke-width="0.6"/><polygon points="472.8,194.1 476.8,193.1 472.7,192.1 468.6,192.9" fill="#ff2626" stroke="#ff2626" stroke-width="0.6"/><polygon points="460.4,192.9 464.5,191.8 460.4,190.6 456.3,191.8" fill="#ff2626" stroke="#ff2626" stroke-width="0.6"/><polygon points="464.6,194.1 468.6,192.9 464.5,191.8 460.4,192.9" fill="#ff2626" stroke="#ff2626" stroke-width="0.6"/><polygon points="468.7,195.2 472.8,194.1 468.6,192.9 464.6,194.1" fill="#ff2626" stroke="#ff2626" stroke-width="0.6"/><polygon points="456.3,194.1 460.4,192.9 456.3,191.8 452.2,192.9" fill="#ff2626" stroke="#ff2626" stroke-width="0.6"/><polygon points="460.5,195.2 464.6,194.1 460.4,192.9 456.3,194.1" fill="#ff2626" stroke="#ff2626" stroke-width="0.6"/><polygon points="464.6,196.4 468.7,195.2 464.6,194.1 460.5,195.2" fill="#ff2626" stroke="#ff2626" stroke-width="0.6"/><polygon points="464.6,196.4 466.7,195.8 468.7,195.2 470.7,194.6 472.8,194.1 474.8,193.5 476.8,193.1 474.7,192.6 472.7,192.1 470.6,191.6 468.6,191.1 466.5,190.6 464.4,190.1 462.4,190.1 460.4,190.6 458.4,191.2 456.3,191.8 454.3,192.4 452.2,192.9 454.3,193.5 456.3,194.1 458.4,194.6 460.5,195.2 462.5,195.8" class="o"/><polygon points="489.0,195.5 493.0,196.0 488.8,194.9 484.8,194.4" fill="#852017" stroke="#852017" stroke-width="0.6"/><polygon points="493.2,196.5 497.2,197.0 493.0,196.0 489.0,195.5" fill="#821f16" stroke="#821f16" stroke-width="0.6"/><polygon points="497.4,197.5 501.4,198.1 497.2,197.0 493.2,196.5" fill="#801f16" stroke="#801f16" stroke-width="0.6"/><polygon points="485.0,194.8 489.0,195.5 484.8,194.4 480.8,193.8" fill="#801b15" stroke="#801b15" stroke-width="0.6"/><polygon points="489.2,195.8 493.2,196.5 489.0,195.5 485.0,194.8" fill="#801a15" stroke="#801a15" stroke-width="0.6"/><polygon points="493.4,196.8 497.4,197.5 493.2,196.5 489.2,195.8" fill="#7f1a15" stroke="#7f1a15" stroke-width="0.6"/><polygon points="481.0,194.1 485.0,194.8 480.8,193.8 476.8,193.1" fill="#801614" stroke="#801614" stroke-width="0.6"/><polygon points="485.2,195.2 489.2,195.8 485.0,194.8 481.0,194.1" fill="#801514" stroke="#801514" stroke-width="0.6"/><polygon points="489.4,196.4 493.4,196.8 489.2,195.8 485.2,195.2" fill="#801514" stroke="#801514" stroke-width="0.6"/><polygon points="489.4,196.4 491.4,196.4 493.4,196.8 495.4,197.2 497.4,197.5 499.4,197.8 501.4,198.1 499.3,197.6 497.2,197.0 495.1,196.5 493.0,196.0 490.9,195.4 488.8,194.9 486.8,194.7 484.8,194.4 482.8,194.1 480.8,193.8 478.8,193.5 476.8,193.1 478.9,193.6 481.0,194.1 483.1,194.6 485.2,195.2 487.3,195.8" class="o"/><polygon points="513.5,199.9 517.4,200.1 513.2,198.9 509.2,198.8" fill="#9f351f" stroke="#9f351f" stroke-width="0.6"/><polygon points="517.7,201.0 521.6,201.2 517.4,200.1 513.5,199.9" fill="#9c341e" stroke="#9c341e" stroke-width="0.6"/><polygon points="522.0,202.1 525.9,202.3 521.6,201.2 517.7,201.0" fill="#99321e" stroke="#99321e" stroke-width="0.6"/><polygon points="509.5,199.6 513.5,199.9 509.2,198.8 505.3,198.5" fill="#942d1b" stroke="#942d1b" stroke-width="0.6"/><polygon points="513.8,200.7 517.7,201.0 513.5,199.9 509.5,199.6" fill="#902c1b" stroke="#902c1b" stroke-width="0.6"/><polygon points="518.0,201.7 522.0,202.1 517.7,201.0 513.8,200.7" fill="#8d2a1a" stroke="#8d2a1a" stroke-width="0.6"/><polygon points="505.6,199.2 509.5,199.6 505.3,198.5 501.4,198.1" fill="#882518" stroke="#882518" stroke-width="0.6"/><polygon points="509.8,200.2 513.8,200.7 509.5,199.6 505.6,199.2" fill="#842418" stroke="#842418" stroke-width="0.6"/><polygon points="514.1,201.2 518.0,201.7 513.8,200.7 509.8,200.2" fill="#812317" stroke="#812317" stroke-width="0.6"/><polygon points="514.1,201.2 516.1,201.5 518.0,201.7 520.0,201.9 522.0,202.1 523.9,202.2 525.9,202.3 523.7,201.8 521.6,201.2 519.5,200.7 517.4,200.1 515.3,199.5 513.2,198.9 511.2,198.9 509.2,198.8 507.3,198.7 505.3,198.5 503.3,198.3 501.4,198.1 503.5,198.6 505.6,199.2 507.7,199.7 509.8,200.2 511.9,200.7" class="o"/><polygon points="537.9,203.6 541.7,203.4 537.5,202.2 533.6,202.4" fill="#ba4a27" stroke="#ba4a27" stroke-width="0.6"/><polygon points="542.2,204.8 546.0,204.6 541.7,203.4 537.9,203.6" fill="#b74926" stroke="#b74926" stroke-width="0.6"/><polygon points="546.5,205.9 550.3,205.8 546.0,204.6 542.2,204.8" fill="#b44826" stroke="#b44826" stroke-width="0.6"/><polygon points="534.0,203.6 537.9,203.6 533.6,202.4 529.8,202.4" fill="#ae4224" stroke="#ae4224" stroke-width="0.6"/><polygon points="538.3,204.7 542.2,204.8 537.9,203.6 534.0,203.6" fill="#ab4123" stroke="#ab4123" stroke-width="0.6"/><polygon points="542.6,205.9 546.5,205.9 542.2,204.8 538.3,204.7" fill="#a83f22" stroke="#a83f22" stroke-width="0.6"/><polygon points="530.1,203.5 534.0,203.6 529.8,202.4 525.9,202.3" fill="#a23920" stroke="#a23920" stroke-width="0.6"/><polygon points="534.4,204.6 538.3,204.7 534.0,203.6 530.1,203.5" fill="#9f3820" stroke="#9f3820" stroke-width="0.6"/><polygon points="538.7,205.7 542.6,205.9 538.3,204.7 534.4,204.6" fill="#9c371f" stroke="#9c371f" stroke-width="0.6"/><polygon points="538.7,205.7 540.7,205.8 542.6,205.9 544.6,205.9 546.5,205.9 548.4,205.9 550.3,205.8 548.2,205.2 546.0,204.6 543.9,204.0 541.7,203.4 539.6,202.8 537.5,202.2 535.6,202.3 533.6,202.4 531.7,202.4 529.8,202.4 527.8,202.4 525.9,202.3 528.0,202.9 530.1,203.5 532.3,204.0 534.4,204.6 536.6,205.1" class="o"/><polygon points="377.4,199.9 390.3,196.4 378.5,193.0 365.6,196.4" fill="#ff2626" class="m"/><polygon points="402.4,199.9 415.1,196.4 403.1,192.9 390.3,196.4" fill="#ff2626" class="m"/><polygon points="427.3,199.9 439.9,196.4 427.6,192.9 415.1,196.4" fill="#ff2626" class="m"/><polygon points="452.2,199.9 464.6,196.4 452.2,192.9 439.9,196.4" fill="#ff2626" class="m"/><polygon points="476.9,195.2 481.0,194.1 476.8,193.1 472.8,194.1" fill="#ff2626" stroke="#ff2626" stroke-width="0.6"/><polygon points="481.1,196.4 485.2,195.2 481.0,194.1 476.9,195.2" fill="#ff2626" stroke="#ff2626" stroke-width="0.6"/><polygon points="485.3,197.5 489.4,196.4 485.2,195.2 481.1,196.4" fill="#ff2626" stroke="#ff2626" stroke-width="0.6"/><polygon points="472.9,196.4 476.9,195.2 472.8,194.1 468.7,195.2" fill="#ff2626" stroke="#ff2626" stroke-width="0.6"/><polygon points="477.1,197.5 481.1,196.4 476.9,195.2 472.9,196.4" fill="#ff2626" stroke="#ff2626" stroke-width="0.6"/><polygon points="481.3,198.7 485.3,197.5 481.1,196.4 477.1,197.5" fill="#ff2626" stroke="#ff2626" stroke-width="0.6"/><polygon points="468.8,197.5 472.9,196.4 468.7,195.2 464.6,196.4" fill="#ff2626" stroke="#ff2626" stroke-width="0.6"/><polygon points="473.0,198.7 477.1,197.5 472.9,196.4 468.8,197.5" fill="#ff2626" stroke="#ff2626" stroke-width="0.6"/><polygon points="477.2,199.9 481.3,198.7 477.1,197.5 473.0,198.7" fill="#ff2626" stroke="#ff2626" stroke-width="0.6"/><polygon points="477.2,199.9 479.2,199.3 481.3,198.7 483.3,198.1 485.3,197.5 487.4,196.9 489.4,196.4 487.3,195.8 485.2,195.2 483.1,194.6 481.0,194.1 478.9,193.6 476.8,193.1 474.8,193.5 472.8,194.1 470.7,194.6 468.7,195.2 466.7,195.8 464.6,196.4 466.7,196.9 468.8,197.5 470.9,198.1 473.0,198.7 475.1,199.3" class="o"/><polygon points="501.6,198.6 505.6,199.2 501.4,198.1 497.4,197.5" fill="#801e16" stroke="#801e16" stroke-width="0.6"/><polygon points="505.9,199.6 509.8,200.2 505.6,199.2 501.6,198.6" fill="#801e16" stroke="#801e16" stroke-width="0.6"/><polygon points="510.1,200.6 514.1,201.2 509.8,200.2 505.9,199.6" fill="#801e16" stroke="#801e16" stroke-width="0.6"/><polygon points="497.6,197.8 501.6,198.6 497.4,197.5 493.4,196.8" fill="#801a15" stroke="#801a15" stroke-width="0.6"/><polygon points="501.9,198.8 505.9,199.6 501.6,198.6 497.6,197.8" fill="#801915" stroke="#801915" stroke-width="0.6"/><polygon points="506.1,199.8 510.1,200.6 505.9,199.6 501.9,198.8" fill="#801914" stroke="#801914" stroke-width="0.6"/><polygon points="493.6,197.5 497.6,197.8 493.4,196.8 489.4,196.4" fill="#801413" stroke="#801413" stroke-width="0.6"/><polygon points="497.8,198.7 501.9,198.8 497.6,197.8 493.6,197.5" fill="#801413" stroke="#801413" stroke-width="0.6"/><polygon points="502.1,199.8 506.1,199.8 501.9,198.8 497.8,198.7" fill="#801313" stroke="#801313" stroke-width="0.6"/><polygon points="502.1,199.8 504.1,199.3 506.1,199.8 508.1,200.2 510.1,200.6 512.1,200.9 514.1,201.2 511.9,200.7 509.8,200.2 507.7,199.7 505.6,199.2 503.5,198.6 501.4,198.1 499.4,197.8 497.4,197.5 495.4,197.2 493.4,196.8 491.4,196.4 489.4,196.4 491.5,196.9 493.6,197.5 495.7,198.1 497.8,198.7 500.0,199.3" class="o"/><polygon points="526.2,203.2 530.1,203.5 525.9,202.3 522.0,202.1" fill="#96311d" stroke="#96311d" stroke-width="0.6"/><polygon points="530.5,204.3 534.4,204.6 530.1,203.5 526.2,203.2" fill="#93301c" stroke="#93301c" stroke-width="0.6"/><polygon points="534.8,205.4 538.7,205.7 534.4,204.6 530.5,204.3" fill="#902f1c" stroke="#902f1c" stroke-width="0.6"/><polygon points="522.3,202.8 526.2,203.2 522.0,202.1 518.0,201.7" fill="#8a291a" stroke="#8a291a" stroke-width="0.6"/><polygon points="526.6,203.9 530.5,204.3 526.2,203.2 522.3,202.8" fill="#872819" stroke="#872819" stroke-width="0.6"/><polygon points="530.9,204.9 534.8,205.4 530.5,204.3 526.6,203.9" fill="#842718" stroke="#842718" stroke-width="0.6"/><polygon points="518.4,202.3 522.3,202.8 518.0,201.7 514.1,201.2" fill="#802217" stroke="#802217" stroke-width="0.6"/><polygon points="522.7,203.3 526.6,203.9 522.3,202.8 518.4,202.3" fill="#802217" stroke="#802217" stroke-width="0.6"/><polygon points="527.0,204.3 530.9,204.9 526.6,203.9 522.7,203.3" fill="#802116" stroke="#802116" stroke-width="0.6"/><polygon points="527.0,204.3 529.0,204.6 530.9,204.9 532.9,205.2 534.8,205.4 536.8,205.5 538.7,205.7 536.6,205.1 534.4,204.6 532.3,204.0 530.1,203.5 528.0,202.9 525.9,202.3 523.9,202.2 522.0,202.1 520.0,201.9 518.0,201.7 516.1,201.5 514.1,201.2 516.2,201.8 518.4,202.3 520.5,202.8 522.7,203.3 524.8,203.8" class="o"/><polygon points="389.4,203.4 402.4,199.9 390.3,196.4 377.4,199.9" fill="#ff2626" class="m"/><polygon points="414.6,203.4 427.3,199.9 415.1,196.4 402.4,199.9" fill="#ff2626" class="m"/><polygon points="439.7,203.4 452.2,199.9 439.9,196.4 427.3,199.9" fill="#ff2626" class="m"/><polygon points="464.8,203.4 477.2,199.9 464.6,196.4 452.2,199.9" fill="#ff2626" class="m"/><polygon points="489.9,203.4 502.1,199.8 489.4,196.4 477.2,199.9" fill="#ff2626" class="m"/><polygon points="514.4,201.6 518.4,202.3 514.1,201.2 510.1,200.6" fill="#7f1d16" stroke="#7f1d16" stroke-width="0.6"/><polygon points="518.7,202.6 522.7,203.3 518.4,202.3 514.4,201.6" fill="#801d15" stroke="#801d15" stroke-width="0.6"/><polygon points="523.0,203.6 527.0,204.3 522.7,203.3 518.7,202.6" fill="#801d15" stroke="#801d15" stroke-width="0.6"/><polygon points="510.4,200.8 514.4,201.6 510.1,200.6 506.1,199.8" fill="#801814" stroke="#801814" stroke-width="0.6"/><polygon points="514.7,201.7 518.7,202.6 514.4,201.6 510.4,200.8" fill="#801814" stroke="#801814" stroke-width="0.6"/><polygon points="519.1,202.7 523.0,203.6 518.7,202.6 514.7,201.7" fill="#801714" stroke="#801714" stroke-width="0.6"/><polygon points="506.4,201.0 510.4,200.8 506.1,199.8 502.1,199.8" fill="#ff2626" stroke="#ff2626" stroke-width="0.6"/><polygon points="510.7,202.2 514.7,201.7 510.4,200.8 506.4,201.0" fill="#ff2626" stroke="#ff2626" stroke-width="0.6"/><polygon points="515.0,203.4 519.1,202.7 514.7,201.7 510.7,202.2" fill="#ff2626" stroke="#ff2626" stroke-width="0.6"/><polygon points="515.0,203.4 517.0,202.8 519.1,202.7 521.0,203.1 523.0,203.6 525.0,204.0 527.0,204.3 524.8,203.8 522.7,203.3 520.5,202.8 518.4,202.3 516.2,201.8 514.1,201.2 512.1,200.9 510.1,200.6 508.1,200.2 506.1,199.8 504.1,199.3 502.1,199.8 504.3,200.4 506.4,201.0 508.5,201.6 510.7,202.2 512.9,202.8" class="o"/><polygon points="401.6,207.0 414.6,203.4 402.4,199.9 389.4,203.4" fill="#ff2626" class="m"/><polygon points="426.9,207.0 439.7,203.4 427.3,199.9 414.6,203.4" fill="#ff2626" class="m"/><polygon points="452.2,207.0 464.8,203.4 452.2,199.9 439.7,203.4" fill="#ff2626" class="m"/><polygon points="477.5,207.0 489.9,203.4 477.2,199.9 464.8,203.4" fill="#ff2626" class="m"/><polygon points="502.8,207.0 515.0,203.4 502.1,199.8 489.9,203.4" fill="#ff2626" class="m"/><polygon points="414.0,210.7 426.9,207.0 414.6,203.4 401.6,207.0" fill="#ff2626" class="m"/><polygon points="439.5,210.7 452.2,207.0 439.7,203.4 426.9,207.0" fill="#ff2626" class="m"/><polygon points="465.0,210.6 477.5,207.0 464.8,203.4 452.2,207.0" fill="#ff2626" class="m"/><polygon points="490.5,210.6 502.8,207.0 489.9,203.4 477.5,207.0" fill="#ff2626" class="m"/><polygon points="426.6,214.4 439.5,210.7 426.9,207.0 414.0,210.7" fill="#ff2626" class="m"/><polygon points="452.2,214.4 465.0,210.6 452.2,207.0 439.5,210.7" fill="#ff2626" class="m"/><polygon points="477.9,214.3 490.5,210.6 477.5,207.0 465.0,210.6" fill="#ff2626" class="m"/><polygon points="439.3,218.1 452.2,214.4 439.5,210.7 426.6,214.4" fill="#ff2626" class="m"/><polygon points="465.2,218.1 477.9,214.3 465.0,210.6 452.2,214.4" fill="#ff2626" class="m"/><polygon points="452.2,221.9 465.2,218.1 452.2,214.4 439.3,218.1" fill="#ff2626" class="m"/></g>
<circle cx="452.3" cy="155.3" r="3.9" fill="#c00000" stroke="#700000" stroke-width="0.8"/>
<circle cx="573.4" cy="191.6" r="3.9" fill="#c00000" stroke="#700000" stroke-width="0.8"/>
<line x1="573.4" y1="195.5" x2="573.4" y2="200.5" stroke="#300" stroke-width="0.9" stroke-linecap="round"/>
<circle cx="225.5" cy="155.2" r="2.4" fill="#000"/>
<text x="220.0" y="150.9" font-family='"Liberation Sans", sans-serif' font-size="10.3" font-weight="normal" fill="#000" text-anchor="end" textLength="16.2" lengthAdjust="spacingAndGlyphs" stroke="#000" stroke-width="0.7">100</text>
<circle cx="227.7" cy="199.6" r="2.4" fill="#000"/>
<text x="222.2" y="195.3" font-family='"Liberation Sans", sans-serif' font-size="10.3" font-weight="normal" fill="#000" text-anchor="end" textLength="11.6" lengthAdjust="spacingAndGlyphs" stroke="#000" stroke-width="0.7">88</text>
<circle cx="229.8" cy="244.0" r="2.4" fill="#000"/>
<text x="224.3" y="239.7" font-family='"Liberation Sans", sans-serif' font-size="10.3" font-weight="normal" fill="#000" text-anchor="end" textLength="11.6" lengthAdjust="spacingAndGlyphs" stroke="#000" stroke-width="0.7">76</text>
<circle cx="232.0" cy="288.4" r="2.4" fill="#000"/>
<text x="226.5" y="284.1" font-family='"Liberation Sans", sans-serif' font-size="10.3" font-weight="normal" fill="#000" text-anchor="end" textLength="11.6" lengthAdjust="spacingAndGlyphs" stroke="#000" stroke-width="0.7">64</text>
<circle cx="234.2" cy="332.9" r="2.4" fill="#000"/>
<text x="228.7" y="328.6" font-family='"Liberation Sans", sans-serif' font-size="10.3" font-weight="normal" fill="#000" text-anchor="end" textLength="11.6" lengthAdjust="spacingAndGlyphs" stroke="#000" stroke-width="0.7">52</text>
<circle cx="236.3" cy="377.3" r="2.4" fill="#000"/>
<text x="230.8" y="373.0" font-family='"Liberation Sans", sans-serif' font-size="10.3" font-weight="normal" fill="#000" text-anchor="end" textLength="11.6" lengthAdjust="spacingAndGlyphs" stroke="#000" stroke-width="0.7">40</text>
<circle cx="239.7" cy="446.8" r="2.2" fill="#000"/>
<text x="233.4" y="457.3" font-family='"Liberation Sans", sans-serif' font-size="10.3" font-weight="normal" fill="#000" text-anchor="end" textLength="11.9" lengthAdjust="spacingAndGlyphs" stroke="#000" stroke-width="0.7">80</text>
<circle cx="275.1" cy="463.9" r="2.2" fill="#000"/>
<text x="268.8" y="474.4" font-family='"Liberation Sans", sans-serif' font-size="10.3" font-weight="normal" fill="#000" text-anchor="end" textLength="11.9" lengthAdjust="spacingAndGlyphs" stroke="#000" stroke-width="0.7">70</text>
<circle cx="310.5" cy="481.0" r="2.2" fill="#000"/>
<text x="304.2" y="491.5" font-family='"Liberation Sans", sans-serif' font-size="10.3" font-weight="normal" fill="#000" text-anchor="end" textLength="11.9" lengthAdjust="spacingAndGlyphs" stroke="#000" stroke-width="0.7">60</text>
<circle cx="345.9" cy="498.1" r="2.2" fill="#000"/>
<text x="339.6" y="508.6" font-family='"Liberation Sans", sans-serif' font-size="10.3" font-weight="normal" fill="#000" text-anchor="end" textLength="11.9" lengthAdjust="spacingAndGlyphs" stroke="#000" stroke-width="0.7">50</text>
<circle cx="381.3" cy="515.3" r="2.2" fill="#000"/>
<text x="375.0" y="525.8" font-family='"Liberation Sans", sans-serif' font-size="10.3" font-weight="normal" fill="#000" text-anchor="end" textLength="11.9" lengthAdjust="spacingAndGlyphs" stroke="#000" stroke-width="0.7">40</text>
<circle cx="416.7" cy="532.4" r="2.2" fill="#000"/>
<text x="410.4" y="542.9" font-family='"Liberation Sans", sans-serif' font-size="10.3" font-weight="normal" fill="#000" text-anchor="end" textLength="11.9" lengthAdjust="spacingAndGlyphs" stroke="#000" stroke-width="0.7">30</text>
<circle cx="452.1" cy="549.5" r="2.2" fill="#000"/>
<text x="445.8" y="560.0" font-family='"Liberation Sans", sans-serif' font-size="10.3" font-weight="normal" fill="#000" text-anchor="end" textLength="11.9" lengthAdjust="spacingAndGlyphs" stroke="#000" stroke-width="0.7">20</text>
<circle cx="452.1" cy="549.5" r="2.2" fill="#000"/>
<text x="459.1" y="560.0" font-family='"Liberation Sans", sans-serif' font-size="10.3" font-weight="normal" fill="#000" text-anchor="start" textLength="11.6" lengthAdjust="spacingAndGlyphs" stroke="#000" stroke-width="0.7">50</text>
<circle cx="494.7" cy="529.0" r="2.2" fill="#000"/>
<text x="501.7" y="539.5" font-family='"Liberation Sans", sans-serif' font-size="10.3" font-weight="normal" fill="#000" text-anchor="start" textLength="11.6" lengthAdjust="spacingAndGlyphs" stroke="#000" stroke-width="0.7">70</text>
<circle cx="537.2" cy="508.5" r="2.2" fill="#000"/>
<text x="544.2" y="519.0" font-family='"Liberation Sans", sans-serif' font-size="10.3" font-weight="normal" fill="#000" text-anchor="start" textLength="11.6" lengthAdjust="spacingAndGlyphs" stroke="#000" stroke-width="0.7">90</text>
<circle cx="579.8" cy="488.1" r="2.2" fill="#000"/>
<text x="586.8" y="498.6" font-family='"Liberation Sans", sans-serif' font-size="10.3" font-weight="normal" fill="#000" text-anchor="start" textLength="18.2" lengthAdjust="spacingAndGlyphs" stroke="#000" stroke-width="0.7">110</text>
<circle cx="622.3" cy="467.6" r="2.2" fill="#000"/>
<text x="629.3" y="478.1" font-family='"Liberation Sans", sans-serif' font-size="10.3" font-weight="normal" fill="#000" text-anchor="start" textLength="18.2" lengthAdjust="spacingAndGlyphs" stroke="#000" stroke-width="0.7">130</text>
<circle cx="664.9" cy="447.1" r="2.2" fill="#000"/>
<text x="671.9" y="457.6" font-family='"Liberation Sans", sans-serif' font-size="10.3" font-weight="normal" fill="#000" text-anchor="start" textLength="18.2" lengthAdjust="spacingAndGlyphs" stroke="#000" stroke-width="0.7">150</text>
<text x="230.6" y="537.7" font-family='"Liberation Sans", sans-serif' font-size="10.3" font-weight="normal" fill="#000" text-anchor="start" textLength="66.2" lengthAdjust="spacingAndGlyphs" stroke="#000" stroke-width="0.7">D: Time (min)</text>
<text x="570.8" y="537.6" font-family='"Liberation Sans", sans-serif' font-size="10.3" font-weight="normal" fill="#000" text-anchor="start" textLength="138.8" lengthAdjust="spacingAndGlyphs" stroke="#000" stroke-width="0.7">B: Dye concentration (mg/L)</text>
<text x="157.3" y="360.0" font-family='"Liberation Sans", sans-serif' font-size="10.3" font-weight="normal" fill="#000" text-anchor="start" textLength="111.0" lengthAdjust="spacingAndGlyphs" stroke="#000" stroke-width="0.7" transform="rotate(-90 157.3 360.0)">Removal efficiency (%)</text>
<text x="374.7" y="596.9" font-family='"Liberation Serif", serif' font-size="20" font-weight="bold" fill="#000" text-anchor="middle" textLength="22.9" lengthAdjust="spacingAndGlyphs" stroke="#000" stroke-width="0.25">(a)</text>
<text x="466.6" y="646.0" font-family='"Liberation Sans", sans-serif' font-size="16.8" font-weight="normal" fill="#000" text-anchor="middle" textLength="174.3" lengthAdjust="spacingAndGlyphs" stroke="#000" stroke-width="0.7">Removal efficiency (%)</text>
<defs><radialGradient id="rg" gradientUnits="userSpaceOnUse" cx="0" cy="0" r="1" gradientTransform="matrix(-187.977 -793.480 -145.077 34.369 573.89 1570.43)"><stop offset="0.00" stop-color="#ff7200"/><stop offset="0.10" stop-color="#ff7000"/><stop offset="0.20" stop-color="#ff6d00"/><stop offset="0.30" stop-color="#ff6700"/><stop offset="0.40" stop-color="#ff5f00"/><stop offset="0.50" stop-color="#ff5500"/><stop offset="0.60" stop-color="#ff4900"/><stop offset="0.70" stop-color="#ff3a00"/><stop offset="0.80" stop-color="#ff2900"/><stop offset="0.90" stop-color="#ff1500"/><stop offset="1.00" stop-color="#ff0000"/></radialGradient><clipPath id="cp"><rect x="217.3" y="653.9" width="498.5" height="499.7"/></clipPath></defs>
<rect x="217.3" y="653.9" width="498.5" height="499.7" fill="url(#rg)"/>
<g clip-path="url(#cp)">
<polyline points="385.9,776.9 382.2,778.1 378.6,779.8 375.1,782.1 371.8,784.9 368.6,788.2 365.5,792.1 362.6,796.5 359.9,801.4 357.2,806.9 354.8,812.9 352.5,819.4 350.3,826.4 348.3,833.9 346.4,842.0 344.7,850.5 343.2,859.5 341.8,869.0 340.5,879.0 339.5,889.5 338.6,900.4 337.8,911.8 337.2,923.7 336.8,936.0 336.5,948.7 336.4,961.8 336.5,975.4 336.7,989.4 337.1,1003.8 337.7,1018.5 338.4,1033.7 339.3,1049.2 340.3,1065.0 341.5,1081.2 342.8,1097.8 344.4,1114.7 346.0,1131.8 347.9,1149.3 349.8,1167.1 352.0,1185.1 354.3,1203.5 356.7,1222.0 359.3,1240.8 362.0,1259.8 364.9,1279.1 367.9,1298.5 371.1,1318.2 374.4,1338.0 377.8,1357.9 381.4,1378.0 385.1,1398.3 388.9,1418.6 392.9,1439.1 397.0,1459.6 401.2,1480.2 405.5,1500.9 410.0,1521.7 414.5,1542.4 419.2,1563.2 423.9,1584.0 428.8,1604.8 433.8,1625.6 438.9,1646.3 444.0,1666.9 449.3,1687.6 454.6,1708.1 460.0,1728.5 465.5,1748.8 471.1,1769.0 476.7,1789.1 482.4,1809.0 488.2,1828.7 494.0,1848.3 499.9,1867.7 505.8,1886.9 511.8,1905.8 517.8,1924.6 523.9,1943.1 530.0,1961.3 536.1,1979.2 542.2,1996.9 548.4,2014.3 554.6,2031.4 560.8,2048.2 567.0,2064.6 573.2,2080.7 579.4,2096.5 585.7,2111.9 591.9,2126.9 598.1,2141.6 604.2,2155.8 610.4,2169.7 616.5,2183.1 622.6,2196.1 628.7,2208.7 634.7,2220.9 640.7,2232.6 646.6,2243.8 652.5,2254.6 658.4,2264.9 664.1,2274.8 669.9,2284.2 675.5,2293.0 681.1,2301.4 686.6,2309.3 692.0,2316.7 697.4,2323.5 702.7,2329.9 707.8,2335.7 712.9,2341.0 717.9,2345.8 722.8,2350.0 727.6,2353.7 732.3,2356.9 736.9,2359.5 741.3,2361.6 745.7,2363.2 749.9,2364.2 754.0,2364.6 758.0,2364.5 761.9,2363.9 765.6,2362.7 769.2,2361.0 772.7,2358.8 776.0,2356.0 779.2,2352.6 782.3,2348.8 785.2,2344.4 787.9,2339.4 790.5,2334.0 793.0,2328.0 795.3,2321.5 797.5,2314.5 799.5,2306.9 801.4,2298.9 803.1,2290.4 804.6,2281.3 806.0,2271.8 807.2,2261.8 808.3,2251.4 809.2,2240.4 810.0,2229.0 810.6,2217.2 811.0,2204.9 811.2,2192.2 811.3,2179.0 811.3,2165.5 811.1,2151.5 810.7,2137.1 810.1,2122.3 809.4,2107.2 808.5,2091.7 807.5,2075.8 806.3,2059.6 804.9,2043.1 803.4,2026.2 801.8,2009.0 799.9,1991.5 797.9,1973.8 795.8,1955.7 793.5,1937.4 791.1,1918.8 788.5,1900.0 785.8,1881.0 782.9,1861.8 779.9,1842.3 776.7,1822.7 773.4,1802.9 770.0,1782.9 766.4,1762.8 762.7,1742.6 758.8,1722.2 754.9,1701.8 750.8,1681.2 746.6,1660.6 742.3,1639.9 737.8,1619.2 733.3,1598.4 728.6,1577.6 723.8,1556.8 719.0,1536.1 714.0,1515.3 708.9,1494.6 703.8,1473.9 698.5,1453.3 693.2,1432.8 687.8,1412.4 682.3,1392.0 676.7,1371.8 671.1,1351.8 665.4,1331.9 659.6,1312.1 653.8,1292.5 647.9,1273.2 642.0,1254.0 636.0,1235.0 630.0,1216.3 623.9,1197.8 617.8,1179.6 611.7,1161.6 605.5,1143.9 599.4,1126.5 593.2,1109.4 587.0,1092.7 580.8,1076.2 574.6,1060.1 568.3,1044.4 562.1,1029.0 555.9,1013.9 549.7,999.3 543.6,985.1 537.4,971.2 531.3,957.8 525.2,944.7 519.1,932.2 513.1,920.0 507.1,908.3 501.1,897.0 495.3,886.2 489.4,875.9 483.6,866.1 477.9,856.7 472.3,847.8 466.7,839.5 461.2,831.6 455.7,824.2 450.4,817.3 445.1,811.0 439.9,805.2 434.9,799.9 429.9,795.1 425.0,790.9 420.2,787.1 415.5,784.0 410.9,781.3 406.5,779.3 402.1,777.7 397.9,776.7 393.8,776.2 389.8,776.3 385.9,776.9" fill="none" stroke="#000" stroke-width="0.9" stroke-linejoin="round"/>
<polyline points="257.2,233.4 250.9,235.4 244.8,238.3 238.9,242.1 233.3,246.8 228.0,252.4 222.8,258.9 217.9,266.4 213.2,274.7 208.8,283.9 204.7,294.0 200.8,304.9 197.1,316.8 193.7,329.4 190.6,343.0 187.7,357.4 185.1,372.6 182.8,388.6 180.7,405.4 178.9,423.1 177.4,441.5 176.1,460.7 175.1,480.7 174.4,501.4 174.0,522.8 173.8,545.0 173.9,567.8 174.3,591.4 174.9,615.6 175.9,640.5 177.1,666.0 178.5,692.1 180.3,718.8 182.3,746.1 184.6,774.0 187.1,802.5 189.9,831.4 193.0,860.9 196.4,890.8 200.0,921.2 203.8,952.1 207.9,983.4 212.3,1015.0 216.9,1047.1 221.7,1079.5 226.8,1112.3 232.2,1145.4 237.7,1178.7 243.5,1212.3 249.5,1246.2 255.8,1280.3 262.3,1314.6 268.9,1349.1 275.8,1383.7 282.9,1418.5 290.2,1453.3 297.7,1488.3 305.3,1523.3 313.2,1558.3 321.2,1593.3 329.4,1628.3 337.8,1663.3 346.3,1698.2 355.0,1733.1 363.9,1767.8 372.9,1802.4 382.0,1836.8 391.3,1871.0 400.6,1905.1 410.1,1938.9 419.7,1972.4 429.5,2005.7 439.3,2038.7 449.2,2071.3 459.2,2103.6 469.3,2135.6 479.4,2167.1 489.6,2198.3 499.9,2229.0 510.2,2259.3 520.6,2289.1 531.0,2318.4 541.4,2347.2 551.8,2375.4 562.3,2403.2 572.8,2430.3 583.2,2456.8 593.7,2482.8 604.2,2508.1 614.6,2532.8 625.0,2556.8 635.4,2580.1 645.7,2602.8 656.0,2624.7 666.2,2645.9 676.4,2666.4 686.5,2686.1 696.5,2705.1 706.4,2723.3 716.2,2740.7 726.0,2757.3 735.6,2773.1 745.1,2788.0 754.5,2802.1 763.8,2815.4 773.0,2827.8 782.0,2839.4 790.9,2850.1 799.6,2859.9 808.2,2868.8 816.6,2876.9 824.8,2884.0 832.9,2890.3 840.8,2895.6 848.5,2900.0 856.0,2903.6 863.3,2906.2 870.5,2907.9 877.4,2908.6 884.1,2908.5 890.6,2907.4 896.9,2905.5 903.0,2902.6 908.8,2898.8 914.5,2894.1 919.8,2888.4 925.0,2881.9 929.9,2874.5 934.5,2866.2 938.9,2857.0 943.1,2846.9 947.0,2835.9 950.7,2824.1 954.1,2811.4 957.2,2797.9 960.1,2783.5 962.7,2768.3 965.0,2752.3 967.1,2735.4 968.9,2717.8 970.4,2699.4 971.7,2680.2 972.7,2660.2 973.4,2639.5 973.8,2618.1 974.0,2595.9 973.9,2573.0 973.5,2549.5 972.8,2525.3 971.9,2500.4 970.7,2474.9 969.2,2448.8 967.5,2422.0 965.5,2394.7 963.2,2366.8 960.7,2338.4 957.8,2309.5 954.8,2280.0 951.4,2250.1 947.8,2219.6 944.0,2188.8 939.9,2157.5 935.5,2125.8 930.9,2093.8 926.0,2061.3 921.0,2028.6 915.6,1995.5 910.1,1962.1 904.3,1928.5 898.2,1894.6 892.0,1860.5 885.5,1826.2 878.9,1791.8 872.0,1757.1 864.9,1722.4 857.6,1687.5 850.1,1652.6 842.4,1617.6 834.6,1582.6 826.6,1547.5 818.3,1512.5 810.0,1477.5 801.4,1442.6 792.7,1407.8 783.9,1373.1 774.9,1338.5 765.8,1304.1 756.5,1269.8 747.2,1235.8 737.7,1202.0 728.0,1168.4 718.3,1135.2 708.5,1102.2 698.6,1069.5 688.6,1037.2 678.5,1005.3 668.4,973.7 658.2,942.6 647.9,911.8 637.6,881.6 627.2,851.8 616.8,822.5 606.4,793.7 596.0,765.4 585.5,737.7 575.0,710.6 564.5,684.0 554.1,658.1 543.6,632.8 533.2,608.1 522.8,584.1 512.4,560.7 502.1,538.1 491.8,516.1 481.6,494.9 471.4,474.5 461.3,454.7 451.3,435.8 441.4,417.6 431.6,400.2 421.8,383.6 412.2,367.8 402.7,352.9 393.2,338.7 384.0,325.5 374.8,313.0 365.8,301.5 356.9,290.8 348.2,281.0 339.6,272.0 331.2,264.0 323.0,256.8 314.9,250.6 307.0,245.3 299.3,240.8 291.8,237.3 284.4,234.7 277.3,233.0 270.4,232.2 263.7,232.4 257.2,233.4" fill="none" stroke="#000" stroke-width="0.9" stroke-linejoin="round"/>
<polyline points="166.0,-151.4 157.9,-148.9 150.1,-145.2 142.5,-140.3 135.3,-134.2 128.4,-127.0 121.8,-118.6 115.4,-109.0 109.4,-98.3 103.8,-86.4 98.4,-73.4 93.4,-59.3 88.7,-44.1 84.3,-27.8 80.3,-10.3 76.6,8.2 73.2,27.8 70.2,48.4 67.5,70.1 65.2,92.8 63.2,116.6 61.6,141.3 60.3,167.0 59.4,193.7 58.8,221.3 58.6,249.8 58.8,279.2 59.3,309.6 60.1,340.7 61.3,372.8 62.8,405.6 64.7,439.3 67.0,473.7 69.6,508.9 72.5,544.8 75.8,581.4 79.4,618.7 83.4,656.6 87.7,695.2 92.3,734.4 97.3,774.1 102.6,814.4 108.2,855.2 114.1,896.5 120.4,938.2 126.9,980.4 133.8,1023.0 141.0,1066.0 148.4,1109.3 156.2,1152.9 164.2,1196.8 172.5,1241.0 181.1,1285.4 190.0,1330.0 199.1,1374.7 208.5,1419.6 218.2,1464.6 228.0,1509.7 238.2,1554.8 248.5,1599.9 259.1,1645.0 269.9,1690.1 280.9,1735.0 292.1,1779.9 303.4,1824.6 315.0,1869.1 326.8,1913.4 338.7,1957.5 350.8,2001.4 363.0,2044.9 375.4,2088.1 387.9,2131.0 400.5,2173.4 413.3,2215.5 426.2,2257.1 439.1,2298.3 452.2,2338.9 465.4,2379.0 478.6,2418.6 491.9,2457.6 505.2,2495.9 518.6,2533.7 532.0,2570.8 545.5,2607.2 559.0,2642.8 572.5,2677.8 585.9,2712.0 599.4,2745.4 612.9,2778.0 626.3,2809.8 639.7,2840.7 653.1,2870.8 666.4,2899.9 679.6,2928.2 692.8,2955.5 705.9,2981.9 718.9,3007.3 731.7,3031.7 744.5,3055.1 757.2,3077.5 769.7,3098.9 782.2,3119.2 794.4,3138.5 806.5,3156.7 818.5,3173.8 830.3,3189.8 841.9,3204.6 853.3,3218.4 864.6,3231.1 875.6,3242.6 886.4,3252.9 897.0,3262.1 907.4,3270.2 917.6,3277.0 927.5,3282.7 937.2,3287.3 946.7,3290.6 955.8,3292.8 964.8,3293.8 973.4,3293.6 981.8,3292.3 989.9,3289.7 997.7,3286.0 1005.2,3281.1 1012.5,3275.1 1019.4,3267.8 1026.0,3259.4 1032.3,3249.9 1038.3,3239.1 1044.0,3227.3 1049.4,3214.3 1054.4,3200.2 1059.1,3185.0 1063.5,3168.6 1067.5,3151.2 1071.2,3132.7 1074.6,3113.1 1077.6,3092.4 1080.3,3070.8 1082.6,3048.0 1084.6,3024.3 1086.2,2999.6 1087.5,2973.9 1088.4,2947.2 1088.9,2919.6 1089.2,2891.1 1089.0,2861.6 1088.5,2831.3 1087.7,2800.1 1086.5,2768.1 1084.9,2735.2 1083.0,2701.6 1080.8,2667.1 1078.2,2632.0 1075.3,2596.1 1072.0,2559.5 1068.3,2522.2 1064.4,2484.2 1060.1,2445.7 1055.5,2406.5 1050.5,2366.8 1045.2,2326.5 1039.6,2285.7 1033.7,2244.4 1027.4,2202.6 1020.8,2160.4 1014.0,2117.9 1006.8,2074.9 999.4,2031.6 991.6,1988.0 983.6,1944.0 975.2,1899.9 966.6,1855.5 957.8,1810.9 948.6,1766.1 939.3,1721.2 929.6,1676.2 919.7,1631.2 909.6,1586.1 899.3,1540.9 888.7,1495.8 877.9,1450.8 866.9,1405.8 855.7,1361.0 844.3,1316.3 832.8,1271.7 821.0,1227.4 809.1,1183.3 797.0,1139.5 784.8,1096.0 772.4,1052.7 759.9,1009.9 747.3,967.4 734.5,925.4 721.6,883.7 708.6,842.6 695.6,802.0 682.4,761.8 669.2,722.3 655.9,683.3 642.6,644.9 629.2,607.2 615.8,570.1 602.3,533.7 588.8,498.0 575.3,463.1 561.8,428.9 548.4,395.5 534.9,362.9 521.5,331.1 508.1,300.2 494.7,270.1 481.4,240.9 468.2,212.7 455.0,185.4 441.9,159.0 428.9,133.6 416.0,109.2 403.3,85.7 390.6,63.3 378.0,42.0 365.6,21.7 353.4,2.4 341.3,-15.8 329.3,-32.9 317.5,-48.9 305.9,-63.8 294.5,-77.6 283.2,-90.2 272.2,-101.7 261.4,-112.1 250.7,-121.3 240.4,-129.3 230.2,-136.2 220.3,-141.9 210.6,-146.4 201.1,-149.8 191.9,-152.0 183.0,-153.0 174.4,-152.8 166.0,-151.4" fill="none" stroke="#000" stroke-width="0.9" stroke-linejoin="round"/>
</g>
<rect x="217.3" y="653.9" width="498.5" height="499.7" fill="none" stroke="#000" stroke-width="1.2"/>
<rect x="428.0" y="794.3" width="18" height="10" fill="#fff" stroke="#000" stroke-width="0.8"/>
<text x="437.0" y="802.0" font-family='"Liberation Sans", sans-serif' font-size="7.2" font-weight="normal" fill="#222" text-anchor="middle" textLength="11.5" lengthAdjust="spacingAndGlyphs">100</text>
<rect x="630.0" y="874.4" width="18" height="10" fill="#fff" stroke="#000" stroke-width="0.8"/>
<text x="639.0" y="882.1" font-family='"Liberation Sans", sans-serif' font-size="7.2" font-weight="normal" fill="#222" text-anchor="middle" textLength="11.5" lengthAdjust="spacingAndGlyphs">110</text>
<rect x="672.0" y="750.7" width="18" height="10" fill="#fff" stroke="#000" stroke-width="0.8"/>
<text x="681.0" y="758.4" font-family='"Liberation Sans", sans-serif' font-size="7.2" font-weight="normal" fill="#222" text-anchor="middle" textLength="11.5" lengthAdjust="spacingAndGlyphs">120</text>
<rect x="217.8" y="1106.2" width="18" height="10" fill="#fff" stroke="#000" stroke-width="0.8"/>
<text x="226.8" y="1113.9" font-family='"Liberation Sans", sans-serif' font-size="7.2" font-weight="normal" fill="#222" text-anchor="middle" textLength="11.5" lengthAdjust="spacingAndGlyphs">110</text>
<circle cx="466.5" cy="903.8" r="4.6" fill="#c00000" stroke="#500000" stroke-width="1"/>
<circle cx="466.5" cy="1153.6" r="4.6" fill="#c00000" stroke="#500000" stroke-width="1"/>
<line x1="204.6" y1="653.9" x2="217.3" y2="653.9" stroke="#000" stroke-width="1.3" stroke-linecap="round"/>
<text x="201.0" y="657.9" font-family='"Liberation Sans", sans-serif' font-size="10.8" font-weight="normal" fill="#000" text-anchor="end" textLength="12.3" lengthAdjust="spacingAndGlyphs" stroke="#000" stroke-width="0.7">80</text>
<line x1="204.6" y1="737.2" x2="217.3" y2="737.2" stroke="#000" stroke-width="1.3" stroke-linecap="round"/>
<text x="201.0" y="741.2" font-family='"Liberation Sans", sans-serif' font-size="10.8" font-weight="normal" fill="#000" text-anchor="end" textLength="12.3" lengthAdjust="spacingAndGlyphs" stroke="#000" stroke-width="0.7">70</text>
<line x1="204.6" y1="820.5" x2="217.3" y2="820.5" stroke="#000" stroke-width="1.3" stroke-linecap="round"/>
<text x="201.0" y="824.5" font-family='"Liberation Sans", sans-serif' font-size="10.8" font-weight="normal" fill="#000" text-anchor="end" textLength="12.3" lengthAdjust="spacingAndGlyphs" stroke="#000" stroke-width="0.7">60</text>
<line x1="204.6" y1="903.8" x2="217.3" y2="903.8" stroke="#000" stroke-width="1.3" stroke-linecap="round"/>
<text x="201.0" y="907.8" font-family='"Liberation Sans", sans-serif' font-size="10.8" font-weight="normal" fill="#000" text-anchor="end" textLength="12.3" lengthAdjust="spacingAndGlyphs" stroke="#000" stroke-width="0.7">50</text>
<line x1="204.6" y1="987.0" x2="217.3" y2="987.0" stroke="#000" stroke-width="1.3" stroke-linecap="round"/>
<text x="201.0" y="991.0" font-family='"Liberation Sans", sans-serif' font-size="10.8" font-weight="normal" fill="#000" text-anchor="end" textLength="12.3" lengthAdjust="spacingAndGlyphs" stroke="#000" stroke-width="0.7">40</text>
<line x1="204.6" y1="1070.3" x2="217.3" y2="1070.3" stroke="#000" stroke-width="1.3" stroke-linecap="round"/>
<text x="201.0" y="1074.3" font-family='"Liberation Sans", sans-serif' font-size="10.8" font-weight="normal" fill="#000" text-anchor="end" textLength="12.3" lengthAdjust="spacingAndGlyphs" stroke="#000" stroke-width="0.7">30</text>
<line x1="204.6" y1="1153.6" x2="217.3" y2="1153.6" stroke="#000" stroke-width="1.3" stroke-linecap="round"/>
<text x="201.0" y="1157.6" font-family='"Liberation Sans", sans-serif' font-size="10.8" font-weight="normal" fill="#000" text-anchor="end" textLength="12.3" lengthAdjust="spacingAndGlyphs" stroke="#000" stroke-width="0.7">20</text>
<line x1="217.3" y1="1153.6" x2="217.3" y2="1164.6" stroke="#000" stroke-width="1.3" stroke-linecap="round"/>
<text x="217.3" y="1179.6" font-family='"Liberation Sans", sans-serif' font-size="10.8" font-weight="normal" fill="#000" text-anchor="middle" textLength="13.0" lengthAdjust="spacingAndGlyphs" stroke="#000" stroke-width="0.7">50</text>
<line x1="317.0" y1="1153.6" x2="317.0" y2="1164.6" stroke="#000" stroke-width="1.3" stroke-linecap="round"/>
<text x="317.0" y="1179.6" font-family='"Liberation Sans", sans-serif' font-size="10.8" font-weight="normal" fill="#000" text-anchor="middle" textLength="13.0" lengthAdjust="spacingAndGlyphs" stroke="#000" stroke-width="0.7">70</text>
<line x1="416.7" y1="1153.6" x2="416.7" y2="1164.6" stroke="#000" stroke-width="1.3" stroke-linecap="round"/>
<text x="416.7" y="1179.6" font-family='"Liberation Sans", sans-serif' font-size="10.8" font-weight="normal" fill="#000" text-anchor="middle" textLength="13.0" lengthAdjust="spacingAndGlyphs" stroke="#000" stroke-width="0.7">90</text>
<line x1="516.4" y1="1153.6" x2="516.4" y2="1164.6" stroke="#000" stroke-width="1.3" stroke-linecap="round"/>
<text x="516.4" y="1179.6" font-family='"Liberation Sans", sans-serif' font-size="10.8" font-weight="normal" fill="#000" text-anchor="middle" textLength="19.5" lengthAdjust="spacingAndGlyphs" stroke="#000" stroke-width="0.7">110</text>
<line x1="616.1" y1="1153.6" x2="616.1" y2="1164.6" stroke="#000" stroke-width="1.3" stroke-linecap="round"/>
<text x="616.1" y="1179.6" font-family='"Liberation Sans", sans-serif' font-size="10.8" font-weight="normal" fill="#000" text-anchor="middle" textLength="19.5" lengthAdjust="spacingAndGlyphs" stroke="#000" stroke-width="0.7">130</text>
<line x1="715.8" y1="1153.6" x2="715.8" y2="1164.6" stroke="#000" stroke-width="1.3" stroke-linecap="round"/>
<text x="715.8" y="1179.6" font-family='"Liberation Sans", sans-serif' font-size="10.8" font-weight="normal" fill="#000" text-anchor="middle" textLength="19.5" lengthAdjust="spacingAndGlyphs" stroke="#000" stroke-width="0.7">150</text>
<text x="466.0" y="1218.0" font-family='"Liberation Sans", sans-serif' font-size="13.2" font-weight="normal" fill="#000" text-anchor="middle" textLength="178.0" lengthAdjust="spacingAndGlyphs" stroke="#000" stroke-width="0.7">B: Dye concentration (mg/L)</text>
<text x="139.8" y="944.0" font-family='"Liberation Sans", sans-serif' font-size="15.6" font-weight="normal" fill="#000" text-anchor="start" textLength="85.0" lengthAdjust="spacingAndGlyphs" stroke="#000" stroke-width="0.7" transform="rotate(-90 139.8 944.0)">D: Time (min)</text>
<text x="375.3" y="1247.5" font-family='"Liberation Serif", serif' font-size="20" font-weight="bold" fill="#000" text-anchor="middle" textLength="23.8" lengthAdjust="spacingAndGlyphs" stroke="#000" stroke-width="0.25">(b)</text>
</svg>
</body></html>
